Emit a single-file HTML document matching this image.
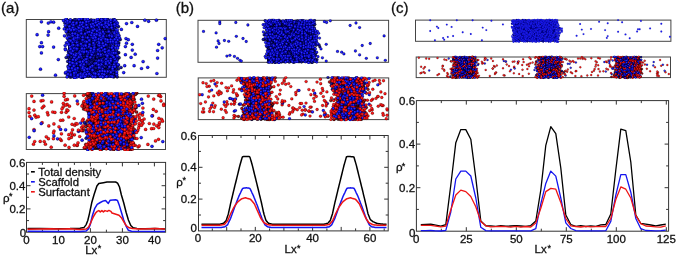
<!DOCTYPE html>
<html><head><meta charset="utf-8"><style>
html,body{margin:0;padding:0;background:#fff;width:677px;height:256px;overflow:hidden}
svg{display:block;will-change:transform}
text{stroke:#111;stroke-width:.3px}
.b{fill:url(#gb)}.r{fill:url(#gr)}.bd{fill:url(#gbd)}.rd{fill:url(#grd)}circle{stroke:#000;stroke-opacity:.45;stroke-width:.4px}.bd circle,.rd circle{stroke-opacity:.6}#ca1g circle{r:1.6px}#ca2g circle{r:1.6px}#cb1g circle{r:1.4px}#cb2g circle{r:1.45px}#cc1g circle{r:0.95px}#cc1g circle{stroke-opacity:.2}#cc1g .b{fill:#1c1cf4}#cc1g .bd{fill:#0505a0}#cc2g circle{r:1.0px}
</style></head><body>
<svg width="677" height="256" viewBox="0 0 677 256" font-family="Liberation Sans, sans-serif" fill="#111">
<defs><radialGradient id="gb" cx=".45" cy=".42" r=".58"><stop offset="0" stop-color="#3a3aff"/><stop offset=".6" stop-color="#0c0cec"/><stop offset="1" stop-color="#000090"/></radialGradient><radialGradient id="gbd" cx=".42" cy=".4" r=".6"><stop offset="0" stop-color="#2020c0"/><stop offset=".55" stop-color="#0a0a90"/><stop offset="1" stop-color="#000030"/></radialGradient><radialGradient id="grd" cx=".42" cy=".4" r=".6"><stop offset="0" stop-color="#c02020"/><stop offset=".55" stop-color="#900a0a"/><stop offset="1" stop-color="#300000"/></radialGradient><radialGradient id="gr" cx=".45" cy=".42" r=".58"><stop offset="0" stop-color="#ff3030"/><stop offset=".65" stop-color="#ec0606"/><stop offset="1" stop-color="#a00000"/></radialGradient></defs>
<rect x="26.3" y="19.5" width="140" height="57.8" fill="#fff" stroke="#444" stroke-width="1"/>
<clipPath id="ca1"><rect x="25.8" y="17.9" width="141" height="61"/></clipPath>
<g clip-path="url(#ca1)" id="ca1g">
<rect x="68" y="19.5" width="47" height="57.8" fill="#000030"/>
<g class="bd">
<circle cx="68.2" cy="66.1"/>
<circle cx="89" cy="61.1"/>
<circle cx="81.2" cy="53.4"/>
<circle cx="96.3" cy="66.6"/>
<circle cx="96.1" cy="52.5"/>
</g>
<g class="b">
<circle cx="131.8" cy="22.5"/>
</g>
<g class="bd">
<circle cx="83.2" cy="56.4"/>
<circle cx="76.2" cy="31.5"/>
<circle cx="119" cy="57.7"/>
<circle cx="78.8" cy="64.3"/>
<circle cx="89.7" cy="71.6"/>
<circle cx="95.4" cy="24.5"/>
<circle cx="64.9" cy="23"/>
<circle cx="96.2" cy="70.5"/>
<circle cx="93.4" cy="56.2"/>
<circle cx="97.5" cy="65.2"/>
<circle cx="93.5" cy="38.7"/>
<circle cx="79" cy="29.4"/>
</g>
<g class="b">
<circle cx="48.1" cy="35.1"/>
</g>
<g class="bd">
<circle cx="115.2" cy="60.6"/>
<circle cx="72.9" cy="41.3"/>
<circle cx="90.4" cy="54"/>
<circle cx="94" cy="66"/>
<circle cx="79.8" cy="60.3"/>
<circle cx="93.2" cy="72.8"/>
<circle cx="69.2" cy="36.2"/>
<circle cx="108.3" cy="36.6"/>
<circle cx="115.6" cy="56.7"/>
<circle cx="103.8" cy="56.4"/>
<circle cx="100.7" cy="60.9"/>
<circle cx="73.5" cy="68.1"/>
<circle cx="94.3" cy="55.3"/>
<circle cx="86.3" cy="36.2"/>
<circle cx="95.9" cy="54.3"/>
<circle cx="96.4" cy="56.1"/>
<circle cx="107" cy="32.7"/>
<circle cx="101.1" cy="27.4"/>
<circle cx="79.2" cy="65.1"/>
</g>
<g class="b">
<circle cx="126.5" cy="23.6"/>
</g>
<g class="bd">
<circle cx="67.9" cy="75.6"/>
<circle cx="110.1" cy="28.5"/>
</g>
<g class="b">
<circle cx="55.5" cy="75.2"/>
<circle cx="157.6" cy="50.5"/>
</g>
<g class="bd">
<circle cx="116.1" cy="63.3"/>
<circle cx="98.3" cy="58.6"/>
<circle cx="71.1" cy="22.4"/>
<circle cx="91.5" cy="60.2"/>
<circle cx="89" cy="37.4"/>
<circle cx="74.2" cy="20"/>
<circle cx="79" cy="71.3"/>
<circle cx="102.8" cy="30.4"/>
<circle cx="117" cy="39.4"/>
<circle cx="101.3" cy="66.6"/>
<circle cx="114.8" cy="75.5"/>
<circle cx="71.8" cy="26.3"/>
<circle cx="112.2" cy="30.9"/>
<circle cx="102.5" cy="51.9"/>
<circle cx="71.3" cy="33.5"/>
<circle cx="78.7" cy="40.2"/>
<circle cx="95.8" cy="43.9"/>
<circle cx="104.1" cy="76.2"/>
<circle cx="96.7" cy="51"/>
<circle cx="115.2" cy="54.6"/>
<circle cx="113.4" cy="59.7"/>
<circle cx="89.1" cy="62.9"/>
</g>
<g class="b">
<circle cx="48.6" cy="31.7"/>
</g>
<g class="bd">
<circle cx="87.9" cy="55.6"/>
<circle cx="90.5" cy="29.3"/>
<circle cx="113.6" cy="49.2"/>
<circle cx="80.6" cy="42.1"/>
<circle cx="92.6" cy="68.1"/>
<circle cx="68.3" cy="39.6"/>
<circle cx="70.4" cy="77.1"/>
<circle cx="92.1" cy="50.8"/>
<circle cx="88" cy="57.7"/>
<circle cx="96.7" cy="72.5"/>
<circle cx="114.7" cy="41.5"/>
<circle cx="107.2" cy="66.7"/>
<circle cx="98.7" cy="76.1"/>
<circle cx="117.2" cy="66.2"/>
<circle cx="78.4" cy="42.1"/>
<circle cx="105.3" cy="28.9"/>
<circle cx="118.7" cy="52.7"/>
<circle cx="80.5" cy="39.5"/>
<circle cx="87.4" cy="20.2"/>
<circle cx="83.9" cy="62.8"/>
<circle cx="114.4" cy="53.9"/>
<circle cx="101.2" cy="59.2"/>
<circle cx="86.3" cy="47.3"/>
<circle cx="90.8" cy="69.3"/>
<circle cx="95.1" cy="52"/>
<circle cx="91.7" cy="46.6"/>
<circle cx="85.6" cy="32.2"/>
<circle cx="88.7" cy="51.5"/>
<circle cx="77.1" cy="46.6"/>
<circle cx="72" cy="53.1"/>
<circle cx="91.9" cy="21.7"/>
<circle cx="105.4" cy="33.2"/>
<circle cx="88.8" cy="65"/>
<circle cx="112.3" cy="29.2"/>
<circle cx="109.1" cy="60.1"/>
<circle cx="95.3" cy="69.6"/>
<circle cx="83.1" cy="72.5"/>
</g>
<g class="b">
<circle cx="53.6" cy="22.2"/>
</g>
<g class="bd">
<circle cx="98.2" cy="76.5"/>
<circle cx="94.1" cy="62.9"/>
<circle cx="109.3" cy="67.4"/>
<circle cx="77" cy="74.4"/>
<circle cx="90.1" cy="37.7"/>
<circle cx="112.5" cy="43.2"/>
<circle cx="75.7" cy="75.1"/>
<circle cx="70.4" cy="31.6"/>
<circle cx="94" cy="20.4"/>
<circle cx="108.9" cy="69.4"/>
<circle cx="77.8" cy="55.7"/>
<circle cx="66.7" cy="31.9"/>
<circle cx="74.8" cy="50.7"/>
<circle cx="100" cy="21.9"/>
<circle cx="110.1" cy="45.2"/>
<circle cx="106.7" cy="69.5"/>
<circle cx="75.3" cy="52.9"/>
<circle cx="111" cy="24.3"/>
<circle cx="111.5" cy="69.4"/>
<circle cx="94.5" cy="21.6"/>
<circle cx="81.3" cy="25.9"/>
<circle cx="106.1" cy="31.9"/>
<circle cx="82.3" cy="61.1"/>
<circle cx="101.7" cy="51.3"/>
<circle cx="84.7" cy="26.2"/>
<circle cx="104.6" cy="40.5"/>
<circle cx="99.7" cy="76.4"/>
<circle cx="102.7" cy="53.9"/>
<circle cx="118.3" cy="68.9"/>
<circle cx="70.6" cy="70.3"/>
<circle cx="80.3" cy="34.3"/>
<circle cx="91.2" cy="19.9"/>
<circle cx="72.2" cy="31.1"/>
<circle cx="88.3" cy="48.1"/>
<circle cx="116.5" cy="73.9"/>
<circle cx="104" cy="25"/>
<circle cx="68.7" cy="54.7"/>
<circle cx="108" cy="29.8"/>
<circle cx="103.7" cy="34.8"/>
<circle cx="90.7" cy="61.9"/>
<circle cx="111.2" cy="72.7"/>
<circle cx="76.9" cy="24.7"/>
<circle cx="89.1" cy="23.4"/>
<circle cx="92.6" cy="42.9"/>
<circle cx="109.9" cy="56"/>
<circle cx="70.2" cy="59.1"/>
<circle cx="106.8" cy="46.8"/>
<circle cx="109" cy="74.2"/>
<circle cx="91.4" cy="30.5"/>
<circle cx="86.1" cy="55.2"/>
</g>
<g class="b">
<circle cx="126" cy="38.6"/>
</g>
<g class="bd">
<circle cx="111.9" cy="21.3"/>
<circle cx="75.8" cy="63.5"/>
<circle cx="111.4" cy="62"/>
<circle cx="75.2" cy="21.9"/>
<circle cx="76.7" cy="59.3"/>
<circle cx="114" cy="71.2"/>
<circle cx="69.1" cy="42.9"/>
<circle cx="103.1" cy="35.6"/>
<circle cx="71.7" cy="76.6"/>
<circle cx="111.9" cy="66.4"/>
<circle cx="69.8" cy="22.8"/>
<circle cx="109.8" cy="33.8"/>
<circle cx="82.6" cy="18.9"/>
<circle cx="95.9" cy="74.7"/>
<circle cx="69.7" cy="56"/>
<circle cx="70.3" cy="20.2"/>
<circle cx="105" cy="64.3"/>
<circle cx="106.1" cy="35.5"/>
<circle cx="71.5" cy="39.5"/>
<circle cx="86.2" cy="65.8"/>
<circle cx="116.7" cy="57.9"/>
<circle cx="92.4" cy="63.5"/>
<circle cx="78.3" cy="48.5"/>
<circle cx="109.6" cy="58.9"/>
<circle cx="99.1" cy="56.6"/>
<circle cx="76.2" cy="45.1"/>
<circle cx="113.6" cy="24.8"/>
<circle cx="91.5" cy="56.9"/>
<circle cx="94.6" cy="68"/>
<circle cx="80.5" cy="36.3"/>
<circle cx="80" cy="69.6"/>
<circle cx="68.1" cy="57.1"/>
<circle cx="84.1" cy="56.6"/>
<circle cx="99.8" cy="73.1"/>
<circle cx="70.9" cy="58"/>
<circle cx="104.9" cy="51.9"/>
<circle cx="77" cy="40.5"/>
<circle cx="117.2" cy="53"/>
</g>
<g class="b">
<circle cx="158.7" cy="44.3"/>
</g>
<g class="bd">
<circle cx="94.5" cy="72.2"/>
<circle cx="106.7" cy="61.1"/>
<circle cx="77.5" cy="65.1"/>
<circle cx="69.7" cy="69.6"/>
<circle cx="106.4" cy="65.4"/>
<circle cx="66.2" cy="57.5"/>
<circle cx="96.5" cy="76.6"/>
<circle cx="104.4" cy="62.5"/>
<circle cx="72.9" cy="56.3"/>
<circle cx="111.1" cy="33.1"/>
<circle cx="91.5" cy="33"/>
<circle cx="121" cy="67.5"/>
</g>
<g class="b">
<circle cx="148.6" cy="21.3"/>
</g>
<g class="bd">
<circle cx="75.6" cy="46.2"/>
<circle cx="104" cy="55"/>
<circle cx="103.3" cy="19.3"/>
<circle cx="85.2" cy="22.7"/>
<circle cx="80.6" cy="60.1"/>
<circle cx="107.9" cy="19.5"/>
<circle cx="76" cy="35.1"/>
<circle cx="88.3" cy="33.1"/>
<circle cx="81.1" cy="72.5"/>
<circle cx="98.3" cy="68.9"/>
<circle cx="99.2" cy="42.8"/>
<circle cx="95.9" cy="48.9"/>
<circle cx="87.7" cy="68.6"/>
<circle cx="85" cy="73.2"/>
<circle cx="74.4" cy="25.9"/>
<circle cx="79.1" cy="55.9"/>
<circle cx="107.4" cy="45.2"/>
<circle cx="73.4" cy="46.2"/>
<circle cx="118.4" cy="26.6"/>
<circle cx="92.8" cy="40.7"/>
<circle cx="106.1" cy="71"/>
<circle cx="104.9" cy="42.9"/>
<circle cx="87.6" cy="38.7"/>
<circle cx="89.1" cy="43.1"/>
<circle cx="96.2" cy="41.1"/>
<circle cx="78.1" cy="53.1"/>
<circle cx="90.2" cy="47.6"/>
<circle cx="72.4" cy="59.8"/>
<circle cx="93.2" cy="35.5"/>
<circle cx="84.3" cy="29.4"/>
<circle cx="80" cy="24.4"/>
<circle cx="115.1" cy="27.7"/>
<circle cx="108.5" cy="69.2"/>
<circle cx="95.5" cy="47.7"/>
<circle cx="114.4" cy="28.3"/>
<circle cx="95.6" cy="27.1"/>
<circle cx="94.1" cy="27.6"/>
<circle cx="68.2" cy="28.3"/>
<circle cx="79.1" cy="44.4"/>
<circle cx="115.1" cy="32.6"/>
<circle cx="81.9" cy="40.1"/>
<circle cx="82.2" cy="32.5"/>
<circle cx="114.4" cy="47"/>
<circle cx="75" cy="19.7"/>
<circle cx="111.7" cy="44.9"/>
<circle cx="109.7" cy="36.9"/>
<circle cx="108.3" cy="47.6"/>
<circle cx="79.1" cy="68.8"/>
<circle cx="114.2" cy="62.1"/>
<circle cx="107.6" cy="73.1"/>
<circle cx="68.5" cy="52.1"/>
<circle cx="75.5" cy="62"/>
<circle cx="87.8" cy="71.4"/>
<circle cx="82.8" cy="31"/>
<circle cx="110.9" cy="41.1"/>
</g>
<g class="b">
<circle cx="134.1" cy="65.7"/>
</g>
<g class="bd">
<circle cx="81.2" cy="68.2"/>
<circle cx="117.2" cy="76.8"/>
<circle cx="113.8" cy="76.4"/>
<circle cx="103.9" cy="58"/>
<circle cx="99.7" cy="39.7"/>
</g>
<g class="b">
<circle cx="141.5" cy="68.5"/>
</g>
<g class="bd">
<circle cx="107.1" cy="41"/>
<circle cx="94.2" cy="57.4"/>
<circle cx="72.8" cy="51.9"/>
<circle cx="88.7" cy="68.7"/>
<circle cx="81.5" cy="69.2"/>
</g>
<g class="b">
<circle cx="135.2" cy="54.2"/>
</g>
<g class="bd">
<circle cx="86.3" cy="30.4"/>
<circle cx="92.1" cy="48.6"/>
<circle cx="86.9" cy="47.9"/>
<circle cx="106.3" cy="49.9"/>
<circle cx="81.6" cy="58.7"/>
<circle cx="116.4" cy="69.1"/>
<circle cx="107.5" cy="32.3"/>
<circle cx="109.6" cy="70.9"/>
<circle cx="67.7" cy="34.5"/>
<circle cx="116.9" cy="54"/>
<circle cx="79" cy="32.9"/>
<circle cx="76.8" cy="50.5"/>
<circle cx="107" cy="35.5"/>
<circle cx="92.6" cy="60"/>
<circle cx="92.5" cy="76.2"/>
<circle cx="83.2" cy="29.6"/>
<circle cx="113.5" cy="73.9"/>
<circle cx="120.2" cy="39.6"/>
<circle cx="88.9" cy="28.9"/>
<circle cx="103.5" cy="66"/>
<circle cx="113.6" cy="44.7"/>
<circle cx="73.5" cy="59.2"/>
<circle cx="108.9" cy="49.2"/>
<circle cx="71.6" cy="24.4"/>
<circle cx="117.4" cy="59.5"/>
<circle cx="87.6" cy="52.6"/>
<circle cx="90.7" cy="45.4"/>
<circle cx="108.5" cy="68.7"/>
<circle cx="101" cy="19.3"/>
<circle cx="73.3" cy="71.1"/>
<circle cx="70.2" cy="64.6"/>
<circle cx="97.9" cy="29.1"/>
<circle cx="76.4" cy="19.8"/>
<circle cx="106.1" cy="42.4"/>
<circle cx="114.7" cy="51.5"/>
<circle cx="90.5" cy="66.4"/>
<circle cx="106" cy="67"/>
</g>
<g class="b">
<circle cx="48.3" cy="23.1"/>
</g>
<g class="bd">
<circle cx="74.6" cy="42"/>
<circle cx="118.8" cy="42.9"/>
<circle cx="78.3" cy="22.3"/>
<circle cx="98.7" cy="46.8"/>
<circle cx="108.9" cy="28.8"/>
<circle cx="112.7" cy="29.6"/>
<circle cx="97.2" cy="29.3"/>
<circle cx="102.2" cy="41.2"/>
<circle cx="85.1" cy="59.1"/>
<circle cx="83.1" cy="35"/>
<circle cx="115.2" cy="70.9"/>
<circle cx="82.6" cy="77.9"/>
<circle cx="107.7" cy="64.9"/>
<circle cx="91.9" cy="62.1"/>
<circle cx="101.3" cy="45.9"/>
<circle cx="83" cy="50.8"/>
<circle cx="97.5" cy="51.8"/>
<circle cx="101.7" cy="70.6"/>
<circle cx="79.1" cy="74"/>
<circle cx="87.9" cy="25.3"/>
<circle cx="99.6" cy="41.9"/>
<circle cx="94.1" cy="59.7"/>
<circle cx="87.2" cy="63.9"/>
<circle cx="100.2" cy="53"/>
<circle cx="106.8" cy="36.3"/>
</g>
<g class="b">
<circle cx="41.4" cy="42.7"/>
</g>
<g class="bd">
<circle cx="92.9" cy="45.4"/>
<circle cx="113.1" cy="38.9"/>
<circle cx="109.7" cy="47.7"/>
<circle cx="99.2" cy="36.7"/>
<circle cx="96.2" cy="62.6"/>
<circle cx="101.6" cy="26.7"/>
<circle cx="80.4" cy="23.3"/>
<circle cx="90.8" cy="63.2"/>
</g>
<g class="b">
<circle cx="156.9" cy="73.5"/>
</g>
<g class="bd">
<circle cx="96.1" cy="68.2"/>
<circle cx="84.1" cy="66"/>
<circle cx="104.3" cy="60.2"/>
<circle cx="103.8" cy="44.8"/>
<circle cx="104.7" cy="67"/>
<circle cx="82.1" cy="58.4"/>
<circle cx="71.8" cy="42.7"/>
<circle cx="106.9" cy="73.1"/>
<circle cx="71.3" cy="70.9"/>
<circle cx="75.3" cy="65.3"/>
<circle cx="104.6" cy="70.5"/>
<circle cx="74.7" cy="27.4"/>
<circle cx="94.9" cy="76.4"/>
<circle cx="99.7" cy="48.1"/>
<circle cx="94.4" cy="55.9"/>
<circle cx="113.8" cy="19.1"/>
<circle cx="77" cy="62.9"/>
</g>
<g class="b">
<circle cx="65.2" cy="45.5"/>
</g>
<g class="bd">
<circle cx="96.9" cy="42.5"/>
<circle cx="115.2" cy="67.1"/>
<circle cx="88.5" cy="76.1"/>
<circle cx="67.6" cy="25.3"/>
<circle cx="93.5" cy="58"/>
<circle cx="113" cy="32.1"/>
<circle cx="96.3" cy="60.7"/>
<circle cx="84.4" cy="39.2"/>
<circle cx="97.3" cy="57.5"/>
<circle cx="90.8" cy="74.5"/>
<circle cx="88.9" cy="34.9"/>
<circle cx="71.4" cy="57.1"/>
<circle cx="69.4" cy="34.1"/>
<circle cx="107.1" cy="49.3"/>
<circle cx="70.6" cy="35.1"/>
<circle cx="82" cy="41"/>
<circle cx="77.7" cy="26.7"/>
<circle cx="75.4" cy="37.3"/>
<circle cx="96.5" cy="33.2"/>
<circle cx="100.8" cy="46"/>
<circle cx="101.1" cy="70.7"/>
<circle cx="106.6" cy="55.7"/>
<circle cx="82.8" cy="64"/>
<circle cx="84" cy="54.7"/>
<circle cx="90.4" cy="39.7"/>
<circle cx="85.4" cy="36.1"/>
<circle cx="73.5" cy="30.9"/>
<circle cx="104.8" cy="29.3"/>
<circle cx="85.1" cy="23.7"/>
<circle cx="90.5" cy="42.8"/>
<circle cx="81.8" cy="51.3"/>
<circle cx="90" cy="20.9"/>
<circle cx="92.5" cy="72"/>
<circle cx="105.8" cy="49.3"/>
<circle cx="71.9" cy="47.6"/>
<circle cx="82.1" cy="24.8"/>
<circle cx="81.3" cy="49.2"/>
<circle cx="116.6" cy="51.1"/>
<circle cx="85.7" cy="37.6"/>
<circle cx="90.3" cy="41.5"/>
<circle cx="98.8" cy="25.3"/>
<circle cx="83.6" cy="53.9"/>
</g>
<g class="b">
<circle cx="40.5" cy="69.2"/>
</g>
<g class="bd">
<circle cx="100.7" cy="31.7"/>
<circle cx="70.9" cy="36.9"/>
<circle cx="78.9" cy="45.8"/>
<circle cx="89.3" cy="64.4"/>
<circle cx="117.7" cy="42.5"/>
<circle cx="97.9" cy="72"/>
<circle cx="67.8" cy="61.4"/>
<circle cx="68.8" cy="50.7"/>
<circle cx="84.6" cy="43"/>
<circle cx="113.8" cy="76.8"/>
<circle cx="77.1" cy="22.2"/>
<circle cx="81.5" cy="46.7"/>
<circle cx="110.8" cy="64.8"/>
<circle cx="78.3" cy="62"/>
<circle cx="94.8" cy="23.3"/>
<circle cx="66.2" cy="27.2"/>
<circle cx="82.2" cy="70.2"/>
<circle cx="77.1" cy="33.6"/>
<circle cx="83" cy="42.3"/>
<circle cx="102.6" cy="30.5"/>
<circle cx="109.9" cy="55"/>
<circle cx="65.8" cy="28.7"/>
<circle cx="102.5" cy="58.8"/>
<circle cx="69.7" cy="59.4"/>
<circle cx="100.9" cy="63.6"/>
<circle cx="113.2" cy="66.3"/>
<circle cx="66.7" cy="19.5"/>
<circle cx="113.6" cy="58"/>
<circle cx="86.9" cy="33.3"/>
<circle cx="112.8" cy="37.1"/>
</g>
<g class="b">
<circle cx="101.3" cy="55.6"/>
<circle cx="92.4" cy="37.4"/>
<circle cx="115.3" cy="62.3"/>
<circle cx="72.1" cy="45.6"/>
<circle cx="117.5" cy="37.5"/>
<circle cx="107.7" cy="76.5"/>
<circle cx="84" cy="27"/>
<circle cx="107.7" cy="71.5"/>
<circle cx="93" cy="27.4"/>
<circle cx="80.6" cy="73.9"/>
<circle cx="115.3" cy="23.7"/>
<circle cx="114" cy="64.6"/>
<circle cx="83.2" cy="46"/>
<circle cx="112.4" cy="51.1"/>
<circle cx="116.7" cy="74.6"/>
<circle cx="112.8" cy="70.6"/>
<circle cx="84.7" cy="72.3"/>
<circle cx="88.6" cy="21.4"/>
<circle cx="85.9" cy="75.9"/>
<circle cx="69.7" cy="26.2"/>
<circle cx="88.1" cy="38.3"/>
<circle cx="107.4" cy="76"/>
<circle cx="112.7" cy="46.4"/>
<circle cx="107.1" cy="60.5"/>
<circle cx="84.8" cy="75.1"/>
<circle cx="68" cy="71.4"/>
<circle cx="106.3" cy="54.7"/>
<circle cx="104.1" cy="27.1"/>
<circle cx="72.3" cy="28.3"/>
<circle cx="87.7" cy="32.3"/>
<circle cx="70.7" cy="74.2"/>
<circle cx="123.7" cy="72.6"/>
<circle cx="81.2" cy="64.1"/>
<circle cx="93.3" cy="30.2"/>
<circle cx="118.4" cy="45.1"/>
<circle cx="80.6" cy="65.4"/>
<circle cx="111.3" cy="20.5"/>
<circle cx="84.9" cy="68.2"/>
<circle cx="114.6" cy="35.5"/>
<circle cx="71.6" cy="65.1"/>
<circle cx="79.3" cy="75.5"/>
<circle cx="82.1" cy="45.5"/>
<circle cx="70.5" cy="19.8"/>
<circle cx="75.3" cy="55.7"/>
<circle cx="103.3" cy="50.3"/>
<circle cx="110.9" cy="53"/>
<circle cx="68.7" cy="74.9"/>
<circle cx="70.4" cy="52.5"/>
<circle cx="91.3" cy="24.2"/>
<circle cx="89.4" cy="68.8"/>
<circle cx="157.6" cy="58.1"/>
<circle cx="58.3" cy="59.6"/>
<circle cx="117.1" cy="25.3"/>
<circle cx="117.3" cy="56"/>
<circle cx="90.8" cy="52.4"/>
<circle cx="95.7" cy="39.7"/>
<circle cx="89.1" cy="46.7"/>
<circle cx="118.5" cy="45.1"/>
<circle cx="76.6" cy="30.6"/>
<circle cx="116.5" cy="37.8"/>
<circle cx="73.6" cy="54.6"/>
<circle cx="110.4" cy="61.5"/>
<circle cx="90.6" cy="50.8"/>
<circle cx="67.6" cy="29.6"/>
<circle cx="114.9" cy="25.9"/>
<circle cx="74.1" cy="77.4"/>
<circle cx="81.3" cy="75.3"/>
<circle cx="101.5" cy="34.2"/>
<circle cx="90.9" cy="25"/>
<circle cx="108.1" cy="61.2"/>
<circle cx="80.8" cy="56.8"/>
<circle cx="65.3" cy="48.8"/>
<circle cx="115.7" cy="53.1"/>
<circle cx="64.3" cy="28.9"/>
<circle cx="118" cy="33"/>
<circle cx="72.4" cy="42.6"/>
<circle cx="93.5" cy="30.6"/>
<circle cx="103.1" cy="20.8"/>
<circle cx="71.4" cy="53.5"/>
<circle cx="71.7" cy="49.9"/>
<circle cx="99.8" cy="71.3"/>
<circle cx="95.3" cy="76.7"/>
<circle cx="84" cy="50"/>
<circle cx="78.3" cy="38.2"/>
<circle cx="115.3" cy="47.6"/>
<circle cx="115" cy="59.2"/>
<circle cx="99.7" cy="61.2"/>
<circle cx="117.6" cy="40"/>
<circle cx="99" cy="26.9"/>
<circle cx="79.9" cy="51.4"/>
<circle cx="77.5" cy="38.6"/>
<circle cx="111.8" cy="40"/>
<circle cx="66.4" cy="42.8"/>
<circle cx="93.2" cy="25"/>
<circle cx="68.3" cy="70.7"/>
<circle cx="83.3" cy="74.4"/>
<circle cx="114.7" cy="39.4"/>
<circle cx="109.6" cy="51.8"/>
<circle cx="110.6" cy="76.3"/>
<circle cx="89.4" cy="31.9"/>
<circle cx="143.1" cy="61.6"/>
<circle cx="72.7" cy="35.7"/>
<circle cx="72.9" cy="27.7"/>
<circle cx="87.2" cy="56.5"/>
<circle cx="94.3" cy="25.6"/>
<circle cx="99.2" cy="49.1"/>
<circle cx="83" cy="26.8"/>
<circle cx="76.6" cy="63.6"/>
<circle cx="89.6" cy="44.6"/>
<circle cx="98.8" cy="41.6"/>
<circle cx="94" cy="73.4"/>
<circle cx="90.6" cy="67.1"/>
<circle cx="100.9" cy="37.2"/>
<circle cx="110.9" cy="58.8"/>
<circle cx="103.4" cy="77"/>
<circle cx="105.7" cy="41"/>
<circle cx="39.8" cy="46.6"/>
<circle cx="72.7" cy="51.1"/>
<circle cx="94.2" cy="34"/>
<circle cx="79.3" cy="52.5"/>
<circle cx="98.8" cy="32.4"/>
<circle cx="69.4" cy="26.6"/>
<circle cx="76.8" cy="42.5"/>
<circle cx="93.3" cy="52.4"/>
<circle cx="98.3" cy="61.5"/>
<circle cx="76.7" cy="71"/>
<circle cx="115.9" cy="29.9"/>
<circle cx="82.4" cy="51.6"/>
<circle cx="106.7" cy="76.5"/>
<circle cx="99.5" cy="29.7"/>
<circle cx="75.1" cy="68.5"/>
<circle cx="114.2" cy="21.2"/>
<circle cx="79.4" cy="53.5"/>
<circle cx="101.8" cy="24.7"/>
<circle cx="74" cy="37.8"/>
<circle cx="84.3" cy="48.6"/>
<circle cx="110.2" cy="23.7"/>
<circle cx="114.6" cy="24.4"/>
<circle cx="87.3" cy="59.1"/>
<circle cx="83" cy="76.4"/>
<circle cx="104.2" cy="38.5"/>
<circle cx="116.7" cy="72"/>
<circle cx="98" cy="21.5"/>
<circle cx="104.7" cy="24.3"/>
<circle cx="80.4" cy="22.6"/>
<circle cx="105.8" cy="39.3"/>
<circle cx="113.1" cy="50.1"/>
<circle cx="115.2" cy="34.5"/>
<circle cx="124.7" cy="65.7"/>
<circle cx="114.7" cy="32.3"/>
<circle cx="110.6" cy="39.6"/>
<circle cx="101.6" cy="47.7"/>
<circle cx="102.2" cy="20.9"/>
<circle cx="94.8" cy="63.6"/>
<circle cx="74.3" cy="74.8"/>
<circle cx="116.6" cy="47.5"/>
<circle cx="65.4" cy="73.1"/>
<circle cx="125.4" cy="54.7"/>
<circle cx="85.2" cy="41.6"/>
<circle cx="69.7" cy="29.2"/>
<circle cx="77.2" cy="58.9"/>
<circle cx="118.5" cy="65"/>
<circle cx="111.3" cy="25"/>
<circle cx="76.7" cy="29.5"/>
<circle cx="111.4" cy="76"/>
<circle cx="101.5" cy="75.8"/>
<circle cx="98.4" cy="44.9"/>
<circle cx="102.4" cy="61.7"/>
<circle cx="68" cy="55.1"/>
<circle cx="74.4" cy="57.5"/>
<circle cx="92.6" cy="70.2"/>
<circle cx="77.1" cy="69.7"/>
<circle cx="68.2" cy="67"/>
<circle cx="118.9" cy="35.5"/>
<circle cx="102.5" cy="38"/>
<circle cx="104" cy="33.7"/>
<circle cx="94.3" cy="50.8"/>
<circle cx="102.3" cy="73.9"/>
<circle cx="70.6" cy="64.4"/>
<circle cx="100.5" cy="23.1"/>
<circle cx="117.4" cy="23.1"/>
<circle cx="110.9" cy="72.4"/>
<circle cx="82.9" cy="66.5"/>
<circle cx="86.2" cy="42.6"/>
<circle cx="79.4" cy="30.9"/>
<circle cx="69.9" cy="62.2"/>
<circle cx="94.8" cy="37.3"/>
<circle cx="75.5" cy="29.4"/>
<circle cx="104.8" cy="49.4"/>
<circle cx="110.7" cy="42.6"/>
<circle cx="76.4" cy="54"/>
<circle cx="41.4" cy="21.8"/>
<circle cx="69.9" cy="22"/>
<circle cx="109.5" cy="63.1"/>
<circle cx="111" cy="54.7"/>
<circle cx="65.3" cy="25.5"/>
<circle cx="106.5" cy="76.5"/>
<circle cx="75.1" cy="33.7"/>
<circle cx="116.1" cy="21.6"/>
<circle cx="113.4" cy="42.6"/>
<circle cx="94.3" cy="44.9"/>
<circle cx="102.8" cy="45.2"/>
<circle cx="82.7" cy="68.3"/>
<circle cx="111.7" cy="27.7"/>
<circle cx="91.5" cy="26.8"/>
<circle cx="78.8" cy="37.6"/>
<circle cx="108.7" cy="54.3"/>
<circle cx="112.4" cy="76.6"/>
<circle cx="71.2" cy="30.2"/>
<circle cx="67.5" cy="42.6"/>
<circle cx="79.9" cy="25.5"/>
<circle cx="73.6" cy="63.8"/>
<circle cx="75.6" cy="71.3"/>
<circle cx="93.5" cy="43.1"/>
<circle cx="105.9" cy="62.3"/>
<circle cx="81.1" cy="19"/>
<circle cx="80.7" cy="77.1"/>
<circle cx="88" cy="53.7"/>
<circle cx="107" cy="26.4"/>
<circle cx="144.9" cy="20.2"/>
<circle cx="112.5" cy="55.7"/>
<circle cx="74.2" cy="48.3"/>
<circle cx="115.7" cy="48"/>
<circle cx="99.4" cy="45.5"/>
<circle cx="72.4" cy="24.3"/>
<circle cx="81.1" cy="44"/>
<circle cx="76.1" cy="48.6"/>
<circle cx="110.7" cy="22.6"/>
<circle cx="99.7" cy="50.9"/>
<circle cx="85.1" cy="33.8"/>
<circle cx="115" cy="20.2"/>
<circle cx="109.5" cy="66.9"/>
<circle cx="111.9" cy="47.8"/>
<circle cx="106.4" cy="26.6"/>
<circle cx="69.9" cy="65.1"/>
<circle cx="68.7" cy="44.5"/>
<circle cx="105.8" cy="44.7"/>
<circle cx="118" cy="64.5"/>
<circle cx="147.7" cy="67.3"/>
<circle cx="106.3" cy="26.1"/>
<circle cx="108.7" cy="53"/>
<circle cx="80.9" cy="28.4"/>
<circle cx="72.6" cy="70.1"/>
<circle cx="100.7" cy="55.7"/>
<circle cx="95.8" cy="20.3"/>
<circle cx="71.9" cy="62.8"/>
<circle cx="101.5" cy="64.6"/>
<circle cx="81.5" cy="29.1"/>
<circle cx="82" cy="24.5"/>
<circle cx="107.3" cy="27.2"/>
<circle cx="101.3" cy="60.6"/>
<circle cx="112.9" cy="41.6"/>
<circle cx="76.1" cy="23.9"/>
<circle cx="75.8" cy="60.1"/>
<circle cx="98.9" cy="60.5"/>
<circle cx="103.8" cy="46"/>
<circle cx="77" cy="48.8"/>
<circle cx="42.6" cy="46.6"/>
<circle cx="102.4" cy="68.8"/>
<circle cx="117.7" cy="48.1"/>
<circle cx="37.1" cy="34.7"/>
<circle cx="93.1" cy="23.8"/>
<circle cx="76.2" cy="38.1"/>
<circle cx="78.6" cy="35.3"/>
<circle cx="97.7" cy="30.8"/>
<circle cx="68" cy="74.2"/>
<circle cx="108.6" cy="21.5"/>
<circle cx="121.4" cy="29.4"/>
<circle cx="69.9" cy="46.9"/>
<circle cx="87.7" cy="37.7"/>
<circle cx="112.8" cy="67"/>
<circle cx="78.9" cy="57.3"/>
<circle cx="50.9" cy="21.8"/>
<circle cx="111.8" cy="35.5"/>
<circle cx="64.5" cy="35.8"/>
<circle cx="84.1" cy="60.3"/>
<circle cx="63.5" cy="20.6"/>
<circle cx="119.6" cy="37.9"/>
<circle cx="103.3" cy="36.3"/>
<circle cx="102.6" cy="71.1"/>
<circle cx="85.9" cy="22.8"/>
<circle cx="72.9" cy="59.9"/>
<circle cx="94.4" cy="47.5"/>
<circle cx="113.7" cy="57.2"/>
<circle cx="132.3" cy="44.3"/>
<circle cx="77.7" cy="68.1"/>
<circle cx="82.7" cy="39.9"/>
<circle cx="80.4" cy="54.7"/>
<circle cx="95.5" cy="73.7"/>
<circle cx="105.1" cy="52.1"/>
<circle cx="101.6" cy="19.6"/>
<circle cx="70.8" cy="75.1"/>
<circle cx="94.6" cy="29.6"/>
<circle cx="100.1" cy="76.5"/>
<circle cx="95.8" cy="22.5"/>
<circle cx="99.3" cy="43.2"/>
<circle cx="82.7" cy="37.3"/>
<circle cx="116.5" cy="44.2"/>
<circle cx="76.6" cy="23"/>
<circle cx="116.2" cy="42.3"/>
<circle cx="99.8" cy="65.9"/>
<circle cx="110.4" cy="41.8"/>
<circle cx="84" cy="45.9"/>
<circle cx="107.9" cy="51.4"/>
<circle cx="69.6" cy="40.5"/>
<circle cx="90.7" cy="75.1"/>
<circle cx="94.1" cy="49.6"/>
<circle cx="105.9" cy="64"/>
<circle cx="81.2" cy="30.6"/>
<circle cx="58.7" cy="28.2"/>
<circle cx="88.1" cy="52.5"/>
<circle cx="100.8" cy="54.7"/>
<circle cx="86.8" cy="41.8"/>
<circle cx="86.5" cy="62"/>
<circle cx="98.7" cy="39.1"/>
<circle cx="96.9" cy="31.1"/>
<circle cx="156.4" cy="20.2"/>
<circle cx="85" cy="76.6"/>
<circle cx="100.2" cy="67.9"/>
<circle cx="104.9" cy="71.5"/>
<circle cx="91" cy="48.4"/>
<circle cx="96.3" cy="63.3"/>
<circle cx="74.4" cy="40.4"/>
<circle cx="91.3" cy="35.2"/>
<circle cx="73.8" cy="66.2"/>
<circle cx="91.8" cy="54.8"/>
<circle cx="78.8" cy="27.8"/>
<circle cx="73.4" cy="45"/>
<circle cx="85.1" cy="19.7"/>
<circle cx="84" cy="64.5"/>
<circle cx="86.5" cy="24.9"/>
<circle cx="68.8" cy="68.3"/>
<circle cx="65.8" cy="72.3"/>
<circle cx="98.2" cy="54.2"/>
<circle cx="73.6" cy="39.2"/>
<circle cx="87.6" cy="71.5"/>
<circle cx="116.9" cy="31.8"/>
<circle cx="81.3" cy="33.6"/>
<circle cx="86.5" cy="74.5"/>
<circle cx="93.2" cy="20.5"/>
<circle cx="77.8" cy="35.3"/>
<circle cx="78.9" cy="19.5"/>
<circle cx="77.7" cy="37.5"/>
<circle cx="94.7" cy="40.3"/>
<circle cx="98.7" cy="64.8"/>
<circle cx="98.7" cy="74.4"/>
<circle cx="86.2" cy="28.2"/>
<circle cx="102.8" cy="43.4"/>
<circle cx="117.2" cy="29.9"/>
<circle cx="100.1" cy="24.9"/>
<circle cx="66" cy="19.2"/>
<circle cx="53.6" cy="47.1"/>
<circle cx="75.8" cy="72.7"/>
<circle cx="99" cy="24"/>
<circle cx="73.2" cy="22.6"/>
<circle cx="107.4" cy="57.7"/>
<circle cx="97.7" cy="19.2"/>
<circle cx="162.2" cy="47.8"/>
<circle cx="108.1" cy="23.6"/>
<circle cx="66.2" cy="31.6"/>
<circle cx="77.5" cy="76.8"/>
<circle cx="93.3" cy="38.2"/>
<circle cx="70.8" cy="40.9"/>
<circle cx="72.5" cy="33.5"/>
<circle cx="82.7" cy="61.7"/>
<circle cx="74.1" cy="73"/>
<circle cx="65.4" cy="49.7"/>
<circle cx="104.3" cy="74.5"/>
<circle cx="97.2" cy="25.2"/>
<circle cx="87.8" cy="19.3"/>
<circle cx="103.1" cy="31.9"/>
<circle cx="80.1" cy="62"/>
<circle cx="82.1" cy="48.6"/>
<circle cx="77.7" cy="45.3"/>
<circle cx="75.2" cy="69.6"/>
<circle cx="74" cy="29.8"/>
<circle cx="107.9" cy="42"/>
<circle cx="105.6" cy="21.6"/>
<circle cx="126.5" cy="43.2"/>
<circle cx="72.7" cy="63"/>
<circle cx="92.6" cy="76.7"/>
<circle cx="75.1" cy="77.8"/>
<circle cx="82.8" cy="22.7"/>
<circle cx="68.7" cy="36.8"/>
<circle cx="94.5" cy="35.8"/>
<circle cx="87.8" cy="27.6"/>
<circle cx="137.5" cy="26.4"/>
<circle cx="101.8" cy="25"/>
<circle cx="110.7" cy="20.1"/>
<circle cx="89.3" cy="40.4"/>
<circle cx="84.3" cy="70.2"/>
<circle cx="105.5" cy="23.2"/>
<circle cx="102.6" cy="76.8"/>
<circle cx="116.7" cy="61.5"/>
<circle cx="66.1" cy="22.1"/>
<circle cx="110.9" cy="60.8"/>
<circle cx="85.4" cy="45.3"/>
<circle cx="98" cy="49.8"/>
<circle cx="111.9" cy="36.5"/>
<circle cx="118.4" cy="35.3"/>
<circle cx="92.4" cy="65.8"/>
<circle cx="67.6" cy="22.8"/>
<circle cx="75.7" cy="55.4"/>
<circle cx="73.5" cy="25.1"/>
<circle cx="108.9" cy="31.6"/>
<circle cx="112.7" cy="68.8"/>
<circle cx="86.6" cy="51.5"/>
<circle cx="109" cy="25.1"/>
<circle cx="105.5" cy="19.3"/>
<circle cx="99" cy="67.6"/>
<circle cx="97.9" cy="35.1"/>
<circle cx="85.8" cy="45.7"/>
<circle cx="67.1" cy="76.9"/>
<circle cx="107.4" cy="55.9"/>
<circle cx="109.4" cy="35.5"/>
<circle cx="41.4" cy="52.9"/>
<circle cx="128.3" cy="39.7"/>
<circle cx="70.6" cy="49.2"/>
<circle cx="100.3" cy="33.4"/>
<circle cx="132.3" cy="50.1"/>
<circle cx="91.9" cy="32.9"/>
<circle cx="131.1" cy="57.4"/>
<circle cx="114.4" cy="33.3"/>
<circle cx="96.6" cy="34.4"/>
<circle cx="86.2" cy="59.3"/>
<circle cx="67.5" cy="20.9"/>
<circle cx="86.4" cy="21.8"/>
<circle cx="113.6" cy="53"/>
<circle cx="115" cy="66.8"/>
<circle cx="109" cy="50.7"/>
<circle cx="70.2" cy="71.4"/>
<circle cx="125.4" cy="46.6"/>
<circle cx="89.3" cy="73.9"/>
<circle cx="165.2" cy="38.6"/>
<circle cx="90.4" cy="57.5"/>
<circle cx="67.2" cy="37.9"/>
<circle cx="77.9" cy="75.2"/>
<circle cx="92.9" cy="30.6"/>
<circle cx="99.8" cy="35.5"/>
<circle cx="107.6" cy="39.8"/>
<circle cx="95.7" cy="37.5"/>
<circle cx="101.2" cy="39.8"/>
<circle cx="72" cy="68.3"/>
<circle cx="87.2" cy="69"/>
<circle cx="106.1" cy="59.1"/>
<circle cx="84.1" cy="52.1"/>
</g>
</g>
<rect x="26.3" y="93.6" width="139.2" height="55.9" fill="#fff" stroke="#444" stroke-width="1"/>
<clipPath id="ca2"><rect x="25.8" y="92" width="140.2" height="59.1"/></clipPath>
<g clip-path="url(#ca2)" id="ca2g">
<rect x="91" y="93.6" width="39" height="55.9" fill="#200018"/>
<g class="r">
<circle cx="72.1" cy="124.3"/>
<circle cx="67.4" cy="99.4"/>
</g>
<g class="bd">
<circle cx="136.1" cy="107.6"/>
<circle cx="117.7" cy="147"/>
<circle cx="125.1" cy="102.4"/>
<circle cx="123.3" cy="134.3"/>
<circle cx="119.4" cy="103.7"/>
</g>
<g class="rd">
<circle cx="99.8" cy="136.3"/>
</g>
<g class="r">
<circle cx="53.4" cy="138.7"/>
</g>
<g class="bd">
<circle cx="120.1" cy="99.9"/>
<circle cx="97.4" cy="143.5"/>
</g>
<g class="rd">
<circle cx="102.4" cy="148.5"/>
</g>
<g class="r">
<circle cx="36.1" cy="117.2"/>
</g>
<g class="rd">
<circle cx="119.8" cy="96"/>
<circle cx="105.1" cy="120.6"/>
<circle cx="125.3" cy="139.1"/>
<circle cx="134.1" cy="109.8"/>
<circle cx="105.5" cy="141.1"/>
</g>
<g class="r">
<circle cx="48.8" cy="125.9"/>
</g>
<g class="rd">
<circle cx="88.3" cy="136.2"/>
</g>
<g class="bd">
<circle cx="134.3" cy="121.1"/>
</g>
<g class="rd">
<circle cx="88.1" cy="96.2"/>
</g>
<g class="bd">
<circle cx="108.4" cy="121.1"/>
</g>
<g class="rd">
<circle cx="133.2" cy="143.2"/>
<circle cx="128.5" cy="147.2"/>
</g>
<g class="bd">
<circle cx="102.3" cy="107.3"/>
<circle cx="105.7" cy="139.5"/>
<circle cx="115.4" cy="102.4"/>
</g>
<g class="rd">
<circle cx="129.8" cy="122.2"/>
</g>
<g class="bd">
<circle cx="126.7" cy="136.5"/>
<circle cx="89" cy="143.9"/>
</g>
<g class="rd">
<circle cx="91.2" cy="141.2"/>
<circle cx="105.2" cy="109.3"/>
</g>
<g class="bd">
<circle cx="117.7" cy="105.2"/>
<circle cx="103.8" cy="128.6"/>
</g>
<g class="rd">
<circle cx="91.6" cy="104.2"/>
<circle cx="106.4" cy="97.9"/>
<circle cx="124.2" cy="119.2"/>
<circle cx="95.2" cy="147.4"/>
<circle cx="119.1" cy="145.7"/>
<circle cx="88.5" cy="112.1"/>
<circle cx="104.8" cy="109"/>
<circle cx="136.7" cy="93.2"/>
</g>
<g class="bd">
<circle cx="106.3" cy="128"/>
</g>
<g class="rd">
<circle cx="129.9" cy="124.5"/>
</g>
<g class="bd">
<circle cx="102" cy="100.8"/>
</g>
<g class="r">
<circle cx="54" cy="131.1"/>
</g>
<g class="bd">
<circle cx="128.3" cy="119.7"/>
</g>
<g class="rd">
<circle cx="111.5" cy="109.4"/>
</g>
<g class="r">
<circle cx="161.6" cy="119.3"/>
</g>
<g class="rd">
<circle cx="104.3" cy="103.2"/>
<circle cx="130.1" cy="115.1"/>
<circle cx="126" cy="141.8"/>
<circle cx="129.4" cy="144.6"/>
<circle cx="103.4" cy="129.9"/>
<circle cx="103.2" cy="113.2"/>
</g>
<g class="r">
<circle cx="148.3" cy="96.1"/>
</g>
<g class="bd">
<circle cx="119.9" cy="114.6"/>
</g>
<g class="rd">
<circle cx="130.2" cy="94.9"/>
</g>
<g class="bd">
<circle cx="117.5" cy="130.7"/>
<circle cx="121.7" cy="139.7"/>
<circle cx="86" cy="124.2"/>
<circle cx="131.8" cy="99.2"/>
</g>
<g class="r">
<circle cx="79.7" cy="136.5"/>
</g>
<g class="bd">
<circle cx="103.1" cy="143.2"/>
<circle cx="128.1" cy="98.2"/>
</g>
<g class="rd">
<circle cx="96.2" cy="142.9"/>
<circle cx="89.8" cy="93.4"/>
<circle cx="129.2" cy="130.6"/>
<circle cx="128" cy="146.9"/>
<circle cx="105.3" cy="100.1"/>
</g>
<g class="bd">
<circle cx="103.2" cy="100.9"/>
</g>
<g class="r">
<circle cx="137.7" cy="130.6"/>
</g>
<g class="bd">
<circle cx="108.3" cy="130.6"/>
<circle cx="111.5" cy="114.9"/>
</g>
<g class="rd">
<circle cx="123.5" cy="106.9"/>
<circle cx="136.5" cy="112"/>
</g>
<g class="bd">
<circle cx="122.9" cy="142"/>
</g>
<g class="rd">
<circle cx="130.9" cy="109.5"/>
<circle cx="88.3" cy="103.8"/>
<circle cx="134.1" cy="99.3"/>
</g>
<g class="bd">
<circle cx="106" cy="148.4"/>
<circle cx="127.3" cy="142.1"/>
</g>
<g class="r">
<circle cx="69" cy="147.4"/>
</g>
<g class="rd">
<circle cx="115.1" cy="130.4"/>
</g>
<g class="r">
<circle cx="153.7" cy="99.1"/>
</g>
<g class="rd">
<circle cx="123.4" cy="130.5"/>
<circle cx="93.2" cy="137.2"/>
</g>
<g class="r">
<circle cx="34" cy="129.6"/>
</g>
<g class="bd">
<circle cx="101.2" cy="122.4"/>
</g>
<g class="rd">
<circle cx="130.7" cy="105.8"/>
<circle cx="126.8" cy="115.3"/>
<circle cx="83.6" cy="108.9"/>
<circle cx="118.5" cy="126.9"/>
</g>
<g class="bd">
<circle cx="123.5" cy="133.3"/>
</g>
<g class="rd">
<circle cx="123.5" cy="94.6"/>
</g>
<g class="r">
<circle cx="142.9" cy="108"/>
</g>
<g class="bd">
<circle cx="127.1" cy="111.5"/>
</g>
<g class="rd">
<circle cx="87.9" cy="125.4"/>
<circle cx="87.6" cy="103.2"/>
<circle cx="129.3" cy="141"/>
<circle cx="107.4" cy="108.3"/>
<circle cx="135.4" cy="94.4"/>
</g>
<g class="r">
<circle cx="151.5" cy="128.7"/>
</g>
<g class="b">
<circle cx="65.6" cy="129.8"/>
</g>
<g class="rd">
<circle cx="133.2" cy="128.8"/>
</g>
<g class="r">
<circle cx="159.1" cy="124.4"/>
</g>
<g class="bd">
<circle cx="114.2" cy="131.7"/>
</g>
<g class="rd">
<circle cx="125.6" cy="115.6"/>
<circle cx="93.1" cy="113.7"/>
</g>
<g class="r">
<circle cx="83.2" cy="119.2"/>
</g>
<g class="rd">
<circle cx="91.4" cy="138.3"/>
</g>
<g class="r">
<circle cx="153.8" cy="124.1"/>
</g>
<g class="bd">
<circle cx="91.3" cy="100.5"/>
</g>
<g class="rd">
<circle cx="110.7" cy="144"/>
<circle cx="128.7" cy="101"/>
<circle cx="94.7" cy="122.2"/>
<circle cx="103.4" cy="134.6"/>
<circle cx="90.3" cy="96.3"/>
</g>
<g class="r">
<circle cx="145.6" cy="129.4"/>
</g>
<g class="rd">
<circle cx="132.4" cy="134.9"/>
</g>
<g class="bd">
<circle cx="113.4" cy="145.8"/>
<circle cx="111.8" cy="127.1"/>
<circle cx="128.6" cy="108.7"/>
</g>
<g class="rd">
<circle cx="98.7" cy="140.2"/>
<circle cx="123.9" cy="138.7"/>
</g>
<g class="bd">
<circle cx="127.7" cy="145.1"/>
<circle cx="100.3" cy="101.7"/>
<circle cx="120.8" cy="133.8"/>
</g>
<g class="rd">
<circle cx="115.3" cy="124.4"/>
<circle cx="87.9" cy="131.9"/>
</g>
<g class="r">
<circle cx="63.1" cy="106.9"/>
</g>
<g class="bd">
<circle cx="86.2" cy="138.2"/>
</g>
<g class="rd">
<circle cx="93.2" cy="108.5"/>
</g>
<g class="bd">
<circle cx="115.4" cy="126.9"/>
</g>
<g class="r">
<circle cx="158.8" cy="127.6"/>
</g>
<g class="bd">
<circle cx="131.9" cy="106.8"/>
</g>
<g class="rd">
<circle cx="91.9" cy="126.1"/>
<circle cx="112.5" cy="119.3"/>
<circle cx="120" cy="137.7"/>
<circle cx="94.7" cy="121.3"/>
<circle cx="94.3" cy="119.7"/>
<circle cx="132.1" cy="104.2"/>
</g>
<g class="bd">
<circle cx="119.8" cy="106.6"/>
</g>
<g class="rd">
<circle cx="134.9" cy="138.2"/>
</g>
<g class="bd">
<circle cx="116.8" cy="118.2"/>
<circle cx="106.7" cy="135.7"/>
<circle cx="130.5" cy="96.2"/>
<circle cx="122" cy="121"/>
</g>
<g class="rd">
<circle cx="90.2" cy="105.1"/>
<circle cx="104.8" cy="114.6"/>
</g>
<g class="bd">
<circle cx="113.3" cy="98.7"/>
</g>
<g class="rd">
<circle cx="110" cy="133"/>
</g>
<g class="bd">
<circle cx="132.4" cy="137.8"/>
<circle cx="111.4" cy="129.5"/>
</g>
<g class="rd">
<circle cx="96.9" cy="132.7"/>
</g>
<g class="bd">
<circle cx="118.7" cy="142.5"/>
</g>
<g class="rd">
<circle cx="89.2" cy="101.7"/>
<circle cx="103.2" cy="105.1"/>
</g>
<g class="bd">
<circle cx="95.8" cy="127.1"/>
<circle cx="126.9" cy="125.4"/>
</g>
<g class="r">
<circle cx="137.7" cy="115"/>
</g>
<g class="bd">
<circle cx="92.3" cy="93.1"/>
</g>
<g class="r">
<circle cx="84.2" cy="147.8"/>
</g>
<g class="rd">
<circle cx="84.3" cy="107.2"/>
</g>
<g class="bd">
<circle cx="109.6" cy="148.5"/>
</g>
<g class="r">
<circle cx="77.7" cy="103.8"/>
</g>
<g class="bd">
<circle cx="102.2" cy="124.6"/>
<circle cx="109.5" cy="127.8"/>
</g>
<g class="r">
<circle cx="163.8" cy="104.2"/>
</g>
<g class="rd">
<circle cx="94.3" cy="96"/>
<circle cx="104.7" cy="97.7"/>
</g>
<g class="r">
<circle cx="139.2" cy="123.6"/>
</g>
<g class="bd">
<circle cx="102.9" cy="129.4"/>
</g>
<g class="r">
<circle cx="40.2" cy="141.4"/>
</g>
<g class="rd">
<circle cx="98.6" cy="121.5"/>
<circle cx="88.8" cy="107.3"/>
<circle cx="90.9" cy="132.7"/>
<circle cx="97" cy="138.9"/>
<circle cx="89.5" cy="106"/>
</g>
<g class="b">
<circle cx="141.2" cy="137.6"/>
</g>
<g class="bd">
<circle cx="117.9" cy="131.4"/>
</g>
<g class="rd">
<circle cx="129.1" cy="141.5"/>
<circle cx="95.7" cy="144.1"/>
<circle cx="133.1" cy="116.6"/>
<circle cx="113.2" cy="125.2"/>
<circle cx="133.5" cy="130.3"/>
</g>
<g class="bd">
<circle cx="128.5" cy="121.6"/>
</g>
<g class="rd">
<circle cx="90.5" cy="110.9"/>
<circle cx="94.3" cy="137.7"/>
</g>
<g class="bd">
<circle cx="111" cy="144.6"/>
</g>
<g class="b">
<circle cx="31.6" cy="118.6"/>
</g>
<g class="rd">
<circle cx="122.9" cy="115.2"/>
</g>
<g class="bd">
<circle cx="123.2" cy="128.7"/>
<circle cx="107.6" cy="134"/>
<circle cx="91.1" cy="134"/>
</g>
<g class="rd">
<circle cx="97.9" cy="118.2"/>
</g>
<g class="r">
<circle cx="136.9" cy="138.5"/>
</g>
<g class="rd">
<circle cx="101.4" cy="139.8"/>
</g>
<g class="bd">
<circle cx="123.4" cy="121.9"/>
<circle cx="110.1" cy="142.8"/>
</g>
<g class="r">
<circle cx="42.1" cy="122.7"/>
</g>
<g class="rd">
<circle cx="99.6" cy="144.5"/>
<circle cx="121.3" cy="128.1"/>
</g>
<g class="bd">
<circle cx="110.8" cy="111"/>
</g>
<g class="rd">
<circle cx="99.8" cy="106"/>
<circle cx="125.8" cy="93.7"/>
</g>
<g class="bd">
<circle cx="102.1" cy="121.6"/>
<circle cx="106.1" cy="145"/>
</g>
<g class="rd">
<circle cx="94.2" cy="99"/>
</g>
<g class="bd">
<circle cx="103.6" cy="110.4"/>
<circle cx="109.1" cy="119.7"/>
<circle cx="112.5" cy="121.3"/>
<circle cx="113.6" cy="136.9"/>
<circle cx="117" cy="108.2"/>
</g>
<g class="rd">
<circle cx="118.7" cy="119.9"/>
<circle cx="96.4" cy="105.8"/>
</g>
<g class="bd">
<circle cx="106.7" cy="117.5"/>
</g>
<g class="rd">
<circle cx="126.3" cy="139.4"/>
<circle cx="112.1" cy="147.7"/>
<circle cx="90" cy="115"/>
</g>
<g class="r">
<circle cx="33.5" cy="144.2"/>
</g>
<g class="bd">
<circle cx="104.6" cy="119.3"/>
</g>
<g class="rd">
<circle cx="86.6" cy="148.2"/>
<circle cx="118.3" cy="129.1"/>
<circle cx="116.9" cy="133.8"/>
</g>
<g class="bd">
<circle cx="96.6" cy="133.5"/>
</g>
<g class="rd">
<circle cx="127.7" cy="137.6"/>
<circle cx="132.6" cy="126"/>
</g>
<g class="bd">
<circle cx="108.4" cy="101.8"/>
</g>
<g class="rd">
<circle cx="109" cy="112.3"/>
</g>
<g class="bd">
<circle cx="111.5" cy="98.7"/>
</g>
<g class="rd">
<circle cx="113.7" cy="125.8"/>
<circle cx="94.6" cy="124.8"/>
</g>
<g class="bd">
<circle cx="99.4" cy="112.9"/>
</g>
<g class="r">
<circle cx="65.5" cy="99.9"/>
</g>
<g class="rd">
<circle cx="91.7" cy="122.8"/>
<circle cx="130.8" cy="138.1"/>
</g>
<g class="r">
<circle cx="161" cy="100.9"/>
<circle cx="43.8" cy="106.2"/>
</g>
<g class="rd">
<circle cx="97.4" cy="112.3"/>
</g>
<g class="r">
<circle cx="83.4" cy="129"/>
<circle cx="152.5" cy="115.7"/>
</g>
<g class="rd">
<circle cx="98.6" cy="102"/>
</g>
<g class="bd">
<circle cx="92" cy="124.9"/>
<circle cx="109.2" cy="134.9"/>
</g>
<g class="rd">
<circle cx="133.8" cy="109.1"/>
<circle cx="94.7" cy="97.8"/>
</g>
<g class="r">
<circle cx="158.5" cy="139.3"/>
</g>
<g class="bd">
<circle cx="108.6" cy="104.8"/>
</g>
<g class="rd">
<circle cx="102.9" cy="146.6"/>
<circle cx="103.1" cy="125.9"/>
<circle cx="134.2" cy="129.4"/>
<circle cx="131.1" cy="141.9"/>
<circle cx="95.3" cy="133.2"/>
</g>
<g class="bd">
<circle cx="110.4" cy="102"/>
<circle cx="111.1" cy="141.7"/>
<circle cx="115.2" cy="123.7"/>
</g>
<g class="rd">
<circle cx="99.7" cy="100.4"/>
<circle cx="93.9" cy="103.3"/>
</g>
<g class="bd">
<circle cx="106.9" cy="103.2"/>
<circle cx="134.4" cy="132.9"/>
</g>
<g class="b">
<circle cx="60.6" cy="129.4"/>
</g>
<g class="rd">
<circle cx="129.3" cy="96"/>
</g>
<g class="bd">
<circle cx="115.6" cy="112"/>
</g>
<g class="rd">
<circle cx="124.3" cy="122"/>
</g>
<g class="r">
<circle cx="142" cy="120.9"/>
</g>
<g class="rd">
<circle cx="90.6" cy="123.9"/>
</g>
<g class="bd">
<circle cx="87.7" cy="110.5"/>
<circle cx="91" cy="130.8"/>
<circle cx="118.1" cy="109.6"/>
</g>
<g class="rd">
<circle cx="85.8" cy="144.3"/>
<circle cx="129.8" cy="145"/>
<circle cx="130.6" cy="150"/>
</g>
<g class="bd">
<circle cx="100.2" cy="107.4"/>
</g>
<g class="rd">
<circle cx="93.5" cy="102.5"/>
<circle cx="83" cy="130.7"/>
</g>
<g class="bd">
<circle cx="111.3" cy="133.6"/>
<circle cx="113.1" cy="109.1"/>
<circle cx="86.5" cy="130.1"/>
</g>
<g class="rd">
<circle cx="123" cy="100.3"/>
<circle cx="86.7" cy="94.7"/>
</g>
<g class="r">
<circle cx="42.2" cy="107.8"/>
<circle cx="59" cy="126.8"/>
</g>
<g class="bd">
<circle cx="135.1" cy="118.9"/>
</g>
<g class="r">
<circle cx="62.8" cy="120.2"/>
</g>
<g class="rd">
<circle cx="96.1" cy="146.3"/>
<circle cx="97.1" cy="147"/>
<circle cx="107.8" cy="140.6"/>
</g>
<g class="bd">
<circle cx="120" cy="100.7"/>
<circle cx="100.3" cy="94.8"/>
</g>
<g class="rd">
<circle cx="95.4" cy="145.7"/>
</g>
<g class="bd">
<circle cx="109.8" cy="125.6"/>
<circle cx="121.4" cy="144"/>
<circle cx="108.4" cy="99.4"/>
</g>
<g class="rd">
<circle cx="89.8" cy="97.6"/>
<circle cx="91.4" cy="146.2"/>
<circle cx="95.3" cy="140.3"/>
<circle cx="108.2" cy="145.1"/>
<circle cx="127.1" cy="98.4"/>
</g>
<g class="bd">
<circle cx="108.8" cy="97.3"/>
</g>
<g class="r">
<circle cx="74.7" cy="95.9"/>
</g>
<g class="rd">
<circle cx="88.9" cy="98.1"/>
</g>
<g class="bd">
<circle cx="116.5" cy="117.6"/>
<circle cx="131.2" cy="98.4"/>
</g>
<g class="rd">
<circle cx="85.8" cy="126.6"/>
</g>
<g class="bd">
<circle cx="103.8" cy="140.1"/>
</g>
<g class="rd">
<circle cx="87.2" cy="121.2"/>
<circle cx="121.7" cy="95.1"/>
<circle cx="132.4" cy="135.5"/>
</g>
<g class="bd">
<circle cx="101.6" cy="149.2"/>
</g>
<g class="rd">
<circle cx="112.9" cy="141.2"/>
</g>
<g class="r">
<circle cx="41.1" cy="100.9"/>
</g>
<g class="bd">
<circle cx="104.8" cy="116.1"/>
<circle cx="97.4" cy="141.3"/>
</g>
<g class="rd">
<circle cx="129.1" cy="149.1"/>
<circle cx="114.5" cy="118.1"/>
</g>
<g class="bd">
<circle cx="84.4" cy="122.5"/>
</g>
<g class="rd">
<circle cx="89.3" cy="110.1"/>
</g>
<g class="bd">
<circle cx="132.3" cy="132.5"/>
</g>
<g class="rd">
<circle cx="132.1" cy="102.3"/>
<circle cx="93.3" cy="116.7"/>
<circle cx="103.7" cy="141"/>
<circle cx="95.8" cy="97.8"/>
</g>
<g class="bd">
<circle cx="102.3" cy="106"/>
</g>
<g class="rd">
<circle cx="100" cy="121.6"/>
</g>
<g class="bd">
<circle cx="125.8" cy="148.6"/>
</g>
<g class="rd">
<circle cx="107.1" cy="93.6"/>
<circle cx="112.3" cy="102.9"/>
</g>
<g class="bd">
<circle cx="99" cy="106.9"/>
<circle cx="115" cy="141.1"/>
<circle cx="130.6" cy="139.5"/>
<circle cx="111.2" cy="135.4"/>
</g>
<g class="rd">
<circle cx="129.7" cy="99.5"/>
<circle cx="113.3" cy="112.5"/>
<circle cx="103.9" cy="127.3"/>
<circle cx="129" cy="134.6"/>
</g>
<g class="bd">
<circle cx="114.3" cy="99"/>
</g>
<g class="rd">
<circle cx="130" cy="126.6"/>
</g>
<g class="bd">
<circle cx="121.8" cy="146.7"/>
</g>
<g class="rd">
<circle cx="90.4" cy="121.1"/>
<circle cx="122.1" cy="136.7"/>
</g>
<g class="bd">
<circle cx="101.5" cy="113.8"/>
</g>
<g class="rd">
<circle cx="97.5" cy="109.9"/>
<circle cx="130" cy="124.6"/>
</g>
<g class="bd">
<circle cx="99" cy="123.8"/>
<circle cx="111" cy="95.4"/>
</g>
<g class="rd">
<circle cx="110.4" cy="139.6"/>
<circle cx="107.1" cy="136.7"/>
<circle cx="96" cy="102.3"/>
</g>
<g class="bd">
<circle cx="105" cy="120.5"/>
</g>
<g class="rd">
<circle cx="111.7" cy="129"/>
<circle cx="89.2" cy="120.3"/>
<circle cx="117.6" cy="140"/>
<circle cx="110.9" cy="139"/>
</g>
<g class="r">
<circle cx="153.6" cy="128.5"/>
</g>
<g class="rd">
<circle cx="93.6" cy="100.9"/>
<circle cx="121.1" cy="117"/>
</g>
<g class="bd">
<circle cx="92" cy="115.8"/>
</g>
<g class="rd">
<circle cx="82.8" cy="104.9"/>
<circle cx="113.7" cy="149.8"/>
</g>
<g class="b">
<circle cx="105.9" cy="96"/>
</g>
<g class="r">
<circle cx="88.4" cy="119.5"/>
</g>
<g class="b">
<circle cx="94.6" cy="94.3"/>
</g>
<g class="r">
<circle cx="158.6" cy="95.5"/>
<circle cx="159.5" cy="122.6"/>
<circle cx="131.5" cy="143.3"/>
</g>
<g class="b">
<circle cx="123.8" cy="140.3"/>
</g>
<g class="r">
<circle cx="61.5" cy="112.3"/>
<circle cx="34" cy="110.1"/>
</g>
<g class="b">
<circle cx="120.5" cy="123.6"/>
</g>
<g class="r">
<circle cx="83.7" cy="102.6"/>
<circle cx="121.9" cy="129.6"/>
<circle cx="86.7" cy="133.4"/>
</g>
<g class="b">
<circle cx="92.3" cy="106.3"/>
</g>
<g class="r">
<circle cx="98.4" cy="122.6"/>
<circle cx="163.7" cy="105.4"/>
<circle cx="64.1" cy="93.4"/>
<circle cx="51.2" cy="147.2"/>
</g>
<g class="b">
<circle cx="118" cy="150"/>
<circle cx="115.4" cy="114.9"/>
</g>
<g class="r">
<circle cx="64.1" cy="96.3"/>
<circle cx="153.3" cy="109.4"/>
<circle cx="127.2" cy="129.8"/>
<circle cx="120.5" cy="114.2"/>
</g>
<g class="b">
<circle cx="126.2" cy="99.3"/>
</g>
<g class="r">
<circle cx="97.9" cy="127.6"/>
</g>
<g class="b">
<circle cx="95.7" cy="95.6"/>
</g>
<g class="r">
<circle cx="104.7" cy="138.3"/>
</g>
<g class="b">
<circle cx="93" cy="98.8"/>
</g>
<g class="r">
<circle cx="95.2" cy="142.7"/>
<circle cx="84" cy="101.3"/>
<circle cx="117.7" cy="112.4"/>
<circle cx="92.7" cy="145"/>
</g>
<g class="b">
<circle cx="104.8" cy="124.8"/>
</g>
<g class="r">
<circle cx="45.4" cy="144.2"/>
<circle cx="100" cy="141.1"/>
<circle cx="129.7" cy="110.4"/>
<circle cx="136" cy="105.3"/>
<circle cx="113.3" cy="103.7"/>
<circle cx="96.1" cy="129.6"/>
<circle cx="66.1" cy="112.3"/>
<circle cx="112.2" cy="114"/>
</g>
<g class="b">
<circle cx="111.5" cy="105.6"/>
<circle cx="106.6" cy="134.8"/>
<circle cx="106.4" cy="105.6"/>
</g>
<g class="r">
<circle cx="129.3" cy="128.6"/>
<circle cx="107.8" cy="138.3"/>
<circle cx="98.3" cy="104.3"/>
</g>
<g class="b">
<circle cx="126.1" cy="105"/>
</g>
<g class="r">
<circle cx="101.8" cy="117.4"/>
<circle cx="92.6" cy="120.4"/>
<circle cx="156.6" cy="125.8"/>
</g>
<g class="b">
<circle cx="111.5" cy="100.9"/>
</g>
<g class="r">
<circle cx="113.2" cy="111.9"/>
<circle cx="74.4" cy="134.8"/>
<circle cx="135.2" cy="145.3"/>
<circle cx="130.9" cy="146.2"/>
</g>
<g class="b">
<circle cx="82.1" cy="140.2"/>
</g>
<g class="r">
<circle cx="105.2" cy="132.6"/>
<circle cx="98.9" cy="136.6"/>
<circle cx="142.5" cy="115.1"/>
<circle cx="131.6" cy="127.8"/>
<circle cx="130.8" cy="106.5"/>
<circle cx="120" cy="139.8"/>
</g>
<g class="b">
<circle cx="107.1" cy="96.5"/>
</g>
<g class="r">
<circle cx="96.3" cy="118.5"/>
<circle cx="81.3" cy="130.6"/>
<circle cx="131.4" cy="102.7"/>
<circle cx="108.3" cy="118.2"/>
<circle cx="106.3" cy="118.7"/>
<circle cx="95.7" cy="136.3"/>
</g>
<g class="b">
<circle cx="100.9" cy="96.2"/>
</g>
<g class="r">
<circle cx="93.9" cy="108.9"/>
</g>
<g class="b">
<circle cx="98.2" cy="145.3"/>
<circle cx="98.1" cy="138.9"/>
<circle cx="141.5" cy="99.2"/>
</g>
<g class="r">
<circle cx="63.3" cy="103.4"/>
<circle cx="96" cy="100.3"/>
<circle cx="92.7" cy="131.8"/>
<circle cx="128.4" cy="132.2"/>
</g>
<g class="b">
<circle cx="116.1" cy="148.4"/>
</g>
<g class="r">
<circle cx="91.3" cy="129"/>
<circle cx="115.8" cy="136"/>
<circle cx="124.5" cy="135.9"/>
</g>
<g class="b">
<circle cx="114.4" cy="107.7"/>
<circle cx="93" cy="133.4"/>
<circle cx="133.4" cy="121.4"/>
</g>
<g class="r">
<circle cx="96.3" cy="94.7"/>
<circle cx="100.4" cy="149.9"/>
</g>
<g class="b">
<circle cx="117.8" cy="145.4"/>
</g>
<g class="r">
<circle cx="119.7" cy="94.1"/>
<circle cx="126.5" cy="128.5"/>
<circle cx="102.9" cy="103"/>
</g>
<g class="b">
<circle cx="99.3" cy="139.3"/>
</g>
<g class="r">
<circle cx="101.4" cy="98.6"/>
</g>
<g class="b">
<circle cx="124.4" cy="113.6"/>
</g>
<g class="r">
<circle cx="139.2" cy="117.4"/>
<circle cx="90.2" cy="118.5"/>
<circle cx="127.4" cy="126.9"/>
</g>
<g class="b">
<circle cx="134.7" cy="123.6"/>
</g>
<g class="r">
<circle cx="105.7" cy="111.2"/>
</g>
<g class="b">
<circle cx="102.5" cy="135.7"/>
<circle cx="99.9" cy="127.8"/>
<circle cx="116.5" cy="96.3"/>
</g>
<g class="r">
<circle cx="138.1" cy="146.8"/>
<circle cx="107.5" cy="116.6"/>
</g>
<g class="b">
<circle cx="89.9" cy="101.6"/>
</g>
<g class="r">
<circle cx="109.6" cy="94.1"/>
<circle cx="120" cy="134.4"/>
<circle cx="123" cy="102.4"/>
</g>
<g class="b">
<circle cx="124" cy="146.3"/>
</g>
<g class="r">
<circle cx="110.9" cy="149.1"/>
<circle cx="81.7" cy="127.3"/>
</g>
<g class="b">
<circle cx="116.4" cy="113.6"/>
</g>
<g class="r">
<circle cx="144.1" cy="119"/>
<circle cx="128.1" cy="137.8"/>
<circle cx="94.8" cy="104.6"/>
</g>
<g class="b">
<circle cx="94.8" cy="128.9"/>
</g>
<g class="r">
<circle cx="96.2" cy="127.9"/>
<circle cx="43" cy="100.5"/>
<circle cx="108.7" cy="108.8"/>
</g>
<g class="b">
<circle cx="122.5" cy="126.3"/>
<circle cx="93.8" cy="125.9"/>
</g>
<g class="r">
<circle cx="116.9" cy="124.8"/>
</g>
<g class="b">
<circle cx="92.3" cy="98.3"/>
</g>
<g class="r">
<circle cx="110.3" cy="127.5"/>
<circle cx="95.5" cy="121.1"/>
</g>
<g class="b">
<circle cx="105.6" cy="93.3"/>
</g>
<g class="r">
<circle cx="101.4" cy="131.4"/>
<circle cx="101.5" cy="134"/>
</g>
<g class="b">
<circle cx="108.4" cy="147.9"/>
</g>
<g class="r">
<circle cx="71.3" cy="137.4"/>
<circle cx="61.3" cy="140.5"/>
</g>
<g class="b">
<circle cx="108" cy="111.2"/>
<circle cx="112.8" cy="101.7"/>
<circle cx="125.7" cy="129.1"/>
</g>
<g class="r">
<circle cx="133.1" cy="98.8"/>
</g>
<g class="b">
<circle cx="118" cy="101.5"/>
</g>
<g class="r">
<circle cx="110.6" cy="99.1"/>
</g>
<g class="b">
<circle cx="121.6" cy="124.9"/>
</g>
<g class="r">
<circle cx="89.8" cy="140.9"/>
<circle cx="124.6" cy="107.3"/>
<circle cx="83.6" cy="95.3"/>
<circle cx="122.5" cy="98.6"/>
<circle cx="34" cy="101.4"/>
</g>
<g class="b">
<circle cx="124.9" cy="97.6"/>
<circle cx="152" cy="115.9"/>
</g>
<g class="r">
<circle cx="158.9" cy="118.3"/>
</g>
<g class="b">
<circle cx="100.9" cy="122.5"/>
<circle cx="89.1" cy="140"/>
</g>
<g class="r">
<circle cx="129.2" cy="106.1"/>
<circle cx="87.6" cy="109.8"/>
<circle cx="29" cy="108.7"/>
<circle cx="99.4" cy="108.7"/>
<circle cx="121.1" cy="96.9"/>
</g>
<g class="b">
<circle cx="124" cy="124.5"/>
</g>
<g class="r">
<circle cx="110.2" cy="115"/>
</g>
<g class="b">
<circle cx="78.5" cy="131.3"/>
</g>
<g class="r">
<circle cx="101.1" cy="133.6"/>
</g>
<g class="b">
<circle cx="122.2" cy="126.3"/>
<circle cx="116.2" cy="133.6"/>
<circle cx="93.2" cy="106.8"/>
<circle cx="99.6" cy="114.1"/>
</g>
<g class="r">
<circle cx="53.5" cy="132.8"/>
<circle cx="120.6" cy="104.3"/>
</g>
<g class="b">
<circle cx="103.7" cy="99.9"/>
</g>
<g class="r">
<circle cx="140.2" cy="113.8"/>
<circle cx="48.4" cy="138.7"/>
<circle cx="102.8" cy="98.9"/>
<circle cx="77.1" cy="145.5"/>
<circle cx="95.4" cy="109.3"/>
<circle cx="99" cy="130.3"/>
<circle cx="113.4" cy="139"/>
</g>
<g class="b">
<circle cx="113.6" cy="94.8"/>
</g>
<g class="r">
<circle cx="115" cy="140.9"/>
<circle cx="118.9" cy="122.8"/>
</g>
<g class="b">
<circle cx="113" cy="120.7"/>
</g>
<g class="r">
<circle cx="102.5" cy="96.8"/>
</g>
<g class="b">
<circle cx="89.1" cy="100.2"/>
</g>
<g class="r">
<circle cx="135.6" cy="105.9"/>
</g>
<g class="b">
<circle cx="126" cy="117.9"/>
<circle cx="114.5" cy="116.1"/>
<circle cx="110.2" cy="145.1"/>
</g>
<g class="r">
<circle cx="87.7" cy="93.7"/>
</g>
<g class="b">
<circle cx="114.7" cy="93.9"/>
</g>
<g class="r">
<circle cx="52.7" cy="112"/>
<circle cx="91.4" cy="116.7"/>
<circle cx="112.2" cy="107.5"/>
<circle cx="139.1" cy="125.8"/>
<circle cx="123.8" cy="96.5"/>
<circle cx="132.6" cy="112.6"/>
<circle cx="105.4" cy="127.2"/>
</g>
<g class="b">
<circle cx="121.3" cy="113.6"/>
</g>
<g class="r">
<circle cx="105.4" cy="108"/>
<circle cx="94" cy="134.8"/>
<circle cx="38.3" cy="116.7"/>
</g>
<g class="b">
<circle cx="114.5" cy="105.5"/>
<circle cx="93.6" cy="131"/>
</g>
<g class="r">
<circle cx="88.8" cy="137.6"/>
</g>
<g class="b">
<circle cx="92.1" cy="143.6"/>
</g>
<g class="r">
<circle cx="81.9" cy="106.1"/>
<circle cx="90.8" cy="110"/>
<circle cx="127" cy="131.8"/>
</g>
<g class="b">
<circle cx="92.7" cy="128.4"/>
<circle cx="89.6" cy="122.5"/>
<circle cx="109.5" cy="103.6"/>
<circle cx="114.1" cy="130.4"/>
</g>
<g class="r">
<circle cx="61.4" cy="133.8"/>
<circle cx="133" cy="142.6"/>
</g>
<g class="b">
<circle cx="117.1" cy="93"/>
<circle cx="105.5" cy="130.4"/>
</g>
<g class="r">
<circle cx="125.1" cy="124.7"/>
<circle cx="107.2" cy="125"/>
</g>
<g class="b">
<circle cx="113.1" cy="140.9"/>
</g>
<g class="r">
<circle cx="133.4" cy="96.4"/>
<circle cx="96.4" cy="113.4"/>
</g>
<g class="b">
<circle cx="130.8" cy="134.7"/>
</g>
<g class="r">
<circle cx="108.8" cy="129.3"/>
</g>
<g class="b">
<circle cx="96.2" cy="111.9"/>
<circle cx="125.4" cy="104.4"/>
<circle cx="118.7" cy="132"/>
</g>
<g class="r">
<circle cx="123.5" cy="105.2"/>
<circle cx="129.3" cy="135.8"/>
<circle cx="92" cy="149.6"/>
<circle cx="94.1" cy="112.5"/>
<circle cx="98.7" cy="135.1"/>
<circle cx="120.6" cy="104.7"/>
</g>
<g class="b">
<circle cx="121.5" cy="93.9"/>
</g>
<g class="r">
<circle cx="83.1" cy="125.9"/>
<circle cx="122.9" cy="112.8"/>
<circle cx="48" cy="114.8"/>
<circle cx="34.8" cy="115.2"/>
<circle cx="29.8" cy="116.3"/>
<circle cx="130.3" cy="136.5"/>
</g>
<g class="b">
<circle cx="117.2" cy="97.2"/>
<circle cx="102.3" cy="143"/>
<circle cx="57.5" cy="138.8"/>
</g>
<g class="r">
<circle cx="88.6" cy="142.9"/>
</g>
<g class="b">
<circle cx="119" cy="127.9"/>
</g>
<g class="r">
<circle cx="123.5" cy="103.2"/>
</g>
<g class="b">
<circle cx="87.8" cy="149.8"/>
<circle cx="120.3" cy="143.4"/>
</g>
<g class="r">
<circle cx="88.7" cy="146.1"/>
</g>
<g class="b">
<circle cx="117.3" cy="111.5"/>
</g>
<g class="r">
<circle cx="134" cy="110.4"/>
<circle cx="100.3" cy="129.6"/>
<circle cx="103" cy="115.9"/>
</g>
<g class="b">
<circle cx="113.2" cy="134.8"/>
</g>
<g class="r">
<circle cx="106.3" cy="148.8"/>
</g>
<g class="b">
<circle cx="109.3" cy="110"/>
</g>
<g class="r">
<circle cx="129.7" cy="104.1"/>
</g>
<g class="b">
<circle cx="120.5" cy="110.1"/>
<circle cx="42.6" cy="95.2"/>
</g>
<g class="r">
<circle cx="97.5" cy="105.1"/>
<circle cx="127.6" cy="101.7"/>
<circle cx="149.3" cy="123.5"/>
</g>
<g class="b">
<circle cx="120.4" cy="130.7"/>
<circle cx="91.1" cy="123.3"/>
</g>
<g class="r">
<circle cx="142.9" cy="123.2"/>
<circle cx="127.7" cy="103.2"/>
<circle cx="109.4" cy="122.3"/>
</g>
<g class="b">
<circle cx="118.1" cy="117.8"/>
<circle cx="113.6" cy="127.8"/>
</g>
<g class="r">
<circle cx="124.4" cy="134.4"/>
<circle cx="125.9" cy="137.8"/>
</g>
<g class="b">
<circle cx="127.5" cy="113.7"/>
<circle cx="121.2" cy="138.7"/>
<circle cx="110.2" cy="148.9"/>
</g>
<g class="r">
<circle cx="162.5" cy="121.2"/>
<circle cx="99.1" cy="111.6"/>
<circle cx="120" cy="147.4"/>
<circle cx="88.3" cy="130.5"/>
<circle cx="102.7" cy="132.1"/>
</g>
<g class="b">
<circle cx="108.4" cy="144.6"/>
</g>
<g class="r">
<circle cx="99.6" cy="126.2"/>
</g>
<g class="b">
<circle cx="117.7" cy="100"/>
</g>
<g class="r">
<circle cx="101.5" cy="138.9"/>
</g>
<g class="b">
<circle cx="142.4" cy="103.3"/>
</g>
<g class="r">
<circle cx="129.8" cy="113"/>
</g>
<g class="b">
<circle cx="104.6" cy="135.9"/>
</g>
<g class="r">
<circle cx="103.8" cy="122.9"/>
<circle cx="90.5" cy="127.1"/>
</g>
<g class="b">
<circle cx="77.2" cy="101"/>
<circle cx="135.5" cy="131.1"/>
<circle cx="94.3" cy="111.2"/>
<circle cx="121.2" cy="148"/>
</g>
<g class="r">
<circle cx="124.5" cy="110.4"/>
<circle cx="156.2" cy="111.3"/>
</g>
<g class="b">
<circle cx="96.1" cy="115"/>
</g>
<g class="r">
<circle cx="142" cy="120.7"/>
</g>
<g class="b">
<circle cx="110.1" cy="130"/>
<circle cx="88.9" cy="114.6"/>
</g>
<g class="r">
<circle cx="115.1" cy="132"/>
<circle cx="89.4" cy="148.3"/>
<circle cx="114" cy="148.6"/>
<circle cx="113" cy="115.7"/>
<circle cx="91.4" cy="112.5"/>
</g>
<g class="b">
<circle cx="120.7" cy="142.3"/>
</g>
<g class="r">
<circle cx="129" cy="116.6"/>
</g>
<g class="b">
<circle cx="124.2" cy="120.3"/>
<circle cx="97.1" cy="103.7"/>
</g>
<g class="r">
<circle cx="122.7" cy="111.6"/>
</g>
<g class="b">
<circle cx="152" cy="146.3"/>
</g>
<g class="r">
<circle cx="90" cy="135.6"/>
<circle cx="123.7" cy="136.7"/>
</g>
<g class="b">
<circle cx="121.1" cy="110.9"/>
</g>
<g class="r">
<circle cx="77.2" cy="145"/>
</g>
<g class="b">
<circle cx="101" cy="147.9"/>
</g>
<g class="r">
<circle cx="72.2" cy="135.1"/>
<circle cx="122.3" cy="148.2"/>
<circle cx="128" cy="133.3"/>
</g>
<g class="b">
<circle cx="120.9" cy="148.7"/>
</g>
<g class="r">
<circle cx="85.6" cy="109.7"/>
<circle cx="74.8" cy="125.2"/>
<circle cx="95.9" cy="125.5"/>
</g>
<g class="b">
<circle cx="109.6" cy="138.8"/>
<circle cx="116.3" cy="103.2"/>
</g>
<g class="r">
<circle cx="119.1" cy="136"/>
</g>
<g class="b">
<circle cx="128.5" cy="115.8"/>
<circle cx="87" cy="100.5"/>
<circle cx="105" cy="94"/>
</g>
<g class="r">
<circle cx="69.4" cy="106.2"/>
</g>
<g class="b">
<circle cx="103" cy="141.6"/>
</g>
<g class="r">
<circle cx="130.4" cy="101.5"/>
<circle cx="106" cy="114.5"/>
</g>
<g class="b">
<circle cx="121.3" cy="118.8"/>
</g>
<g class="r">
<circle cx="97.8" cy="117.5"/>
</g>
<g class="b">
<circle cx="127.1" cy="144.7"/>
</g>
<g class="r">
<circle cx="131.4" cy="122.2"/>
</g>
<g class="b">
<circle cx="110.1" cy="120.4"/>
</g>
<g class="r">
<circle cx="97.5" cy="98.9"/>
<circle cx="123.9" cy="119.2"/>
<circle cx="105.6" cy="122.7"/>
<circle cx="99.8" cy="138.3"/>
<circle cx="101.6" cy="93.1"/>
<circle cx="62" cy="108.8"/>
</g>
<g class="b">
<circle cx="162.8" cy="141.6"/>
</g>
<g class="r">
<circle cx="74.2" cy="118.5"/>
<circle cx="107.5" cy="131.7"/>
<circle cx="92.5" cy="119.2"/>
<circle cx="128.9" cy="108.2"/>
<circle cx="93.2" cy="112"/>
<circle cx="44.2" cy="141.5"/>
</g>
<g class="b">
<circle cx="110.3" cy="108.2"/>
</g>
<g class="r">
<circle cx="91.8" cy="135.6"/>
<circle cx="74.3" cy="145.2"/>
<circle cx="94.2" cy="135.7"/>
</g>
<g class="b">
<circle cx="127.1" cy="121.6"/>
</g>
<g class="r">
<circle cx="135.5" cy="116.9"/>
</g>
<g class="b">
<circle cx="110.4" cy="105.3"/>
</g>
<g class="r">
<circle cx="160.7" cy="96.6"/>
</g>
<g class="b">
<circle cx="133.2" cy="93.3"/>
</g>
<g class="r">
<circle cx="99.8" cy="103.3"/>
</g>
<g class="b">
<circle cx="34.1" cy="130.7"/>
</g>
<g class="r">
<circle cx="117.8" cy="123.2"/>
<circle cx="78" cy="142.8"/>
<circle cx="132.3" cy="149.2"/>
<circle cx="125.3" cy="109.4"/>
</g>
<g class="b">
<circle cx="112.3" cy="117.1"/>
</g>
<g class="r">
<circle cx="97.4" cy="115.2"/>
<circle cx="127.4" cy="119"/>
</g>
<g class="b">
<circle cx="87.4" cy="102.5"/>
</g>
<g class="r">
<circle cx="89.5" cy="134.7"/>
</g>
<g class="b">
<circle cx="41.2" cy="123.6"/>
</g>
<g class="r">
<circle cx="125" cy="100"/>
</g>
<g class="b">
<circle cx="123.9" cy="117.8"/>
</g>
<g class="r">
<circle cx="124.4" cy="145.7"/>
</g>
<g class="b">
<circle cx="115.8" cy="97.3"/>
<circle cx="29.2" cy="137.3"/>
</g>
<g class="r">
<circle cx="111.2" cy="131.4"/>
<circle cx="126.5" cy="105.8"/>
</g>
<g class="b">
<circle cx="119.3" cy="113.3"/>
</g>
<g class="r">
<circle cx="124.9" cy="149.8"/>
<circle cx="68.7" cy="117"/>
<circle cx="130.7" cy="110.8"/>
<circle cx="136.2" cy="120.9"/>
</g>
<g class="b">
<circle cx="97.8" cy="125.9"/>
<circle cx="131.2" cy="117.2"/>
</g>
<g class="r">
<circle cx="124.5" cy="144"/>
<circle cx="92.7" cy="140.5"/>
</g>
<g class="b">
<circle cx="97.8" cy="133.3"/>
<circle cx="118.8" cy="111.5"/>
</g>
<g class="r">
<circle cx="84.8" cy="147.2"/>
<circle cx="94" cy="117.2"/>
</g>
<g class="b">
<circle cx="80.7" cy="123.1"/>
<circle cx="87.7" cy="136.3"/>
<circle cx="101.2" cy="98.4"/>
</g>
<g class="r">
<circle cx="47.4" cy="112.5"/>
</g>
<g class="b">
<circle cx="116.1" cy="108.7"/>
<circle cx="118" cy="138.7"/>
<circle cx="119.1" cy="117.4"/>
</g>
<g class="r">
<circle cx="124.7" cy="129.7"/>
<circle cx="34.7" cy="141.5"/>
<circle cx="111.6" cy="93.7"/>
</g>
<g class="b">
<circle cx="107.3" cy="103.6"/>
</g>
<g class="r">
<circle cx="108.4" cy="114.9"/>
</g>
<g class="b">
<circle cx="86.4" cy="132.2"/>
</g>
<g class="r">
<circle cx="125.8" cy="95.5"/>
</g>
<g class="b">
<circle cx="115" cy="120.5"/>
<circle cx="132.1" cy="139.5"/>
<circle cx="116.9" cy="95.3"/>
</g>
<g class="r">
<circle cx="127.6" cy="107.3"/>
</g>
<g class="b">
<circle cx="88.9" cy="117.1"/>
</g>
<g class="r">
<circle cx="112.1" cy="146.2"/>
</g>
<g class="b">
<circle cx="120.3" cy="121.7"/>
</g>
<g class="r">
<circle cx="122.6" cy="109.5"/>
<circle cx="54.9" cy="112.4"/>
<circle cx="46.3" cy="136.8"/>
</g>
<g class="b">
<circle cx="125" cy="126.4"/>
</g>
<g class="r">
<circle cx="87.4" cy="144.7"/>
<circle cx="71.5" cy="132.8"/>
<circle cx="93" cy="142.9"/>
</g>
<g class="b">
<circle cx="93.5" cy="95.5"/>
<circle cx="119.3" cy="124.4"/>
</g>
<g class="r">
<circle cx="104" cy="147"/>
</g>
<g class="b">
<circle cx="110.5" cy="111.9"/>
<circle cx="142.8" cy="112.4"/>
</g>
<g class="r">
<circle cx="72.5" cy="129.8"/>
</g>
<g class="b">
<circle cx="115" cy="137.5"/>
</g>
<g class="r">
<circle cx="133.3" cy="97.3"/>
<circle cx="98" cy="97"/>
</g>
<g class="b">
<circle cx="123.9" cy="143.9"/>
<circle cx="107.7" cy="112.8"/>
<circle cx="100.9" cy="132.2"/>
<circle cx="128.1" cy="96.4"/>
</g>
<g class="r">
<circle cx="105.6" cy="137.5"/>
<circle cx="67.1" cy="104.4"/>
</g>
<g class="b">
<circle cx="116.8" cy="135.6"/>
</g>
<g class="r">
<circle cx="118.3" cy="114.8"/>
<circle cx="75.9" cy="123.5"/>
</g>
<g class="b">
<circle cx="98.3" cy="93.6"/>
<circle cx="138.9" cy="105.4"/>
<circle cx="98.7" cy="146.9"/>
</g>
<g class="r">
<circle cx="78.4" cy="130.1"/>
<circle cx="117.2" cy="142.3"/>
</g>
<g class="b">
<circle cx="130.4" cy="113.8"/>
</g>
<g class="r">
<circle cx="51.6" cy="101.9"/>
<circle cx="53.9" cy="123.9"/>
<circle cx="111.9" cy="122.4"/>
<circle cx="132.6" cy="118.7"/>
<circle cx="132.7" cy="125.6"/>
</g>
<g class="b">
<circle cx="100.6" cy="111"/>
</g>
<g class="r">
<circle cx="117.7" cy="144.3"/>
<circle cx="86.6" cy="144.9"/>
<circle cx="130.5" cy="132.9"/>
<circle cx="90.5" cy="143.9"/>
<circle cx="125.7" cy="121.1"/>
<circle cx="106.9" cy="143"/>
</g>
<g class="b">
<circle cx="110.7" cy="96.3"/>
</g>
<g class="r">
<circle cx="136.5" cy="132.5"/>
<circle cx="118.1" cy="120.7"/>
</g>
<g class="b">
<circle cx="113.3" cy="144.7"/>
</g>
<g class="r">
<circle cx="60.6" cy="120.3"/>
</g>
<g class="b">
<circle cx="94.5" cy="114.6"/>
</g>
<g class="r">
<circle cx="127" cy="122.4"/>
</g>
<g class="b">
<circle cx="100.4" cy="145.7"/>
</g>
<g class="r">
<circle cx="121.1" cy="99.5"/>
<circle cx="114" cy="96.1"/>
<circle cx="124.8" cy="132.9"/>
<circle cx="118" cy="103.5"/>
</g>
<g class="b">
<circle cx="105.7" cy="123.9"/>
<circle cx="111.8" cy="125.1"/>
</g>
<g class="r">
<circle cx="128.1" cy="126.5"/>
</g>
<g class="b">
<circle cx="100.4" cy="117.1"/>
</g>
<g class="r">
<circle cx="133.6" cy="145.4"/>
</g>
<g class="b">
<circle cx="128.4" cy="93.2"/>
</g>
<g class="r">
<circle cx="127.2" cy="94.3"/>
<circle cx="139.6" cy="119.7"/>
<circle cx="88.3" cy="129"/>
</g>
<g class="b">
<circle cx="121.4" cy="107.9"/>
</g>
<g class="r">
<circle cx="96.9" cy="139.8"/>
</g>
<g class="b">
<circle cx="101.2" cy="124.8"/>
</g>
<g class="r">
<circle cx="131.9" cy="119.4"/>
</g>
<g class="b">
<circle cx="126.8" cy="109.1"/>
</g>
<g class="r">
<circle cx="87.2" cy="106.5"/>
<circle cx="135.4" cy="107"/>
<circle cx="102.1" cy="111.6"/>
<circle cx="127.9" cy="149.9"/>
<circle cx="85.2" cy="104.4"/>
</g>
<g class="b">
<circle cx="92.7" cy="148.6"/>
</g>
<g class="r">
<circle cx="86.3" cy="98.5"/>
<circle cx="65.1" cy="145.2"/>
<circle cx="120.1" cy="97"/>
<circle cx="141.5" cy="125.3"/>
<circle cx="31.7" cy="96.1"/>
<circle cx="96.4" cy="123.3"/>
<circle cx="116.4" cy="143.4"/>
<circle cx="108.3" cy="122.1"/>
<circle cx="60.2" cy="139.2"/>
</g>
<g class="b">
<circle cx="118.9" cy="110.2"/>
<circle cx="108.9" cy="98.3"/>
</g>
<g class="r">
<circle cx="131.3" cy="120.7"/>
</g>
<g class="b">
<circle cx="109.6" cy="117.1"/>
</g>
<g class="r">
<circle cx="118.7" cy="149.1"/>
<circle cx="114.3" cy="122.2"/>
<circle cx="138.6" cy="128.1"/>
<circle cx="132" cy="111.9"/>
</g>
<g class="b">
<circle cx="121.6" cy="131.7"/>
</g>
<g class="r">
<circle cx="68.9" cy="138.7"/>
</g>
<g class="b">
<circle cx="106.9" cy="102.4"/>
</g>
<g class="r">
<circle cx="110.3" cy="136.6"/>
</g>
<g class="b">
<circle cx="53.9" cy="135.9"/>
</g>
<g class="r">
<circle cx="68.8" cy="134.7"/>
</g>
<g class="b">
<circle cx="115" cy="106.2"/>
</g>
<g class="r">
<circle cx="94.4" cy="107.5"/>
<circle cx="91.8" cy="131.3"/>
</g>
<g class="b">
<circle cx="131.7" cy="147.5"/>
</g>
<g class="r">
<circle cx="93.9" cy="144.1"/>
</g>
<g class="b">
<circle cx="111" cy="99.3"/>
</g>
<g class="r">
<circle cx="131.2" cy="129.7"/>
<circle cx="96.9" cy="107"/>
<circle cx="82.4" cy="120.6"/>
</g>
<g class="b">
<circle cx="103.7" cy="95.1"/>
</g>
<g class="r">
<circle cx="90.8" cy="147.2"/>
<circle cx="115.5" cy="128.6"/>
</g>
<g class="b">
<circle cx="116.4" cy="118.7"/>
<circle cx="117.5" cy="125.7"/>
<circle cx="90.4" cy="103.8"/>
</g>
<g class="r">
<circle cx="116" cy="107.3"/>
<circle cx="65.6" cy="105.2"/>
</g>
<g class="b">
<circle cx="90.6" cy="107.3"/>
<circle cx="104.3" cy="146.7"/>
</g>
<g class="r">
<circle cx="103.7" cy="132.1"/>
<circle cx="139.2" cy="145.9"/>
</g>
<g class="b">
<circle cx="118.6" cy="106"/>
</g>
<g class="r">
<circle cx="135.3" cy="123.8"/>
<circle cx="159.6" cy="95.2"/>
<circle cx="99" cy="95.1"/>
</g>
<g class="b">
<circle cx="105.6" cy="112.4"/>
<circle cx="108.3" cy="141.3"/>
</g>
<g class="r">
<circle cx="66.9" cy="109.9"/>
</g>
<g class="b">
<circle cx="89.1" cy="113.4"/>
<circle cx="100.4" cy="118.6"/>
</g>
<g class="r">
<circle cx="134.8" cy="102.1"/>
<circle cx="77.2" cy="123.9"/>
<circle cx="67.9" cy="110.6"/>
<circle cx="96.4" cy="116.3"/>
<circle cx="102" cy="110"/>
</g>
<g class="b">
<circle cx="101.6" cy="119.2"/>
</g>
<g class="r">
<circle cx="89.5" cy="125.7"/>
<circle cx="114.7" cy="146.4"/>
<circle cx="126.7" cy="117.6"/>
</g>
<g class="b">
<circle cx="120.4" cy="102.5"/>
<circle cx="116.3" cy="99.3"/>
</g>
<g class="r">
<circle cx="29" cy="112.6"/>
<circle cx="147.9" cy="144.4"/>
<circle cx="133.8" cy="135.6"/>
<circle cx="107.8" cy="126.2"/>
</g>
<g class="b">
<circle cx="104.3" cy="106.7"/>
</g>
<g class="r">
<circle cx="111.4" cy="139.4"/>
<circle cx="155.5" cy="140.9"/>
</g>
</g>
<rect x="198" y="20.3" width="190.6" height="42" fill="#fff" stroke="#444" stroke-width="1"/>
<clipPath id="cb1"><rect x="197.5" y="18.7" width="191.6" height="45.2"/></clipPath>
<g clip-path="url(#cb1)" id="cb1g">
<rect x="267" y="20.3" width="46" height="42" fill="#000030"/>
<g class="bd">
<circle cx="273.1" cy="58.3"/>
<circle cx="290" cy="58.3"/>
<circle cx="307.3" cy="34.8"/>
</g>
<g class="b">
<circle cx="322.4" cy="57.8"/>
</g>
<g class="bd">
<circle cx="295" cy="32.2"/>
<circle cx="290.5" cy="53.9"/>
<circle cx="270.6" cy="43.6"/>
<circle cx="301.5" cy="40"/>
<circle cx="292.1" cy="20.9"/>
<circle cx="272.8" cy="35"/>
<circle cx="314" cy="25"/>
<circle cx="293.7" cy="49.1"/>
<circle cx="288.5" cy="54.4"/>
<circle cx="283.7" cy="35"/>
<circle cx="278.6" cy="48.5"/>
<circle cx="279.5" cy="61.6"/>
<circle cx="277.5" cy="24.8"/>
<circle cx="278.1" cy="58.8"/>
<circle cx="274.5" cy="33.3"/>
<circle cx="276.7" cy="51.1"/>
<circle cx="289.1" cy="51.6"/>
<circle cx="282.5" cy="55.4"/>
<circle cx="314.3" cy="27.8"/>
<circle cx="276.9" cy="34.4"/>
<circle cx="274.9" cy="25.6"/>
<circle cx="284.3" cy="49.9"/>
<circle cx="291.8" cy="31.8"/>
<circle cx="288.1" cy="34.2"/>
<circle cx="279" cy="25.5"/>
<circle cx="304.3" cy="47.1"/>
<circle cx="301.4" cy="54.6"/>
<circle cx="280.1" cy="26.9"/>
<circle cx="313.9" cy="34.5"/>
<circle cx="305.1" cy="44.8"/>
<circle cx="274.4" cy="43.7"/>
<circle cx="294.2" cy="46.5"/>
<circle cx="282.9" cy="42.3"/>
<circle cx="302.7" cy="35.8"/>
<circle cx="293" cy="38.5"/>
<circle cx="267.1" cy="40.4"/>
<circle cx="300.3" cy="57.6"/>
<circle cx="309.4" cy="53.8"/>
<circle cx="280.1" cy="44.3"/>
<circle cx="284.4" cy="30.6"/>
<circle cx="312.7" cy="34.9"/>
<circle cx="301.3" cy="31.6"/>
<circle cx="272.9" cy="27.8"/>
<circle cx="294.2" cy="31.4"/>
<circle cx="276.2" cy="54.2"/>
<circle cx="272.8" cy="43.9"/>
<circle cx="313.4" cy="22.2"/>
<circle cx="269.5" cy="61.3"/>
<circle cx="283.6" cy="26.8"/>
<circle cx="278.8" cy="38.5"/>
<circle cx="286" cy="33.6"/>
<circle cx="292.3" cy="56.8"/>
<circle cx="314.7" cy="51.2"/>
<circle cx="304.3" cy="41.9"/>
</g>
<g class="b">
<circle cx="362.2" cy="45.5"/>
</g>
<g class="bd">
<circle cx="296" cy="50.8"/>
<circle cx="295.2" cy="42.4"/>
<circle cx="285" cy="38.7"/>
<circle cx="292.9" cy="24.5"/>
<circle cx="295.7" cy="54.2"/>
<circle cx="296.3" cy="23.8"/>
<circle cx="307.4" cy="40.1"/>
<circle cx="264.5" cy="39.6"/>
<circle cx="270.7" cy="49"/>
<circle cx="297.3" cy="30"/>
<circle cx="300.2" cy="40.2"/>
<circle cx="288" cy="42.3"/>
<circle cx="279.1" cy="52.5"/>
<circle cx="313.5" cy="49.8"/>
<circle cx="293.5" cy="37.6"/>
<circle cx="271.4" cy="45.4"/>
<circle cx="268.9" cy="35.1"/>
<circle cx="272.1" cy="42"/>
<circle cx="273.9" cy="57.1"/>
<circle cx="307.3" cy="42.4"/>
<circle cx="299.6" cy="27.4"/>
<circle cx="268.2" cy="62.2"/>
<circle cx="299.4" cy="51.6"/>
<circle cx="307.8" cy="36.8"/>
<circle cx="275.3" cy="39.1"/>
<circle cx="312.5" cy="25.3"/>
</g>
<g class="b">
<circle cx="350.1" cy="25.5"/>
</g>
<g class="bd">
<circle cx="289.8" cy="43.8"/>
<circle cx="291.4" cy="42.8"/>
<circle cx="303.1" cy="24.7"/>
<circle cx="274.7" cy="38.7"/>
</g>
<g class="b">
<circle cx="370.2" cy="43.5"/>
</g>
<g class="bd">
<circle cx="290.9" cy="30.7"/>
<circle cx="302.3" cy="54.7"/>
<circle cx="314.6" cy="29.9"/>
<circle cx="288.1" cy="27.3"/>
<circle cx="283.5" cy="31.9"/>
<circle cx="281.3" cy="52.9"/>
<circle cx="312.2" cy="48.7"/>
</g>
<g class="b">
<circle cx="216.1" cy="32.9"/>
</g>
<g class="bd">
<circle cx="309.5" cy="49.4"/>
<circle cx="277.6" cy="29.4"/>
<circle cx="297.6" cy="34.7"/>
<circle cx="276.5" cy="24"/>
<circle cx="268.2" cy="22.8"/>
<circle cx="288.2" cy="52.1"/>
<circle cx="283.1" cy="38"/>
<circle cx="283.6" cy="39.8"/>
<circle cx="295.2" cy="59"/>
<circle cx="268.8" cy="39"/>
<circle cx="304.6" cy="35.4"/>
<circle cx="272.2" cy="26"/>
<circle cx="302.8" cy="27.2"/>
<circle cx="263.2" cy="39.5"/>
</g>
<g class="b">
<circle cx="235.8" cy="22.5"/>
</g>
<g class="bd">
<circle cx="290.6" cy="52.4"/>
<circle cx="299" cy="61.8"/>
<circle cx="287.7" cy="31.1"/>
<circle cx="303.6" cy="42.5"/>
<circle cx="273.3" cy="31.7"/>
<circle cx="279.3" cy="56.9"/>
<circle cx="298.6" cy="38.4"/>
<circle cx="293.2" cy="50.7"/>
<circle cx="294.2" cy="60.5"/>
<circle cx="311.9" cy="31.6"/>
</g>
<g class="b">
<circle cx="265.2" cy="56.4"/>
</g>
<g class="bd">
<circle cx="274.7" cy="47.3"/>
<circle cx="298.2" cy="21"/>
<circle cx="276.7" cy="57.8"/>
<circle cx="267.6" cy="35.8"/>
<circle cx="311.8" cy="25.5"/>
<circle cx="309.7" cy="51.1"/>
<circle cx="291.4" cy="56.2"/>
<circle cx="277.7" cy="37.8"/>
<circle cx="278.5" cy="62.5"/>
<circle cx="310.8" cy="55.2"/>
<circle cx="269.2" cy="42.2"/>
<circle cx="296.7" cy="25.6"/>
<circle cx="300.2" cy="60.5"/>
<circle cx="292.2" cy="42.1"/>
<circle cx="314.3" cy="31.6"/>
<circle cx="295.6" cy="38.8"/>
<circle cx="301.8" cy="20.6"/>
<circle cx="297.9" cy="52.8"/>
<circle cx="292.4" cy="55.2"/>
<circle cx="308.5" cy="22.2"/>
<circle cx="273.8" cy="60.7"/>
<circle cx="270.7" cy="50.2"/>
<circle cx="284.8" cy="31.6"/>
<circle cx="275.4" cy="55.2"/>
</g>
<g class="b">
<circle cx="219.8" cy="22"/>
</g>
<g class="bd">
<circle cx="269.1" cy="26.6"/>
<circle cx="288.4" cy="36"/>
<circle cx="299.9" cy="56.3"/>
<circle cx="311.7" cy="26.6"/>
<circle cx="312.2" cy="56.8"/>
<circle cx="277" cy="35.6"/>
<circle cx="305.5" cy="29"/>
<circle cx="297.1" cy="33.2"/>
<circle cx="275.9" cy="41.1"/>
<circle cx="309.3" cy="33.9"/>
<circle cx="310.6" cy="33.8"/>
<circle cx="270.5" cy="39.7"/>
<circle cx="313.9" cy="38.1"/>
<circle cx="271.9" cy="25.2"/>
<circle cx="307.4" cy="53.9"/>
<circle cx="266.6" cy="29.9"/>
<circle cx="294.1" cy="61.8"/>
<circle cx="273.6" cy="27.6"/>
<circle cx="284.6" cy="53.4"/>
<circle cx="315.7" cy="55.6"/>
<circle cx="275.9" cy="47.7"/>
<circle cx="291.3" cy="37.2"/>
<circle cx="284.9" cy="26.3"/>
<circle cx="297" cy="21"/>
<circle cx="284.1" cy="34.4"/>
<circle cx="311.4" cy="62.4"/>
<circle cx="310.3" cy="35.6"/>
<circle cx="293.1" cy="22"/>
<circle cx="313.9" cy="39.6"/>
<circle cx="290.6" cy="49.1"/>
<circle cx="319.8" cy="46.8"/>
<circle cx="285.2" cy="60.8"/>
<circle cx="289" cy="29.8"/>
<circle cx="286.1" cy="50.4"/>
<circle cx="302.2" cy="55.5"/>
<circle cx="272.4" cy="40"/>
<circle cx="290.7" cy="47"/>
<circle cx="309" cy="43.9"/>
<circle cx="294.9" cy="37.3"/>
<circle cx="303.1" cy="44.1"/>
<circle cx="270.8" cy="57.7"/>
<circle cx="304.8" cy="58.1"/>
<circle cx="286" cy="43"/>
<circle cx="298.9" cy="42.4"/>
<circle cx="297.5" cy="45"/>
</g>
<g class="b">
<circle cx="226.9" cy="56.1"/>
</g>
<g class="bd">
<circle cx="281.1" cy="21.3"/>
<circle cx="308.3" cy="25.3"/>
<circle cx="305" cy="30.5"/>
<circle cx="287.6" cy="28.7"/>
<circle cx="295.3" cy="21.2"/>
<circle cx="288.3" cy="57.6"/>
<circle cx="308.1" cy="32.6"/>
<circle cx="278" cy="47.9"/>
<circle cx="310" cy="59.1"/>
<circle cx="279.2" cy="36"/>
<circle cx="280" cy="45.6"/>
<circle cx="293.7" cy="43.7"/>
<circle cx="288.4" cy="21.5"/>
<circle cx="289.2" cy="60.6"/>
<circle cx="293.6" cy="62.6"/>
<circle cx="308" cy="60.6"/>
<circle cx="284.8" cy="57.5"/>
<circle cx="314.5" cy="20.4"/>
<circle cx="310.1" cy="39.6"/>
<circle cx="312" cy="30.6"/>
<circle cx="301" cy="48.5"/>
<circle cx="312.7" cy="57"/>
<circle cx="312.6" cy="42.7"/>
</g>
<g class="b">
<circle cx="324.4" cy="21.7"/>
</g>
<g class="bd">
<circle cx="298" cy="55"/>
<circle cx="264.1" cy="34.9"/>
<circle cx="279.8" cy="56.1"/>
<circle cx="304.4" cy="39.3"/>
<circle cx="296.2" cy="35.7"/>
<circle cx="293.1" cy="31.8"/>
<circle cx="271.9" cy="35.4"/>
<circle cx="317" cy="59.7"/>
<circle cx="288.8" cy="41.5"/>
<circle cx="270.7" cy="31.5"/>
<circle cx="307.1" cy="52.4"/>
</g>
<g class="b">
<circle cx="321" cy="48.9"/>
</g>
<g class="bd">
<circle cx="299.9" cy="43.4"/>
<circle cx="290.3" cy="39.8"/>
<circle cx="310.4" cy="52.4"/>
<circle cx="288.8" cy="33.5"/>
<circle cx="291.1" cy="39.2"/>
<circle cx="272.5" cy="62.3"/>
<circle cx="303" cy="29.9"/>
<circle cx="287" cy="60.6"/>
<circle cx="281.5" cy="62"/>
<circle cx="268.9" cy="56.5"/>
<circle cx="284.7" cy="61.9"/>
<circle cx="294.5" cy="46.9"/>
<circle cx="304.4" cy="31.7"/>
<circle cx="306.1" cy="57.2"/>
<circle cx="292.8" cy="26.2"/>
<circle cx="302.1" cy="39.6"/>
<circle cx="286.7" cy="36.9"/>
<circle cx="287" cy="40.9"/>
</g>
<g class="b">
<circle cx="326.2" cy="61.1"/>
<circle cx="247.9" cy="25"/>
</g>
<g class="bd">
<circle cx="301.2" cy="47.4"/>
<circle cx="305.1" cy="51.9"/>
<circle cx="267" cy="47"/>
<circle cx="303.5" cy="50.6"/>
<circle cx="276.4" cy="38"/>
<circle cx="315.7" cy="33.1"/>
<circle cx="291.1" cy="56.7"/>
<circle cx="297.1" cy="46.9"/>
<circle cx="273.3" cy="47.1"/>
<circle cx="314.9" cy="24.4"/>
<circle cx="269.2" cy="48.3"/>
<circle cx="313.1" cy="51.7"/>
<circle cx="265.1" cy="20.7"/>
<circle cx="301.3" cy="44.4"/>
<circle cx="273.4" cy="28.7"/>
<circle cx="302.4" cy="32.3"/>
<circle cx="288.8" cy="52.7"/>
<circle cx="272.5" cy="19.8"/>
<circle cx="278.9" cy="42.3"/>
<circle cx="268.2" cy="39.7"/>
<circle cx="312.3" cy="62.5"/>
<circle cx="270.2" cy="57.5"/>
<circle cx="269.1" cy="54.8"/>
<circle cx="301.2" cy="25.1"/>
<circle cx="315.4" cy="59.4"/>
<circle cx="279.3" cy="21.6"/>
<circle cx="306.3" cy="59.4"/>
<circle cx="302.3" cy="48.9"/>
<circle cx="281.8" cy="46.1"/>
<circle cx="307" cy="31.6"/>
<circle cx="319.1" cy="44.9"/>
<circle cx="304.2" cy="37"/>
<circle cx="283.5" cy="25"/>
<circle cx="277.6" cy="57.5"/>
<circle cx="267" cy="54.1"/>
<circle cx="289.6" cy="53.5"/>
<circle cx="283.2" cy="61.7"/>
<circle cx="272.3" cy="61.6"/>
<circle cx="275.8" cy="32.6"/>
<circle cx="294.6" cy="57.4"/>
<circle cx="289.3" cy="62.2"/>
<circle cx="267" cy="27.6"/>
<circle cx="268.4" cy="33.6"/>
<circle cx="289.8" cy="30.8"/>
<circle cx="299.5" cy="54.1"/>
<circle cx="286.8" cy="46"/>
<circle cx="306.5" cy="54"/>
<circle cx="282" cy="39.4"/>
<circle cx="302.8" cy="37.4"/>
<circle cx="301.5" cy="62"/>
<circle cx="302.1" cy="58.1"/>
<circle cx="281.6" cy="40.5"/>
<circle cx="304.3" cy="46.1"/>
<circle cx="281.3" cy="35.2"/>
<circle cx="284.2" cy="44.5"/>
<circle cx="292.2" cy="26.6"/>
<circle cx="293.4" cy="28.7"/>
<circle cx="278.2" cy="33.5"/>
</g>
<g class="b">
<circle cx="229.9" cy="55.3"/>
</g>
<g class="bd">
<circle cx="296.1" cy="22.3"/>
<circle cx="269.9" cy="47.4"/>
<circle cx="308.2" cy="59.7"/>
<circle cx="308.6" cy="36.1"/>
<circle cx="279.7" cy="40.2"/>
<circle cx="283.3" cy="23.8"/>
<circle cx="266.6" cy="39.2"/>
<circle cx="286.6" cy="28"/>
<circle cx="275.2" cy="62.8"/>
<circle cx="294" cy="23.7"/>
<circle cx="315.7" cy="53.3"/>
<circle cx="302.6" cy="24.8"/>
<circle cx="282.7" cy="35.6"/>
<circle cx="305.3" cy="48.3"/>
<circle cx="282.4" cy="31.2"/>
<circle cx="283" cy="45.5"/>
<circle cx="297.6" cy="40.6"/>
<circle cx="293.3" cy="59.6"/>
<circle cx="274.7" cy="23.1"/>
<circle cx="305.2" cy="60.7"/>
<circle cx="277.4" cy="50.2"/>
<circle cx="271.7" cy="51.9"/>
<circle cx="285.6" cy="49.1"/>
<circle cx="277.5" cy="27.6"/>
<circle cx="270.3" cy="41"/>
<circle cx="271.6" cy="28"/>
<circle cx="278.9" cy="19.8"/>
<circle cx="286.8" cy="25.3"/>
<circle cx="280.3" cy="25.3"/>
<circle cx="278.4" cy="24.2"/>
<circle cx="281.7" cy="50.9"/>
<circle cx="316.2" cy="45.3"/>
<circle cx="280.8" cy="49.6"/>
</g>
<g class="b">
<circle cx="224.4" cy="40.5"/>
</g>
<g class="bd">
<circle cx="291" cy="24.7"/>
<circle cx="311.4" cy="46.1"/>
</g>
<g class="b">
<circle cx="228.7" cy="41.3"/>
</g>
<g class="bd">
<circle cx="291.1" cy="29.4"/>
<circle cx="289.1" cy="42.7"/>
<circle cx="269.6" cy="25.3"/>
<circle cx="281.9" cy="22.8"/>
<circle cx="313.9" cy="54.6"/>
<circle cx="297.1" cy="29.2"/>
<circle cx="308.7" cy="21.2"/>
<circle cx="296.6" cy="61"/>
<circle cx="288" cy="25.7"/>
<circle cx="302.3" cy="29.2"/>
<circle cx="314.7" cy="33.3"/>
<circle cx="306.5" cy="25.1"/>
<circle cx="311.9" cy="36"/>
<circle cx="300" cy="48.2"/>
<circle cx="271.4" cy="58.9"/>
<circle cx="289.7" cy="46.1"/>
<circle cx="275.4" cy="46.3"/>
<circle cx="271.2" cy="30.7"/>
<circle cx="307.2" cy="45.1"/>
<circle cx="279.1" cy="54"/>
<circle cx="280.6" cy="23.2"/>
<circle cx="299.3" cy="33.7"/>
<circle cx="275.1" cy="48.7"/>
<circle cx="287.9" cy="45.4"/>
<circle cx="287.2" cy="44.3"/>
<circle cx="308.4" cy="27.3"/>
<circle cx="310.7" cy="47.8"/>
<circle cx="306.8" cy="48.6"/>
<circle cx="288" cy="39.8"/>
<circle cx="314.6" cy="48.2"/>
<circle cx="302.7" cy="20.4"/>
</g>
<g class="b">
<circle cx="236.3" cy="36.3"/>
</g>
<g class="bd">
<circle cx="289.1" cy="59.2"/>
<circle cx="300.3" cy="29.5"/>
<circle cx="287.1" cy="50.2"/>
<circle cx="297.1" cy="41"/>
<circle cx="273.2" cy="23.6"/>
<circle cx="304.9" cy="39.9"/>
<circle cx="280.5" cy="31"/>
<circle cx="286.4" cy="53.7"/>
<circle cx="299.1" cy="52.9"/>
<circle cx="283.5" cy="48"/>
<circle cx="315" cy="43.2"/>
<circle cx="296.5" cy="31.2"/>
<circle cx="300.1" cy="37.9"/>
<circle cx="303" cy="22.1"/>
<circle cx="298.4" cy="49.9"/>
<circle cx="268.3" cy="23.9"/>
<circle cx="289.7" cy="33.1"/>
<circle cx="275.2" cy="42.3"/>
<circle cx="294.4" cy="29.2"/>
<circle cx="272.7" cy="56.5"/>
<circle cx="285" cy="45.8"/>
<circle cx="271.7" cy="20.2"/>
<circle cx="279.9" cy="49.6"/>
</g>
<g class="b">
<circle cx="384.1" cy="35.9"/>
</g>
<g class="bd">
<circle cx="286" cy="20.4"/>
<circle cx="284.9" cy="42.1"/>
<circle cx="305.5" cy="58.8"/>
</g>
<g class="b">
<circle cx="337.5" cy="51.4"/>
</g>
<g class="bd">
<circle cx="297.3" cy="24.7"/>
<circle cx="265.6" cy="32.9"/>
<circle cx="285.1" cy="51.3"/>
<circle cx="271.6" cy="42.6"/>
</g>
<g class="b">
<circle cx="274.8" cy="53"/>
<circle cx="301.7" cy="28.9"/>
<circle cx="317.7" cy="43.7"/>
<circle cx="287.7" cy="61"/>
<circle cx="285.6" cy="56"/>
<circle cx="274.1" cy="53.9"/>
<circle cx="296.5" cy="41.6"/>
<circle cx="310.5" cy="25.9"/>
<circle cx="295.5" cy="27.3"/>
<circle cx="301.3" cy="60.4"/>
<circle cx="291.7" cy="60.5"/>
<circle cx="307.8" cy="50.7"/>
<circle cx="317.4" cy="31.4"/>
<circle cx="316.7" cy="62.1"/>
<circle cx="305.5" cy="50.7"/>
<circle cx="281.3" cy="57.1"/>
<circle cx="308.5" cy="43.9"/>
<circle cx="298.2" cy="33.1"/>
<circle cx="302" cy="22.1"/>
<circle cx="263.4" cy="32"/>
<circle cx="297.8" cy="42.5"/>
<circle cx="302.1" cy="31.4"/>
<circle cx="273.8" cy="20"/>
<circle cx="301.5" cy="35.8"/>
<circle cx="289.5" cy="49.2"/>
<circle cx="306.1" cy="61.7"/>
<circle cx="270.7" cy="48"/>
<circle cx="311.4" cy="24.4"/>
<circle cx="266.2" cy="45.7"/>
<circle cx="316.4" cy="41.8"/>
<circle cx="243" cy="38.5"/>
<circle cx="318" cy="56.7"/>
<circle cx="270.8" cy="22.9"/>
<circle cx="280.2" cy="34.4"/>
<circle cx="313.2" cy="60.1"/>
<circle cx="307" cy="55.7"/>
<circle cx="287.8" cy="40.9"/>
<circle cx="273.4" cy="52.2"/>
<circle cx="289.3" cy="22.3"/>
<circle cx="294.5" cy="39.9"/>
<circle cx="280.9" cy="37.8"/>
<circle cx="279.1" cy="36.6"/>
<circle cx="309.8" cy="41.4"/>
<circle cx="288.4" cy="47.7"/>
<circle cx="307.2" cy="24.2"/>
<circle cx="274.1" cy="36.2"/>
<circle cx="281.5" cy="31.6"/>
<circle cx="285.2" cy="52"/>
<circle cx="266" cy="34.8"/>
<circle cx="265.8" cy="24.4"/>
<circle cx="276.3" cy="31.3"/>
<circle cx="285.7" cy="62"/>
<circle cx="269.8" cy="22.2"/>
<circle cx="298.1" cy="26.8"/>
<circle cx="285" cy="21.3"/>
<circle cx="270.3" cy="33.4"/>
<circle cx="300.3" cy="25"/>
<circle cx="310.2" cy="20.1"/>
<circle cx="272.5" cy="58.3"/>
<circle cx="310.6" cy="21.6"/>
<circle cx="277.6" cy="45.8"/>
<circle cx="269.1" cy="37.9"/>
<circle cx="273.4" cy="45"/>
<circle cx="304" cy="25.7"/>
<circle cx="296.4" cy="57.8"/>
<circle cx="285.8" cy="30.6"/>
<circle cx="297.7" cy="47.9"/>
<circle cx="314.3" cy="39.1"/>
<circle cx="263.1" cy="24.7"/>
<circle cx="312.7" cy="30.4"/>
<circle cx="359.6" cy="54.9"/>
<circle cx="273.8" cy="45.9"/>
<circle cx="267.7" cy="43.3"/>
<circle cx="306.8" cy="26.9"/>
<circle cx="287.4" cy="23.6"/>
<circle cx="273" cy="21.7"/>
<circle cx="285.9" cy="51.8"/>
<circle cx="287.3" cy="49.5"/>
<circle cx="286.2" cy="32"/>
<circle cx="284.6" cy="40.4"/>
<circle cx="290.8" cy="58.5"/>
<circle cx="276.9" cy="48.4"/>
<circle cx="385.3" cy="60.3"/>
<circle cx="311.6" cy="42.6"/>
<circle cx="314.4" cy="29"/>
<circle cx="296" cy="32.3"/>
<circle cx="288" cy="31.6"/>
<circle cx="285.4" cy="35.8"/>
<circle cx="295.4" cy="61.8"/>
<circle cx="289.7" cy="47.7"/>
<circle cx="315.1" cy="61.3"/>
<circle cx="275.2" cy="50.2"/>
<circle cx="297.8" cy="44.4"/>
<circle cx="286.2" cy="22.8"/>
<circle cx="356" cy="23"/>
<circle cx="282.3" cy="50.9"/>
<circle cx="302.3" cy="59.3"/>
<circle cx="299.2" cy="36.1"/>
<circle cx="282.8" cy="52.9"/>
<circle cx="292.3" cy="33.5"/>
<circle cx="270.1" cy="52.7"/>
<circle cx="281.6" cy="42.4"/>
<circle cx="265.6" cy="26.6"/>
<circle cx="270.8" cy="60.2"/>
<circle cx="312.6" cy="21.3"/>
<circle cx="219.8" cy="23.7"/>
<circle cx="295.6" cy="43.5"/>
<circle cx="279.1" cy="62.8"/>
<circle cx="264.9" cy="24.1"/>
<circle cx="301.7" cy="34.6"/>
<circle cx="310.4" cy="28.5"/>
<circle cx="315.7" cy="30.9"/>
<circle cx="299.3" cy="31.6"/>
<circle cx="318.6" cy="33.3"/>
<circle cx="302.7" cy="52.5"/>
<circle cx="281.4" cy="28.1"/>
<circle cx="278.1" cy="38.3"/>
<circle cx="300.2" cy="45.2"/>
<circle cx="301" cy="58.5"/>
<circle cx="295.2" cy="50.7"/>
<circle cx="299.3" cy="58.6"/>
<circle cx="303.6" cy="47.8"/>
<circle cx="274.4" cy="28.4"/>
<circle cx="305.9" cy="44.1"/>
<circle cx="293.2" cy="40.2"/>
<circle cx="286.1" cy="24"/>
<circle cx="285.9" cy="58.8"/>
<circle cx="284.1" cy="22.6"/>
<circle cx="283" cy="20.9"/>
<circle cx="312.1" cy="41.1"/>
<circle cx="279.3" cy="28.1"/>
<circle cx="305.7" cy="34"/>
<circle cx="274.7" cy="37.4"/>
<circle cx="237.5" cy="58.3"/>
<circle cx="310.9" cy="54.3"/>
<circle cx="296.5" cy="45.6"/>
<circle cx="298.5" cy="22.6"/>
<circle cx="278.5" cy="30.1"/>
<circle cx="265.3" cy="37.6"/>
<circle cx="264.1" cy="27.7"/>
<circle cx="306.3" cy="40.6"/>
<circle cx="267.3" cy="50.7"/>
<circle cx="310.5" cy="46.2"/>
<circle cx="303.6" cy="45.6"/>
<circle cx="266.7" cy="25.2"/>
<circle cx="293.6" cy="29.9"/>
<circle cx="276.4" cy="61.8"/>
<circle cx="283.1" cy="59.6"/>
<circle cx="278" cy="60.2"/>
<circle cx="326.2" cy="44.3"/>
<circle cx="341.7" cy="52.2"/>
<circle cx="316.9" cy="35.8"/>
<circle cx="268.9" cy="51.1"/>
<circle cx="234.4" cy="56.4"/>
<circle cx="293.5" cy="53.5"/>
<circle cx="312.9" cy="45.5"/>
<circle cx="311.3" cy="53"/>
<circle cx="302.5" cy="39"/>
<circle cx="319.5" cy="38.1"/>
<circle cx="294.5" cy="54.1"/>
<circle cx="273.9" cy="31.8"/>
<circle cx="276.4" cy="35.9"/>
<circle cx="283.5" cy="49.1"/>
<circle cx="283.2" cy="22.1"/>
<circle cx="294.9" cy="56.5"/>
<circle cx="311.4" cy="51"/>
<circle cx="291.9" cy="40.7"/>
<circle cx="290.6" cy="27.6"/>
<circle cx="302.2" cy="33.5"/>
<circle cx="268" cy="31.8"/>
<circle cx="310.6" cy="59.5"/>
<circle cx="305.9" cy="29.4"/>
<circle cx="316.4" cy="37.4"/>
<circle cx="284.2" cy="58.9"/>
<circle cx="218.1" cy="41"/>
<circle cx="278.6" cy="42.4"/>
<circle cx="298.6" cy="25.2"/>
<circle cx="304.7" cy="56.1"/>
<circle cx="297.3" cy="59.2"/>
<circle cx="278.3" cy="22.8"/>
<circle cx="309.7" cy="56.7"/>
<circle cx="272.2" cy="53.4"/>
<circle cx="283" cy="60"/>
<circle cx="291.8" cy="34.2"/>
<circle cx="269.3" cy="23.5"/>
<circle cx="308.1" cy="28.4"/>
<circle cx="268.1" cy="45.4"/>
<circle cx="266.7" cy="53.9"/>
<circle cx="355.4" cy="51"/>
<circle cx="313" cy="47.4"/>
<circle cx="294.5" cy="52.7"/>
<circle cx="309.2" cy="38"/>
<circle cx="268.4" cy="37.2"/>
<circle cx="300.8" cy="46.2"/>
<circle cx="308.7" cy="45.5"/>
<circle cx="302.4" cy="40.4"/>
<circle cx="277.4" cy="43.3"/>
<circle cx="312.9" cy="54.2"/>
<circle cx="311.1" cy="20"/>
<circle cx="284" cy="28.1"/>
<circle cx="298" cy="57.6"/>
<circle cx="285.4" cy="58.1"/>
<circle cx="277.1" cy="55.9"/>
<circle cx="307.7" cy="30.1"/>
<circle cx="315.4" cy="48.9"/>
<circle cx="310" cy="42.6"/>
<circle cx="266.8" cy="22.6"/>
<circle cx="267.9" cy="29.7"/>
<circle cx="296.9" cy="59.2"/>
<circle cx="284.8" cy="23.7"/>
<circle cx="270.8" cy="36.9"/>
<circle cx="287.4" cy="58.6"/>
<circle cx="275.8" cy="20.6"/>
<circle cx="295.1" cy="25.7"/>
<circle cx="273.9" cy="58.9"/>
<circle cx="314" cy="55.5"/>
<circle cx="299" cy="22.9"/>
<circle cx="305.9" cy="47.2"/>
<circle cx="272.4" cy="49.8"/>
<circle cx="281.1" cy="54.6"/>
<circle cx="312.8" cy="32.6"/>
<circle cx="304.3" cy="24.7"/>
<circle cx="274" cy="55.1"/>
<circle cx="293.2" cy="34.9"/>
<circle cx="292.7" cy="51.7"/>
<circle cx="316.7" cy="52.2"/>
<circle cx="275.9" cy="22.9"/>
<circle cx="286.6" cy="38.8"/>
<circle cx="268.1" cy="57.1"/>
<circle cx="296.3" cy="49.6"/>
<circle cx="308.6" cy="23.1"/>
<circle cx="269.5" cy="62.4"/>
<circle cx="279.8" cy="24.5"/>
<circle cx="269.4" cy="45.1"/>
<circle cx="316.1" cy="33.3"/>
<circle cx="294.4" cy="22"/>
<circle cx="283.2" cy="41.4"/>
<circle cx="272.2" cy="50.8"/>
<circle cx="280.4" cy="44.7"/>
<circle cx="314.2" cy="36.7"/>
<circle cx="281.9" cy="58.5"/>
<circle cx="246.2" cy="41.5"/>
<circle cx="270.6" cy="54.2"/>
<circle cx="311.3" cy="28.2"/>
<circle cx="311.6" cy="61"/>
<circle cx="298.9" cy="24.1"/>
<circle cx="281.1" cy="61.3"/>
<circle cx="289.6" cy="55.7"/>
<circle cx="304.8" cy="22.9"/>
<circle cx="277" cy="41"/>
<circle cx="282.6" cy="43.7"/>
<circle cx="305.9" cy="41.8"/>
<circle cx="300.7" cy="27.3"/>
<circle cx="292.4" cy="61.7"/>
<circle cx="312.7" cy="60"/>
<circle cx="313.5" cy="55.9"/>
<circle cx="306.5" cy="30.4"/>
<circle cx="313.1" cy="40.8"/>
<circle cx="268" cy="26.4"/>
<circle cx="216.5" cy="47.2"/>
<circle cx="314.4" cy="57.5"/>
<circle cx="304.4" cy="53.5"/>
<circle cx="294.3" cy="34.4"/>
<circle cx="309" cy="31.3"/>
<circle cx="304.3" cy="27.9"/>
<circle cx="286.5" cy="43.8"/>
<circle cx="309.1" cy="21.6"/>
<circle cx="282.1" cy="53.4"/>
<circle cx="308.5" cy="39.8"/>
<circle cx="306.2" cy="37"/>
<circle cx="278.9" cy="59.1"/>
<circle cx="299.9" cy="30.5"/>
<circle cx="307.5" cy="56"/>
<circle cx="270.7" cy="56.5"/>
<circle cx="305.2" cy="61.8"/>
<circle cx="299.4" cy="39.4"/>
<circle cx="274.6" cy="40.7"/>
<circle cx="301.5" cy="55.4"/>
<circle cx="297.9" cy="29.6"/>
<circle cx="293" cy="45.1"/>
<circle cx="290.8" cy="44.4"/>
<circle cx="308.3" cy="47.1"/>
<circle cx="285" cy="37.1"/>
<circle cx="326.6" cy="22.5"/>
<circle cx="291.9" cy="50"/>
<circle cx="303.1" cy="60.5"/>
<circle cx="276.5" cy="41.7"/>
<circle cx="308" cy="49.9"/>
<circle cx="289.9" cy="27.7"/>
<circle cx="300.5" cy="43.2"/>
<circle cx="343.9" cy="53.9"/>
<circle cx="279" cy="31.4"/>
<circle cx="305.1" cy="33.5"/>
<circle cx="290.9" cy="22.2"/>
<circle cx="316.4" cy="40.5"/>
<circle cx="268.5" cy="20.9"/>
<circle cx="301" cy="51.5"/>
<circle cx="272.2" cy="37.7"/>
<circle cx="276.9" cy="44.7"/>
<circle cx="304.5" cy="20.8"/>
<circle cx="302.1" cy="37.3"/>
<circle cx="280.1" cy="50.4"/>
<circle cx="310.4" cy="47.4"/>
<circle cx="309.5" cy="60.1"/>
<circle cx="292.4" cy="47.1"/>
<circle cx="299.6" cy="49.6"/>
<circle cx="266.2" cy="21.2"/>
<circle cx="281.7" cy="33.2"/>
<circle cx="309.8" cy="27.1"/>
<circle cx="314.9" cy="40.6"/>
<circle cx="294" cy="35.4"/>
<circle cx="296.5" cy="56.5"/>
<circle cx="301.6" cy="52.8"/>
<circle cx="279.4" cy="31.6"/>
<circle cx="306.5" cy="21.6"/>
<circle cx="268" cy="51.9"/>
<circle cx="306.4" cy="35.2"/>
<circle cx="269.7" cy="20"/>
<circle cx="273.9" cy="30.7"/>
<circle cx="285.9" cy="28.3"/>
<circle cx="266" cy="57.9"/>
<circle cx="308.6" cy="62.7"/>
<circle cx="283.5" cy="34.7"/>
<circle cx="271" cy="24.5"/>
<circle cx="284" cy="47.3"/>
<circle cx="282.3" cy="29"/>
<circle cx="281.2" cy="47.2"/>
<circle cx="289.5" cy="24.4"/>
<circle cx="277.5" cy="20.6"/>
<circle cx="283.8" cy="55.9"/>
<circle cx="291.4" cy="20.4"/>
<circle cx="305.4" cy="51.2"/>
<circle cx="309.1" cy="55.4"/>
<circle cx="282.1" cy="57.2"/>
<circle cx="266.5" cy="28.9"/>
<circle cx="272.4" cy="34.4"/>
<circle cx="310.6" cy="38.4"/>
<circle cx="281" cy="28.1"/>
<circle cx="314.2" cy="22.6"/>
<circle cx="316.4" cy="38.3"/>
<circle cx="287.9" cy="20.7"/>
<circle cx="295" cy="26.7"/>
<circle cx="219" cy="43.5"/>
<circle cx="287.6" cy="38"/>
<circle cx="269" cy="43.3"/>
<circle cx="273.1" cy="38.3"/>
<circle cx="306.5" cy="60.4"/>
<circle cx="298.7" cy="51.2"/>
<circle cx="276.4" cy="52.1"/>
<circle cx="285" cy="28.8"/>
<circle cx="314.4" cy="35.9"/>
<circle cx="270.3" cy="28.9"/>
<circle cx="269" cy="30.3"/>
<circle cx="294.2" cy="49.5"/>
<circle cx="289.3" cy="25.3"/>
<circle cx="311" cy="36.8"/>
<circle cx="276.4" cy="28.5"/>
<circle cx="240" cy="60.3"/>
<circle cx="289.6" cy="20.4"/>
<circle cx="289.2" cy="36"/>
<circle cx="298.4" cy="36.5"/>
<circle cx="291.4" cy="36.2"/>
<circle cx="297.2" cy="38.1"/>
<circle cx="295.9" cy="37.5"/>
<circle cx="312.5" cy="26.8"/>
<circle cx="312.4" cy="28.6"/>
<circle cx="277.8" cy="52.4"/>
<circle cx="276.7" cy="61.1"/>
<circle cx="330.3" cy="20.8"/>
<circle cx="359.6" cy="27.6"/>
<circle cx="276.6" cy="27.1"/>
<circle cx="269.9" cy="31.5"/>
<circle cx="313" cy="23.6"/>
<circle cx="276.7" cy="25.3"/>
<circle cx="312.7" cy="51.4"/>
<circle cx="310.4" cy="31.5"/>
<circle cx="288" cy="55.9"/>
<circle cx="295.2" cy="38.8"/>
<circle cx="308.8" cy="57.1"/>
<circle cx="276.7" cy="59.2"/>
<circle cx="269" cy="28.7"/>
<circle cx="290.4" cy="37"/>
<circle cx="300.2" cy="20.6"/>
<circle cx="269.8" cy="40"/>
<circle cx="278.7" cy="47.6"/>
<circle cx="291.4" cy="45.8"/>
<circle cx="307.2" cy="53"/>
<circle cx="311.2" cy="44.1"/>
<circle cx="275" cy="22"/>
<circle cx="277.4" cy="53.7"/>
<circle cx="297.3" cy="61.1"/>
<circle cx="278.1" cy="33"/>
<circle cx="305.9" cy="38.3"/>
<circle cx="295.4" cy="43.9"/>
<circle cx="297.9" cy="53.6"/>
<circle cx="366.3" cy="58.3"/>
<circle cx="309.7" cy="24.4"/>
<circle cx="302.2" cy="56.9"/>
<circle cx="285.7" cy="46.7"/>
<circle cx="265.6" cy="42.5"/>
<circle cx="281.1" cy="56"/>
<circle cx="270.1" cy="34.5"/>
<circle cx="203.5" cy="31.4"/>
<circle cx="301.4" cy="24.5"/>
<circle cx="377.3" cy="57.8"/>
<circle cx="306.8" cy="21.2"/>
<circle cx="296.6" cy="52.5"/>
<circle cx="297.2" cy="61.7"/>
<circle cx="269.3" cy="58.4"/>
<circle cx="272.6" cy="30"/>
<circle cx="314.4" cy="44.9"/>
<circle cx="313.5" cy="44.2"/>
<circle cx="241.3" cy="61.1"/>
<circle cx="266.8" cy="34.7"/>
<circle cx="291.6" cy="25.4"/>
<circle cx="267.3" cy="30.3"/>
<circle cx="271.7" cy="62.2"/>
</g>
</g>
<rect x="198.2" y="77.9" width="190.5" height="41.7" fill="#fff" stroke="#444" stroke-width="1"/>
<clipPath id="cb2"><rect x="197.7" y="76.3" width="191.5" height="44.9"/></clipPath>
<g clip-path="url(#cb2)" id="cb2g">
<rect x="247" y="77.9" width="21" height="41.7" fill="#200018"/>
<rect x="337" y="77.9" width="25" height="41.7" fill="#200018"/>
<g class="r">
<circle cx="376" cy="98.4"/>
</g>
<g class="bd">
<circle cx="270" cy="119.2"/>
<circle cx="256.6" cy="88.7"/>
</g>
<g class="rd">
<circle cx="355.2" cy="119.6"/>
<circle cx="249" cy="103.8"/>
</g>
<g class="bd">
<circle cx="248.4" cy="105.8"/>
</g>
<g class="rd">
<circle cx="359.9" cy="102.8"/>
<circle cx="243.2" cy="105.3"/>
<circle cx="262.6" cy="108.5"/>
<circle cx="358.6" cy="79.7"/>
</g>
<g class="bd">
<circle cx="353.1" cy="110.6"/>
</g>
<g class="rd">
<circle cx="361.3" cy="119.5"/>
</g>
<g class="bd">
<circle cx="358.4" cy="88.1"/>
<circle cx="269" cy="107.5"/>
</g>
<g class="rd">
<circle cx="260.5" cy="95.2"/>
<circle cx="361.6" cy="87.6"/>
<circle cx="355.8" cy="106.1"/>
</g>
<g class="b">
<circle cx="211.6" cy="105.4"/>
</g>
<g class="rd">
<circle cx="359.6" cy="107.9"/>
<circle cx="276" cy="117.3"/>
</g>
<g class="r">
<circle cx="225.2" cy="110.4"/>
</g>
<g class="bd">
<circle cx="347.6" cy="112.5"/>
<circle cx="338.2" cy="77.5"/>
<circle cx="258.4" cy="86.3"/>
</g>
<g class="rd">
<circle cx="249.7" cy="114.4"/>
</g>
<g class="r">
<circle cx="379.9" cy="83.4"/>
</g>
<g class="bd">
<circle cx="258.9" cy="93.5"/>
</g>
<g class="rd">
<circle cx="249.6" cy="90"/>
</g>
<g class="r">
<circle cx="299.7" cy="107.6"/>
<circle cx="380.7" cy="104.7"/>
</g>
<g class="rd">
<circle cx="342.5" cy="82.4"/>
</g>
<g class="bd">
<circle cx="260.4" cy="102.8"/>
<circle cx="251.1" cy="113.2"/>
<circle cx="258.3" cy="77.9"/>
</g>
<g class="b">
<circle cx="325.4" cy="113.9"/>
</g>
<g class="r">
<circle cx="387.2" cy="110"/>
</g>
<g class="bd">
<circle cx="244.2" cy="81.1"/>
</g>
<g class="rd">
<circle cx="270.4" cy="93"/>
</g>
<g class="bd">
<circle cx="258.4" cy="80.4"/>
</g>
<g class="b">
<circle cx="323.3" cy="110.5"/>
</g>
<g class="bd">
<circle cx="256" cy="87"/>
</g>
<g class="r">
<circle cx="295.9" cy="94.7"/>
</g>
<g class="rd">
<circle cx="254.4" cy="83.4"/>
<circle cx="246.5" cy="78.9"/>
</g>
<g class="bd">
<circle cx="253.7" cy="91.8"/>
</g>
<g class="r">
<circle cx="326.1" cy="106"/>
</g>
<g class="bd">
<circle cx="262.6" cy="114.1"/>
</g>
<g class="r">
<circle cx="297.9" cy="90.4"/>
</g>
<g class="rd">
<circle cx="249.2" cy="105.6"/>
<circle cx="329.5" cy="82"/>
</g>
<g class="bd">
<circle cx="361.4" cy="117.5"/>
</g>
<g class="r">
<circle cx="203.8" cy="112"/>
</g>
<g class="bd">
<circle cx="248.4" cy="96.9"/>
</g>
<g class="rd">
<circle cx="356.8" cy="105.8"/>
</g>
<g class="r">
<circle cx="325.3" cy="116.9"/>
</g>
<g class="rd">
<circle cx="342.8" cy="84.5"/>
<circle cx="263.9" cy="85.6"/>
<circle cx="339.6" cy="93.6"/>
<circle cx="261.2" cy="115.5"/>
</g>
<g class="bd">
<circle cx="348.5" cy="96.6"/>
</g>
<g class="rd">
<circle cx="254.2" cy="97.8"/>
</g>
<g class="r">
<circle cx="297.3" cy="109.8"/>
</g>
<g class="rd">
<circle cx="252.1" cy="80.7"/>
<circle cx="333.5" cy="77.5"/>
</g>
<g class="bd">
<circle cx="257.6" cy="119.4"/>
</g>
<g class="b">
<circle cx="299" cy="90.5"/>
</g>
<g class="bd">
<circle cx="269.7" cy="78.1"/>
</g>
<g class="rd">
<circle cx="246.9" cy="87.2"/>
<circle cx="337.8" cy="90.6"/>
</g>
<g class="bd">
<circle cx="248.7" cy="88.9"/>
</g>
<g class="rd">
<circle cx="245.3" cy="103.7"/>
<circle cx="360.4" cy="97.1"/>
</g>
<g class="r">
<circle cx="276.2" cy="114.2"/>
</g>
<g class="bd">
<circle cx="352.1" cy="81.2"/>
</g>
<g class="rd">
<circle cx="250.7" cy="88.3"/>
</g>
<g class="bd">
<circle cx="358.8" cy="96.6"/>
<circle cx="344.7" cy="96.1"/>
<circle cx="272.1" cy="105.8"/>
</g>
<g class="r">
<circle cx="234.1" cy="104.2"/>
<circle cx="368" cy="115.9"/>
<circle cx="382.1" cy="105.6"/>
</g>
<g class="bd">
<circle cx="355.1" cy="89.1"/>
</g>
<g class="rd">
<circle cx="260.2" cy="104.2"/>
<circle cx="333.4" cy="115.3"/>
</g>
<g class="bd">
<circle cx="252.2" cy="83.9"/>
</g>
<g class="rd">
<circle cx="363.5" cy="86.8"/>
</g>
<g class="r">
<circle cx="323.3" cy="96.6"/>
</g>
<g class="rd">
<circle cx="271.4" cy="87.1"/>
</g>
<g class="r">
<circle cx="385" cy="93.7"/>
</g>
<g class="rd">
<circle cx="261.2" cy="119.2"/>
</g>
<g class="bd">
<circle cx="341.9" cy="84.8"/>
</g>
<g class="rd">
<circle cx="340.6" cy="84.9"/>
</g>
<g class="r">
<circle cx="291.8" cy="98.9"/>
</g>
<g class="bd">
<circle cx="347.4" cy="109"/>
</g>
<g class="rd">
<circle cx="248.3" cy="82.2"/>
<circle cx="268.5" cy="78.3"/>
<circle cx="368" cy="89.4"/>
</g>
<g class="r">
<circle cx="227.4" cy="104.2"/>
</g>
<g class="bd">
<circle cx="270.7" cy="112.8"/>
</g>
<g class="rd">
<circle cx="341.1" cy="110.6"/>
</g>
<g class="bd">
<circle cx="259.8" cy="116.7"/>
<circle cx="257.7" cy="88.2"/>
<circle cx="357.1" cy="91.5"/>
<circle cx="269.2" cy="89.6"/>
</g>
<g class="rd">
<circle cx="263.2" cy="77.5"/>
<circle cx="261" cy="109.3"/>
</g>
<g class="r">
<circle cx="209.2" cy="86.2"/>
</g>
<g class="rd">
<circle cx="259.3" cy="96.6"/>
</g>
<g class="bd">
<circle cx="347.6" cy="91.6"/>
<circle cx="274.4" cy="120"/>
</g>
<g class="rd">
<circle cx="363" cy="86.4"/>
</g>
<g class="bd">
<circle cx="266.9" cy="77.8"/>
</g>
<g class="rd">
<circle cx="258.3" cy="112.5"/>
</g>
<g class="bd">
<circle cx="355.9" cy="99.9"/>
<circle cx="251.4" cy="94"/>
</g>
<g class="b">
<circle cx="305.3" cy="115"/>
</g>
<g class="r">
<circle cx="279.6" cy="114.7"/>
</g>
<g class="bd">
<circle cx="342.8" cy="101.4"/>
</g>
<g class="r">
<circle cx="235.3" cy="116.2"/>
</g>
<g class="rd">
<circle cx="273" cy="111.1"/>
</g>
<g class="bd">
<circle cx="260.9" cy="116.5"/>
<circle cx="250.2" cy="101.5"/>
</g>
<g class="r">
<circle cx="215.2" cy="105.6"/>
</g>
<g class="rd">
<circle cx="362.6" cy="101.3"/>
</g>
<g class="bd">
<circle cx="355.9" cy="82.9"/>
</g>
<g class="rd">
<circle cx="335.2" cy="105.9"/>
<circle cx="341" cy="96.1"/>
</g>
<g class="r">
<circle cx="227.4" cy="90.9"/>
</g>
<g class="rd">
<circle cx="350.4" cy="93.7"/>
</g>
<g class="r">
<circle cx="206.2" cy="83.6"/>
</g>
<g class="bd">
<circle cx="264.2" cy="94.5"/>
</g>
<g class="r">
<circle cx="325.8" cy="101.9"/>
</g>
<g class="rd">
<circle cx="337.5" cy="100.8"/>
</g>
<g class="r">
<circle cx="311.2" cy="107.1"/>
</g>
<g class="rd">
<circle cx="338.3" cy="113.7"/>
<circle cx="271.2" cy="104.7"/>
</g>
<g class="bd">
<circle cx="246.4" cy="84.8"/>
</g>
<g class="b">
<circle cx="202.2" cy="94.8"/>
<circle cx="289.5" cy="118.6"/>
</g>
<g class="rd">
<circle cx="255" cy="94.4"/>
<circle cx="363.1" cy="83.1"/>
</g>
<g class="b">
<circle cx="327.4" cy="103.6"/>
</g>
<g class="bd">
<circle cx="263.2" cy="92.3"/>
<circle cx="258.3" cy="104.1"/>
<circle cx="256.8" cy="110.4"/>
</g>
<g class="rd">
<circle cx="347.7" cy="101.5"/>
</g>
<g class="bd">
<circle cx="251.5" cy="112"/>
</g>
<g class="rd">
<circle cx="354" cy="79.6"/>
<circle cx="276.2" cy="112.6"/>
<circle cx="336.5" cy="77.6"/>
</g>
<g class="bd">
<circle cx="251.6" cy="101.9"/>
</g>
<g class="rd">
<circle cx="260.8" cy="99.7"/>
<circle cx="347.1" cy="117.1"/>
</g>
<g class="r">
<circle cx="231.6" cy="85.9"/>
</g>
<g class="rd">
<circle cx="246.5" cy="91.2"/>
<circle cx="241.7" cy="118.2"/>
</g>
<g class="bd">
<circle cx="261.5" cy="94.6"/>
</g>
<g class="rd">
<circle cx="263.8" cy="110.6"/>
<circle cx="335.7" cy="79.2"/>
</g>
<g class="bd">
<circle cx="270.7" cy="115.2"/>
</g>
<g class="rd">
<circle cx="263.2" cy="79.6"/>
</g>
<g class="r">
<circle cx="219.2" cy="91.1"/>
</g>
<g class="rd">
<circle cx="340.9" cy="90.7"/>
</g>
<g class="bd">
<circle cx="344.9" cy="120.1"/>
</g>
<g class="rd">
<circle cx="261.6" cy="86.3"/>
</g>
<g class="bd">
<circle cx="343.2" cy="106.9"/>
<circle cx="252" cy="105.1"/>
</g>
<g class="rd">
<circle cx="264.1" cy="106.2"/>
</g>
<g class="bd">
<circle cx="266.9" cy="87.5"/>
</g>
<g class="rd">
<circle cx="263.1" cy="101.9"/>
</g>
<g class="bd">
<circle cx="250.7" cy="92.4"/>
<circle cx="365.1" cy="83.2"/>
</g>
<g class="rd">
<circle cx="261.7" cy="111"/>
<circle cx="269.2" cy="120"/>
</g>
<g class="bd">
<circle cx="336" cy="90.5"/>
<circle cx="345.5" cy="92.2"/>
</g>
<g class="rd">
<circle cx="245" cy="85.7"/>
</g>
<g class="bd">
<circle cx="269.3" cy="85.7"/>
</g>
<g class="rd">
<circle cx="260.6" cy="100.1"/>
<circle cx="252" cy="95.4"/>
<circle cx="261.5" cy="91.2"/>
<circle cx="255.4" cy="114.7"/>
</g>
<g class="bd">
<circle cx="257.2" cy="82"/>
</g>
<g class="rd">
<circle cx="260" cy="82.5"/>
</g>
<g class="bd">
<circle cx="255.5" cy="88.9"/>
<circle cx="265.8" cy="88"/>
<circle cx="269.2" cy="109.3"/>
</g>
<g class="rd">
<circle cx="267.6" cy="83.2"/>
<circle cx="352.4" cy="87.7"/>
</g>
<g class="r">
<circle cx="200.7" cy="103.6"/>
</g>
<g class="bd">
<circle cx="356.2" cy="82"/>
</g>
<g class="rd">
<circle cx="350.2" cy="116.1"/>
<circle cx="351.7" cy="116"/>
</g>
<g class="r">
<circle cx="275.3" cy="81.4"/>
</g>
<g class="rd">
<circle cx="261.3" cy="80.4"/>
<circle cx="275.2" cy="77.8"/>
</g>
<g class="r">
<circle cx="386.3" cy="118.7"/>
</g>
<g class="bd">
<circle cx="265.7" cy="117.3"/>
</g>
<g class="rd">
<circle cx="270.7" cy="106"/>
<circle cx="361.8" cy="102.7"/>
<circle cx="348.7" cy="113.9"/>
<circle cx="246.7" cy="111"/>
<circle cx="253.4" cy="86"/>
<circle cx="332.2" cy="112.2"/>
<circle cx="246.9" cy="89.4"/>
</g>
<g class="r">
<circle cx="324.3" cy="100.5"/>
</g>
<g class="bd">
<circle cx="356.9" cy="108.9"/>
</g>
<g class="rd">
<circle cx="365" cy="112.1"/>
<circle cx="353" cy="114.7"/>
</g>
<g class="bd">
<circle cx="268.3" cy="112"/>
<circle cx="347.5" cy="84.1"/>
<circle cx="341.3" cy="86.3"/>
</g>
<g class="r">
<circle cx="277.1" cy="102.9"/>
</g>
<g class="bd">
<circle cx="339.3" cy="101.5"/>
</g>
<g class="rd">
<circle cx="358.2" cy="108.3"/>
</g>
<g class="r">
<circle cx="209.6" cy="111.5"/>
</g>
<g class="rd">
<circle cx="260.9" cy="78.7"/>
<circle cx="249.4" cy="117.8"/>
<circle cx="330.8" cy="100.6"/>
</g>
<g class="r">
<circle cx="237" cy="80.3"/>
</g>
<g class="b">
<circle cx="304.1" cy="106.6"/>
</g>
<g class="bd">
<circle cx="342.9" cy="104.4"/>
</g>
<g class="rd">
<circle cx="346.8" cy="105.6"/>
</g>
<g class="r">
<circle cx="203.4" cy="108.8"/>
</g>
<g class="rd">
<circle cx="355.6" cy="117.8"/>
<circle cx="244.4" cy="114.1"/>
</g>
<g class="bd">
<circle cx="357.9" cy="119"/>
</g>
<g class="rd">
<circle cx="247" cy="111.4"/>
<circle cx="256.2" cy="97.1"/>
</g>
<g class="bd">
<circle cx="245.3" cy="96.9"/>
</g>
<g class="rd">
<circle cx="338.1" cy="96.7"/>
</g>
<g class="r">
<circle cx="294.8" cy="109.1"/>
</g>
<g class="rd">
<circle cx="365.2" cy="116.1"/>
</g>
<g class="bd">
<circle cx="359.4" cy="114.4"/>
</g>
<g class="r">
<circle cx="239.4" cy="89.1"/>
</g>
<g class="bd">
<circle cx="240.3" cy="78.4"/>
</g>
<g class="r">
<circle cx="313.3" cy="90.5"/>
</g>
<g class="bd">
<circle cx="339.1" cy="85.9"/>
</g>
<g class="rd">
<circle cx="343.9" cy="98.4"/>
<circle cx="333.9" cy="84"/>
</g>
<g class="bd">
<circle cx="239.4" cy="104.3"/>
</g>
<g class="rd">
<circle cx="359" cy="118.8"/>
<circle cx="277.5" cy="115.8"/>
</g>
<g class="r">
<circle cx="226.9" cy="101.7"/>
</g>
<g class="rd">
<circle cx="265.6" cy="86.4"/>
<circle cx="251.7" cy="115.7"/>
</g>
<g class="r">
<circle cx="387" cy="108.9"/>
</g>
<g class="bd">
<circle cx="265.9" cy="108.1"/>
</g>
<g class="r">
<circle cx="199.7" cy="94.7"/>
</g>
<g class="rd">
<circle cx="248.4" cy="91.3"/>
</g>
<g class="bd">
<circle cx="357.9" cy="80.6"/>
<circle cx="263.9" cy="97.9"/>
</g>
<g class="rd">
<circle cx="334.9" cy="92"/>
</g>
<g class="bd">
<circle cx="338.3" cy="83.6"/>
</g>
<g class="rd">
<circle cx="238.4" cy="116.5"/>
<circle cx="342.2" cy="117.3"/>
<circle cx="246.5" cy="114.4"/>
<circle cx="335.7" cy="109.3"/>
</g>
<g class="r">
<circle cx="234.8" cy="102.3"/>
</g>
<g class="bd">
<circle cx="364" cy="90"/>
</g>
<g class="rd">
<circle cx="266.4" cy="99.5"/>
</g>
<g class="r">
<circle cx="221.1" cy="92.8"/>
</g>
<g class="rd">
<circle cx="270.1" cy="88.1"/>
</g>
<g class="bd">
<circle cx="266.6" cy="110.1"/>
</g>
<g class="r">
<circle cx="320.7" cy="83.7"/>
<circle cx="292.7" cy="108"/>
</g>
<g class="bd">
<circle cx="343" cy="86.7"/>
</g>
<g class="r">
<circle cx="311.3" cy="111.6"/>
</g>
<g class="bd">
<circle cx="355.3" cy="89.5"/>
<circle cx="352.7" cy="99.6"/>
</g>
<g class="rd">
<circle cx="363.8" cy="87.8"/>
</g>
<g class="bd">
<circle cx="363.6" cy="84.4"/>
<circle cx="359.9" cy="93.4"/>
</g>
<g class="rd">
<circle cx="355.9" cy="107.9"/>
<circle cx="348.4" cy="77.7"/>
</g>
<g class="bd">
<circle cx="350.3" cy="106.9"/>
<circle cx="332.4" cy="89.2"/>
</g>
<g class="r">
<circle cx="202.4" cy="112"/>
<circle cx="213.5" cy="111.8"/>
</g>
<g class="bd">
<circle cx="352" cy="107.4"/>
<circle cx="359.2" cy="98.5"/>
<circle cx="341.3" cy="98.6"/>
</g>
<g class="r">
<circle cx="223.1" cy="117.8"/>
</g>
<g class="bd">
<circle cx="355.3" cy="108.7"/>
</g>
<g class="rd">
<circle cx="249.8" cy="110.4"/>
<circle cx="267.3" cy="92.2"/>
</g>
<g class="r">
<circle cx="322.9" cy="90.8"/>
</g>
<g class="rd">
<circle cx="344.6" cy="106.5"/>
<circle cx="272.7" cy="104.2"/>
<circle cx="338.2" cy="119.3"/>
<circle cx="258.2" cy="109.4"/>
</g>
<g class="bd">
<circle cx="339.4" cy="103.1"/>
<circle cx="345.5" cy="116.6"/>
</g>
<g class="rd">
<circle cx="247.4" cy="101.6"/>
<circle cx="249.9" cy="94.2"/>
</g>
<g class="bd">
<circle cx="334.9" cy="89.4"/>
<circle cx="356.5" cy="77.3"/>
</g>
<g class="rd">
<circle cx="341.2" cy="92.3"/>
</g>
<g class="bd">
<circle cx="365" cy="113.1"/>
<circle cx="348.6" cy="79.2"/>
<circle cx="342.9" cy="110.9"/>
</g>
<g class="rd">
<circle cx="349.2" cy="106.6"/>
<circle cx="331.4" cy="80.1"/>
<circle cx="241.5" cy="89.3"/>
</g>
<g class="bd">
<circle cx="251.7" cy="119.6"/>
</g>
<g class="rd">
<circle cx="271" cy="118.1"/>
<circle cx="256.4" cy="93.5"/>
</g>
<g class="r">
<circle cx="280.5" cy="117.3"/>
</g>
<g class="bd">
<circle cx="250.1" cy="93"/>
</g>
<g class="rd">
<circle cx="271" cy="107.7"/>
</g>
<g class="bd">
<circle cx="254.1" cy="101.1"/>
</g>
<g class="rd">
<circle cx="267" cy="106.7"/>
<circle cx="332.6" cy="85.9"/>
</g>
<g class="bd">
<circle cx="362.8" cy="91.5"/>
</g>
<g class="r">
<circle cx="278.3" cy="85.1"/>
</g>
<g class="bd">
<circle cx="337.4" cy="108.4"/>
</g>
<g class="rd">
<circle cx="340.4" cy="104.1"/>
<circle cx="268.5" cy="113.6"/>
<circle cx="357.1" cy="93.8"/>
</g>
<g class="bd">
<circle cx="338.7" cy="118.4"/>
<circle cx="354.4" cy="115.3"/>
</g>
<g class="rd">
<circle cx="256.8" cy="90.8"/>
</g>
<g class="bd">
<circle cx="354.1" cy="108.7"/>
</g>
<g class="rd">
<circle cx="360.9" cy="85"/>
<circle cx="335.5" cy="110.5"/>
</g>
<g class="bd">
<circle cx="341.8" cy="100.1"/>
</g>
<g class="rd">
<circle cx="359.3" cy="108.8"/>
<circle cx="366.4" cy="107.6"/>
<circle cx="336.3" cy="117.5"/>
<circle cx="338" cy="89"/>
<circle cx="264.8" cy="85.2"/>
<circle cx="336.1" cy="81.5"/>
<circle cx="266.2" cy="91.1"/>
</g>
<g class="r">
<circle cx="310.9" cy="94.7"/>
<circle cx="316.3" cy="96.5"/>
</g>
<g class="rd">
<circle cx="266.2" cy="114.5"/>
<circle cx="334" cy="119.7"/>
</g>
<g class="bd">
<circle cx="352.6" cy="118.9"/>
<circle cx="252.6" cy="108.4"/>
</g>
<g class="r">
<circle cx="278.9" cy="118.4"/>
</g>
<g class="rd">
<circle cx="262.9" cy="112.2"/>
</g>
<g class="bd">
<circle cx="335.2" cy="90.1"/>
</g>
<g class="rd">
<circle cx="249.2" cy="80.6"/>
<circle cx="245.8" cy="83.1"/>
</g>
<g class="bd">
<circle cx="356.2" cy="102.3"/>
</g>
<g class="rd">
<circle cx="352.2" cy="96.7"/>
</g>
<g class="b">
<circle cx="312.5" cy="112"/>
</g>
<g class="rd">
<circle cx="363.6" cy="101.9"/>
</g>
<g class="bd">
<circle cx="349.7" cy="86.4"/>
<circle cx="349.5" cy="99.5"/>
<circle cx="250.9" cy="90.3"/>
</g>
<g class="r">
<circle cx="372.2" cy="110"/>
</g>
<g class="bd">
<circle cx="328" cy="77.4"/>
</g>
<g class="r">
<circle cx="328.1" cy="116.2"/>
</g>
<g class="rd">
<circle cx="244.2" cy="119.8"/>
</g>
<g class="r">
<circle cx="372.8" cy="89.3"/>
</g>
<g class="rd">
<circle cx="250.8" cy="78.4"/>
</g>
<g class="bd">
<circle cx="259.7" cy="93"/>
</g>
<g class="r">
<circle cx="213.8" cy="80.5"/>
</g>
<g class="bd">
<circle cx="333.9" cy="100"/>
</g>
<g class="rd">
<circle cx="358.4" cy="82"/>
</g>
<g class="bd">
<circle cx="331.6" cy="83.6"/>
<circle cx="345.4" cy="104.9"/>
</g>
<g class="rd">
<circle cx="270.2" cy="80.8"/>
</g>
<g class="bd">
<circle cx="261.2" cy="104.2"/>
<circle cx="254.1" cy="107.2"/>
<circle cx="345.1" cy="101.6"/>
<circle cx="259" cy="110.6"/>
<circle cx="254.5" cy="86.1"/>
</g>
<g class="rd">
<circle cx="265.8" cy="105.6"/>
<circle cx="246.4" cy="99.6"/>
</g>
<g class="bd">
<circle cx="345.2" cy="81"/>
</g>
<g class="rd">
<circle cx="241.9" cy="108.5"/>
<circle cx="343.1" cy="116.8"/>
<circle cx="264.8" cy="119.1"/>
<circle cx="348.5" cy="101"/>
</g>
<g class="r">
<circle cx="293.3" cy="108.1"/>
<circle cx="288.7" cy="83.6"/>
</g>
<g class="rd">
<circle cx="244.5" cy="84.2"/>
</g>
<g class="r">
<circle cx="237" cy="95.9"/>
</g>
<g class="bd">
<circle cx="360.1" cy="94.5"/>
<circle cx="339.4" cy="116.5"/>
</g>
<g class="rd">
<circle cx="267.1" cy="119.8"/>
<circle cx="342.6" cy="83.5"/>
</g>
<g class="bd">
<circle cx="333" cy="82.5"/>
</g>
<g class="r">
<circle cx="317" cy="82.1"/>
</g>
<g class="rd">
<circle cx="269.6" cy="85.2"/>
<circle cx="258.9" cy="101.9"/>
</g>
<g class="bd">
<circle cx="252.2" cy="119.1"/>
</g>
<g class="rd">
<circle cx="340.2" cy="119.6"/>
<circle cx="347.4" cy="118.7"/>
</g>
<g class="r">
<circle cx="221.6" cy="83.3"/>
</g>
<g class="rd">
<circle cx="245.7" cy="100.2"/>
<circle cx="359.9" cy="106.1"/>
<circle cx="342.9" cy="91.9"/>
<circle cx="250.3" cy="116.6"/>
<circle cx="267.6" cy="81.1"/>
<circle cx="243.3" cy="81.4"/>
<circle cx="240.9" cy="81.4"/>
</g>
<g class="bd">
<circle cx="354.9" cy="94.1"/>
</g>
<g class="r">
<circle cx="300.2" cy="103.5"/>
</g>
<g class="rd">
<circle cx="348.6" cy="89.3"/>
</g>
<g class="bd">
<circle cx="251.7" cy="114.9"/>
<circle cx="349" cy="118.1"/>
</g>
<g class="rd">
<circle cx="256" cy="98.8"/>
</g>
<g class="bd">
<circle cx="350.5" cy="113.1"/>
<circle cx="267.8" cy="96.1"/>
<circle cx="252.3" cy="97.7"/>
</g>
<g class="rd">
<circle cx="346.3" cy="107"/>
</g>
<g class="bd">
<circle cx="264.7" cy="92.4"/>
</g>
<g class="rd">
<circle cx="257.4" cy="83.3"/>
<circle cx="260.9" cy="118.9"/>
</g>
<g class="bd">
<circle cx="263.1" cy="117.7"/>
</g>
<g class="r">
<circle cx="208.5" cy="97"/>
</g>
<g class="rd">
<circle cx="335.8" cy="105.7"/>
</g>
<g class="bd">
<circle cx="331.2" cy="85.6"/>
</g>
<g class="rd">
<circle cx="334.5" cy="114.3"/>
</g>
<g class="bd">
<circle cx="246.3" cy="94"/>
<circle cx="341" cy="94.2"/>
<circle cx="341.1" cy="97.7"/>
</g>
<g class="rd">
<circle cx="243.4" cy="112.1"/>
</g>
<g class="bd">
<circle cx="356.1" cy="104.7"/>
</g>
<g class="rd">
<circle cx="253.4" cy="104.5"/>
<circle cx="243.2" cy="115.3"/>
</g>
<g class="r">
<circle cx="320.4" cy="79.3"/>
</g>
<g class="rd">
<circle cx="344.5" cy="114.4"/>
<circle cx="364.8" cy="100.3"/>
<circle cx="340.6" cy="114.4"/>
<circle cx="350.3" cy="91.2"/>
</g>
<g class="r">
<circle cx="301.6" cy="103.5"/>
</g>
<g class="rd">
<circle cx="271.3" cy="103"/>
<circle cx="357.7" cy="104.4"/>
</g>
<g class="bd">
<circle cx="249.4" cy="99.6"/>
<circle cx="349" cy="108.9"/>
</g>
<g class="r">
<circle cx="284.1" cy="81.3"/>
</g>
<g class="b">
<circle cx="340" cy="86.7"/>
</g>
<g class="r">
<circle cx="309" cy="111.2"/>
</g>
<g class="b">
<circle cx="355.9" cy="116.1"/>
</g>
<g class="r">
<circle cx="224.2" cy="104.6"/>
</g>
<g class="b">
<circle cx="360.7" cy="104.2"/>
<circle cx="352.3" cy="110.5"/>
<circle cx="338.4" cy="91.8"/>
</g>
<g class="r">
<circle cx="355.8" cy="92.5"/>
</g>
<g class="b">
<circle cx="358.4" cy="110.7"/>
</g>
<g class="r">
<circle cx="360.7" cy="116.8"/>
<circle cx="280.3" cy="90.1"/>
<circle cx="285.8" cy="77.6"/>
<circle cx="332.4" cy="109.3"/>
</g>
<g class="b">
<circle cx="360.5" cy="101.9"/>
</g>
<g class="r">
<circle cx="358.3" cy="95.3"/>
<circle cx="331.7" cy="117.3"/>
</g>
<g class="b">
<circle cx="257.3" cy="109.1"/>
<circle cx="346.5" cy="89.7"/>
</g>
<g class="r">
<circle cx="248.6" cy="87"/>
<circle cx="284.2" cy="79.7"/>
<circle cx="344" cy="112.2"/>
</g>
<g class="b">
<circle cx="250.3" cy="113.7"/>
<circle cx="362.7" cy="81.3"/>
</g>
<g class="r">
<circle cx="383.1" cy="105.6"/>
</g>
<g class="b">
<circle cx="265.3" cy="100.7"/>
</g>
<g class="r">
<circle cx="262.2" cy="96"/>
<circle cx="279.7" cy="94.3"/>
</g>
<g class="b">
<circle cx="252.1" cy="101"/>
<circle cx="251.7" cy="81.8"/>
<circle cx="346.8" cy="94.7"/>
</g>
<g class="r">
<circle cx="234" cy="115.5"/>
</g>
<g class="b">
<circle cx="358.4" cy="86.2"/>
</g>
<g class="r">
<circle cx="353.1" cy="119.7"/>
<circle cx="362.2" cy="99.4"/>
<circle cx="344.1" cy="93.5"/>
<circle cx="302.2" cy="110.2"/>
</g>
<g class="b">
<circle cx="259" cy="101.5"/>
</g>
<g class="r">
<circle cx="258.5" cy="98.5"/>
<circle cx="360.4" cy="80.7"/>
<circle cx="340.4" cy="83.6"/>
</g>
<g class="b">
<circle cx="248.5" cy="115.2"/>
</g>
<g class="r">
<circle cx="268.1" cy="114.8"/>
<circle cx="220.9" cy="93.6"/>
<circle cx="245.5" cy="81.3"/>
<circle cx="334.6" cy="110.3"/>
<circle cx="240.2" cy="80"/>
<circle cx="348.8" cy="104.5"/>
<circle cx="351.6" cy="105.9"/>
</g>
<g class="b">
<circle cx="260.5" cy="78.5"/>
</g>
<g class="r">
<circle cx="248.2" cy="93"/>
<circle cx="324.6" cy="112.7"/>
<circle cx="344.5" cy="90.8"/>
<circle cx="331.3" cy="114.8"/>
<circle cx="269.6" cy="95.6"/>
<circle cx="341.3" cy="79.5"/>
</g>
<g class="b">
<circle cx="337" cy="82.7"/>
<circle cx="259.8" cy="80.9"/>
</g>
<g class="r">
<circle cx="347.9" cy="89.6"/>
<circle cx="264.9" cy="110.8"/>
<circle cx="338.4" cy="109.5"/>
</g>
<g class="b">
<circle cx="339" cy="81.9"/>
</g>
<g class="r">
<circle cx="378.2" cy="106.3"/>
</g>
<g class="b">
<circle cx="342.4" cy="88.1"/>
<circle cx="264.8" cy="103"/>
</g>
<g class="r">
<circle cx="271.5" cy="108.7"/>
<circle cx="353.4" cy="106.7"/>
<circle cx="226.3" cy="112.4"/>
<circle cx="233.6" cy="89.8"/>
<circle cx="355.2" cy="85.9"/>
<circle cx="369.1" cy="82.4"/>
<circle cx="271.8" cy="116.3"/>
</g>
<g class="b">
<circle cx="342.7" cy="97.8"/>
<circle cx="260.5" cy="111.5"/>
</g>
<g class="r">
<circle cx="254.3" cy="92.9"/>
<circle cx="351.5" cy="102.3"/>
<circle cx="363.1" cy="78.3"/>
<circle cx="247.9" cy="98.5"/>
</g>
<g class="b">
<circle cx="369.3" cy="94.7"/>
<circle cx="346.3" cy="103.6"/>
<circle cx="362.2" cy="112.5"/>
</g>
<g class="r">
<circle cx="366.6" cy="113.7"/>
<circle cx="347.5" cy="80.6"/>
<circle cx="246.1" cy="96.1"/>
<circle cx="333.3" cy="79"/>
<circle cx="255.7" cy="103.7"/>
</g>
<g class="b">
<circle cx="358.9" cy="103.5"/>
</g>
<g class="r">
<circle cx="341.6" cy="106.7"/>
</g>
<g class="b">
<circle cx="349.8" cy="114"/>
<circle cx="276.1" cy="118.3"/>
</g>
<g class="r">
<circle cx="360.4" cy="95.6"/>
</g>
<g class="b">
<circle cx="352.1" cy="96.2"/>
</g>
<g class="r">
<circle cx="245.6" cy="109.3"/>
<circle cx="361.2" cy="92.6"/>
</g>
<g class="b">
<circle cx="259.9" cy="112.5"/>
<circle cx="341.8" cy="104.2"/>
</g>
<g class="r">
<circle cx="255.3" cy="98.5"/>
</g>
<g class="b">
<circle cx="263.3" cy="88.8"/>
</g>
<g class="r">
<circle cx="306" cy="103.1"/>
</g>
<g class="b">
<circle cx="215" cy="84"/>
<circle cx="353.3" cy="117.6"/>
</g>
<g class="r">
<circle cx="254.5" cy="89.9"/>
</g>
<g class="b">
<circle cx="343.5" cy="96.3"/>
</g>
<g class="r">
<circle cx="343.2" cy="80.6"/>
<circle cx="347.3" cy="99.7"/>
</g>
<g class="b">
<circle cx="349.3" cy="101.7"/>
<circle cx="363.6" cy="80.4"/>
<circle cx="234.3" cy="111.2"/>
</g>
<g class="r">
<circle cx="249.3" cy="94.8"/>
</g>
<g class="b">
<circle cx="257.6" cy="115.4"/>
</g>
<g class="r">
<circle cx="257.2" cy="113.8"/>
<circle cx="290.8" cy="86.6"/>
<circle cx="274.5" cy="102.8"/>
<circle cx="237.4" cy="95.2"/>
</g>
<g class="b">
<circle cx="345.5" cy="80.7"/>
<circle cx="345.3" cy="110.4"/>
</g>
<g class="r">
<circle cx="338.4" cy="86.5"/>
<circle cx="253.7" cy="118.1"/>
</g>
<g class="b">
<circle cx="346.4" cy="114.5"/>
<circle cx="339.2" cy="113.3"/>
</g>
<g class="r">
<circle cx="366.5" cy="79.4"/>
<circle cx="261.6" cy="107.6"/>
</g>
<g class="b">
<circle cx="357.7" cy="100.8"/>
<circle cx="229.8" cy="98.5"/>
<circle cx="260.9" cy="91.8"/>
</g>
<g class="r">
<circle cx="369.7" cy="110.7"/>
</g>
<g class="b">
<circle cx="263.6" cy="80.9"/>
</g>
<g class="r">
<circle cx="354.4" cy="100.6"/>
</g>
<g class="b">
<circle cx="235.6" cy="98.9"/>
</g>
<g class="r">
<circle cx="354.5" cy="92.2"/>
<circle cx="352.8" cy="89.5"/>
</g>
<g class="b">
<circle cx="264.5" cy="95.4"/>
<circle cx="349.1" cy="111.1"/>
</g>
<g class="r">
<circle cx="336.9" cy="91.3"/>
<circle cx="276.8" cy="115.8"/>
</g>
<g class="b">
<circle cx="377.8" cy="84.9"/>
</g>
<g class="r">
<circle cx="383.5" cy="80.8"/>
<circle cx="360.3" cy="99.4"/>
<circle cx="233.6" cy="100.5"/>
</g>
<g class="b">
<circle cx="259.6" cy="106.3"/>
</g>
<g class="r">
<circle cx="348.3" cy="94.3"/>
<circle cx="250.5" cy="84"/>
<circle cx="367.4" cy="100.2"/>
</g>
<g class="b">
<circle cx="244.1" cy="86.8"/>
</g>
<g class="r">
<circle cx="354.9" cy="86.1"/>
<circle cx="355.5" cy="79.3"/>
</g>
<g class="b">
<circle cx="345.1" cy="102.9"/>
</g>
<g class="r">
<circle cx="363.8" cy="105.3"/>
<circle cx="258.7" cy="90.2"/>
</g>
<g class="b">
<circle cx="266.7" cy="88.5"/>
<circle cx="242.6" cy="87.6"/>
<circle cx="362.2" cy="94.3"/>
</g>
<g class="r">
<circle cx="313.8" cy="98.4"/>
<circle cx="314.7" cy="94.8"/>
</g>
<g class="b">
<circle cx="350.9" cy="89.9"/>
</g>
<g class="r">
<circle cx="358.3" cy="116.5"/>
<circle cx="339.4" cy="89.8"/>
<circle cx="258.4" cy="82.4"/>
</g>
<g class="b">
<circle cx="350.2" cy="119.9"/>
</g>
<g class="r">
<circle cx="337.8" cy="111"/>
<circle cx="256.7" cy="116.5"/>
</g>
<g class="b">
<circle cx="366.7" cy="82.9"/>
<circle cx="359.3" cy="113.7"/>
<circle cx="268.1" cy="116.1"/>
<circle cx="349.9" cy="88.9"/>
</g>
<g class="r">
<circle cx="360.8" cy="112.5"/>
<circle cx="248.8" cy="119.1"/>
<circle cx="264.9" cy="99.9"/>
</g>
<g class="b">
<circle cx="263.8" cy="90.9"/>
<circle cx="268.6" cy="88.2"/>
</g>
<g class="r">
<circle cx="372.4" cy="113.3"/>
<circle cx="247.4" cy="79.5"/>
</g>
<g class="b">
<circle cx="255.3" cy="80.7"/>
</g>
<g class="r">
<circle cx="272.5" cy="119.8"/>
<circle cx="263.5" cy="84"/>
<circle cx="356.9" cy="112.7"/>
<circle cx="344.2" cy="82.4"/>
<circle cx="234.8" cy="99.9"/>
</g>
<g class="b">
<circle cx="364.9" cy="106.9"/>
</g>
<g class="r">
<circle cx="302.9" cy="114.1"/>
</g>
<g class="b">
<circle cx="241.9" cy="78.4"/>
</g>
<g class="r">
<circle cx="358.9" cy="84"/>
<circle cx="248.4" cy="78.2"/>
</g>
<g class="b">
<circle cx="351.8" cy="91.6"/>
</g>
<g class="r">
<circle cx="366.8" cy="116.8"/>
</g>
<g class="b">
<circle cx="262" cy="112.7"/>
<circle cx="258.9" cy="85.8"/>
</g>
<g class="r">
<circle cx="363.3" cy="110.5"/>
</g>
<g class="b">
<circle cx="235.5" cy="110.6"/>
<circle cx="256.7" cy="82.6"/>
</g>
<g class="r">
<circle cx="205.4" cy="102"/>
</g>
<g class="b">
<circle cx="266.8" cy="113"/>
<circle cx="242.2" cy="116.2"/>
</g>
<g class="r">
<circle cx="250" cy="84.2"/>
</g>
<g class="b">
<circle cx="251.3" cy="110"/>
<circle cx="243.5" cy="110.7"/>
<circle cx="342.5" cy="109.7"/>
<circle cx="369.1" cy="104.2"/>
</g>
<g class="r">
<circle cx="274.7" cy="117"/>
<circle cx="266.4" cy="85.2"/>
<circle cx="372.6" cy="99.2"/>
</g>
<g class="b">
<circle cx="324.2" cy="115.1"/>
<circle cx="361.6" cy="77.9"/>
</g>
<g class="r">
<circle cx="326.9" cy="91.9"/>
</g>
<g class="b">
<circle cx="247.3" cy="102.7"/>
</g>
<g class="r">
<circle cx="288.9" cy="105.5"/>
</g>
<g class="b">
<circle cx="253.5" cy="78"/>
<circle cx="350.8" cy="81.7"/>
</g>
<g class="r">
<circle cx="261.9" cy="105.3"/>
<circle cx="349.1" cy="86.7"/>
<circle cx="264.2" cy="117"/>
</g>
<g class="b">
<circle cx="252.5" cy="80.4"/>
<circle cx="345.3" cy="96.7"/>
<circle cx="356.9" cy="77.7"/>
</g>
<g class="r">
<circle cx="269.1" cy="84.2"/>
<circle cx="333.2" cy="106.6"/>
<circle cx="352.6" cy="88"/>
<circle cx="258.4" cy="92.7"/>
<circle cx="333.9" cy="94.3"/>
<circle cx="382.9" cy="113.4"/>
</g>
<g class="b">
<circle cx="248.3" cy="109.3"/>
</g>
<g class="r">
<circle cx="377.8" cy="96.5"/>
</g>
<g class="b">
<circle cx="247.2" cy="89.4"/>
<circle cx="267" cy="80.3"/>
</g>
<g class="r">
<circle cx="333.2" cy="86.5"/>
<circle cx="340.2" cy="89.5"/>
<circle cx="322.3" cy="88.5"/>
</g>
<g class="b">
<circle cx="255.6" cy="116"/>
<circle cx="354.5" cy="117.2"/>
</g>
<g class="r">
<circle cx="356.2" cy="114.8"/>
<circle cx="265.5" cy="108.8"/>
<circle cx="244.6" cy="91.1"/>
<circle cx="322.6" cy="105.5"/>
</g>
<g class="b">
<circle cx="349.6" cy="107.7"/>
<circle cx="251.5" cy="99.1"/>
</g>
<g class="r">
<circle cx="338.5" cy="93.2"/>
<circle cx="231.2" cy="104.1"/>
<circle cx="341.9" cy="116.3"/>
<circle cx="365.4" cy="92.5"/>
</g>
<g class="b">
<circle cx="351.3" cy="104.6"/>
</g>
<g class="r">
<circle cx="367.4" cy="86.3"/>
<circle cx="333.7" cy="100.6"/>
</g>
<g class="b">
<circle cx="256.2" cy="100.1"/>
</g>
<g class="r">
<circle cx="265.2" cy="79.9"/>
</g>
<g class="b">
<circle cx="337.4" cy="116.7"/>
</g>
<g class="r">
<circle cx="270.5" cy="110.3"/>
</g>
<g class="b">
<circle cx="362.5" cy="96.4"/>
<circle cx="247.1" cy="112.2"/>
</g>
<g class="r">
<circle cx="203" cy="82.8"/>
<circle cx="244.7" cy="104.2"/>
</g>
<g class="b">
<circle cx="255.2" cy="111.6"/>
<circle cx="349.4" cy="95.4"/>
<circle cx="264" cy="109.8"/>
</g>
<g class="r">
<circle cx="379.3" cy="80.5"/>
<circle cx="308.8" cy="111"/>
<circle cx="261.2" cy="85.4"/>
<circle cx="214.5" cy="107.6"/>
</g>
<g class="b">
<circle cx="336.8" cy="86.3"/>
</g>
<g class="r">
<circle cx="249.4" cy="84.3"/>
</g>
<g class="b">
<circle cx="350.1" cy="99.9"/>
</g>
<g class="r">
<circle cx="244.4" cy="94.6"/>
<circle cx="255.6" cy="84.7"/>
</g>
<g class="b">
<circle cx="249.9" cy="78"/>
</g>
<g class="r">
<circle cx="260.2" cy="114.3"/>
</g>
<g class="b">
<circle cx="369.1" cy="78.6"/>
<circle cx="350.2" cy="109"/>
<circle cx="336.1" cy="93.6"/>
</g>
<g class="r">
<circle cx="254.2" cy="94.9"/>
<circle cx="373" cy="81.1"/>
<circle cx="334.5" cy="118.1"/>
<circle cx="207" cy="86.6"/>
<circle cx="354.1" cy="94.6"/>
<circle cx="370.6" cy="105.6"/>
<circle cx="269.2" cy="106.9"/>
<circle cx="347.1" cy="96.8"/>
<circle cx="338.4" cy="115.4"/>
<circle cx="364.7" cy="78.3"/>
</g>
<g class="b">
<circle cx="270.5" cy="116.6"/>
<circle cx="347.4" cy="95.5"/>
</g>
<g class="r">
<circle cx="361.8" cy="98"/>
</g>
<g class="b">
<circle cx="347.3" cy="78.1"/>
</g>
<g class="r">
<circle cx="263.3" cy="98.9"/>
</g>
<g class="b">
<circle cx="355.5" cy="97.6"/>
</g>
<g class="r">
<circle cx="366.4" cy="93.3"/>
<circle cx="228.6" cy="87.9"/>
<circle cx="375" cy="80.3"/>
<circle cx="282.3" cy="83.4"/>
</g>
<g class="b">
<circle cx="240.5" cy="104"/>
<circle cx="268.6" cy="81.8"/>
<circle cx="257.4" cy="106.5"/>
<circle cx="257" cy="96.1"/>
</g>
<g class="r">
<circle cx="361.3" cy="82.2"/>
</g>
<g class="b">
<circle cx="355.4" cy="112.4"/>
<circle cx="360.8" cy="106.4"/>
</g>
<g class="r">
<circle cx="339.8" cy="80.1"/>
</g>
<g class="b">
<circle cx="354.5" cy="108.6"/>
</g>
<g class="r">
<circle cx="356.3" cy="101"/>
</g>
<g class="b">
<circle cx="336.1" cy="87.9"/>
</g>
<g class="r">
<circle cx="310" cy="116.1"/>
</g>
<g class="b">
<circle cx="260.2" cy="108.8"/>
</g>
<g class="r">
<circle cx="257.2" cy="92.5"/>
</g>
<g class="b">
<circle cx="344.4" cy="99.9"/>
</g>
<g class="r">
<circle cx="355.5" cy="94.7"/>
</g>
<g class="b">
<circle cx="253.5" cy="95.3"/>
</g>
<g class="r">
<circle cx="308.9" cy="89.6"/>
<circle cx="336" cy="98.9"/>
<circle cx="216.5" cy="86.1"/>
</g>
<g class="b">
<circle cx="254.9" cy="105.7"/>
</g>
<g class="r">
<circle cx="343.3" cy="83.3"/>
<circle cx="326.4" cy="103.9"/>
</g>
<g class="b">
<circle cx="337.4" cy="112.3"/>
</g>
<g class="r">
<circle cx="255.5" cy="113.8"/>
<circle cx="254.6" cy="117.7"/>
</g>
<g class="b">
<circle cx="359.9" cy="85.7"/>
<circle cx="365.8" cy="88.1"/>
</g>
<g class="r">
<circle cx="357.4" cy="98.7"/>
</g>
<g class="b">
<circle cx="232.7" cy="99.3"/>
</g>
<g class="r">
<circle cx="361.7" cy="82.8"/>
</g>
<g class="b">
<circle cx="268.2" cy="91.5"/>
<circle cx="354.6" cy="87"/>
</g>
<g class="r">
<circle cx="346.4" cy="85.6"/>
</g>
<g class="b">
<circle cx="271.9" cy="113.5"/>
</g>
<g class="r">
<circle cx="352.1" cy="93.9"/>
<circle cx="225.8" cy="106.5"/>
<circle cx="270.9" cy="99.3"/>
</g>
<g class="b">
<circle cx="266.3" cy="97.5"/>
</g>
<g class="r">
<circle cx="249.7" cy="81.4"/>
<circle cx="378.1" cy="96.5"/>
<circle cx="330.9" cy="119.6"/>
<circle cx="247.2" cy="83.6"/>
</g>
<g class="b">
<circle cx="345" cy="93.5"/>
</g>
<g class="r">
<circle cx="345.3" cy="83.5"/>
<circle cx="262.4" cy="98.1"/>
<circle cx="272" cy="92.3"/>
<circle cx="285.7" cy="84.2"/>
<circle cx="345.8" cy="88.4"/>
<circle cx="335" cy="78.1"/>
<circle cx="334.5" cy="80.2"/>
<circle cx="352.8" cy="83.5"/>
<circle cx="267.3" cy="100.4"/>
</g>
<g class="b">
<circle cx="353.4" cy="104.9"/>
</g>
<g class="r">
<circle cx="266.4" cy="115.9"/>
<circle cx="257" cy="119"/>
<circle cx="290" cy="112.8"/>
</g>
<g class="b">
<circle cx="255.3" cy="110.3"/>
<circle cx="254.6" cy="104.5"/>
</g>
<g class="r">
<circle cx="368.5" cy="85"/>
<circle cx="357.8" cy="84.2"/>
<circle cx="270.9" cy="83.3"/>
<circle cx="339.6" cy="97.5"/>
<circle cx="365" cy="109"/>
<circle cx="360.5" cy="110"/>
<circle cx="339.9" cy="98.6"/>
<circle cx="209.4" cy="91.3"/>
</g>
<g class="b">
<circle cx="241.8" cy="90.8"/>
</g>
<g class="r">
<circle cx="270.1" cy="111.1"/>
<circle cx="274" cy="79.3"/>
<circle cx="261.3" cy="100.8"/>
<circle cx="357.7" cy="120.1"/>
<circle cx="213.8" cy="95.9"/>
</g>
<g class="b">
<circle cx="351.4" cy="108.8"/>
<circle cx="249.3" cy="110.1"/>
</g>
<g class="r">
<circle cx="258.3" cy="108.4"/>
<circle cx="371.3" cy="100.5"/>
<circle cx="253.8" cy="117.3"/>
</g>
<g class="b">
<circle cx="271.7" cy="80.1"/>
<circle cx="230.5" cy="98.4"/>
</g>
<g class="r">
<circle cx="211.5" cy="107"/>
<circle cx="361.4" cy="114.2"/>
</g>
<g class="b">
<circle cx="350.6" cy="78.9"/>
</g>
<g class="r">
<circle cx="255.7" cy="105.5"/>
<circle cx="336.4" cy="103.1"/>
<circle cx="357.2" cy="97.7"/>
<circle cx="272.3" cy="117.4"/>
<circle cx="382" cy="105.1"/>
<circle cx="336.8" cy="104.2"/>
</g>
<g class="b">
<circle cx="266.9" cy="95.7"/>
<circle cx="334.1" cy="115.9"/>
</g>
<g class="r">
<circle cx="236.3" cy="93.7"/>
<circle cx="247.3" cy="84.7"/>
<circle cx="218.6" cy="94.8"/>
</g>
<g class="b">
<circle cx="260.7" cy="88.8"/>
<circle cx="362.2" cy="107.3"/>
</g>
<g class="r">
<circle cx="212.8" cy="103.1"/>
<circle cx="233.9" cy="118.1"/>
</g>
<g class="b">
<circle cx="360.5" cy="111.8"/>
<circle cx="247.3" cy="107.9"/>
</g>
<g class="r">
<circle cx="366.8" cy="118.3"/>
</g>
<g class="b">
<circle cx="249.1" cy="102.5"/>
</g>
<g class="r">
<circle cx="243.4" cy="119.3"/>
</g>
<g class="b">
<circle cx="338.1" cy="102.6"/>
<circle cx="345.3" cy="117.7"/>
<circle cx="340.1" cy="95.4"/>
</g>
<g class="r">
<circle cx="353.9" cy="95.1"/>
</g>
<g class="b">
<circle cx="246.8" cy="80.6"/>
<circle cx="348.8" cy="115.6"/>
<circle cx="356.8" cy="84.9"/>
<circle cx="354.2" cy="83.5"/>
</g>
<g class="r">
<circle cx="246.7" cy="118.3"/>
</g>
<g class="b">
<circle cx="335.5" cy="86.9"/>
<circle cx="250" cy="107.9"/>
</g>
<g class="r">
<circle cx="261" cy="102.6"/>
<circle cx="362.8" cy="116.6"/>
</g>
<g class="b">
<circle cx="245.4" cy="102.4"/>
</g>
<g class="r">
<circle cx="217.1" cy="82.6"/>
<circle cx="350.4" cy="118.1"/>
<circle cx="273.9" cy="86.7"/>
<circle cx="258.2" cy="118.8"/>
</g>
<g class="b">
<circle cx="348.9" cy="108.5"/>
</g>
<g class="r">
<circle cx="363.1" cy="79.7"/>
<circle cx="259.1" cy="116.9"/>
<circle cx="383.3" cy="115.2"/>
<circle cx="274.6" cy="118.9"/>
</g>
<g class="b">
<circle cx="361.3" cy="90.4"/>
</g>
<g class="r">
<circle cx="301.6" cy="115"/>
</g>
<g class="b">
<circle cx="266.9" cy="101.8"/>
</g>
<g class="r">
<circle cx="262.5" cy="82.5"/>
</g>
<g class="b">
<circle cx="353" cy="100.5"/>
<circle cx="353.4" cy="81"/>
<circle cx="337.4" cy="114.1"/>
<circle cx="245.4" cy="107.9"/>
</g>
<g class="r">
<circle cx="362.3" cy="114.2"/>
<circle cx="266.5" cy="111.9"/>
<circle cx="359.2" cy="116"/>
</g>
<g class="b">
<circle cx="265.3" cy="90.8"/>
</g>
<g class="r">
<circle cx="337.6" cy="79.9"/>
<circle cx="270.1" cy="87.1"/>
</g>
<g class="b">
<circle cx="251.5" cy="96.9"/>
<circle cx="241.5" cy="82.9"/>
</g>
<g class="r">
<circle cx="282.1" cy="104.9"/>
<circle cx="277.8" cy="99"/>
<circle cx="233.2" cy="92.2"/>
<circle cx="276.2" cy="96.6"/>
</g>
<g class="b">
<circle cx="260.9" cy="81.5"/>
</g>
<g class="r">
<circle cx="363.1" cy="106.5"/>
<circle cx="226" cy="87.6"/>
<circle cx="247.9" cy="104.1"/>
</g>
<g class="b">
<circle cx="260.8" cy="93.9"/>
<circle cx="253.2" cy="93.6"/>
</g>
<g class="r">
<circle cx="253" cy="108.7"/>
</g>
<g class="b">
<circle cx="260.2" cy="118.8"/>
</g>
<g class="r">
<circle cx="350.1" cy="103.5"/>
<circle cx="252.5" cy="112.5"/>
<circle cx="337" cy="97.9"/>
<circle cx="253.6" cy="98.4"/>
</g>
<g class="b">
<circle cx="333.4" cy="108.5"/>
<circle cx="351.5" cy="85.1"/>
</g>
<g class="r">
<circle cx="210.1" cy="108.6"/>
<circle cx="339.3" cy="92.7"/>
</g>
<g class="b">
<circle cx="259.6" cy="79.1"/>
<circle cx="353.9" cy="113.5"/>
</g>
<g class="r">
<circle cx="310.1" cy="107.2"/>
</g>
<g class="b">
<circle cx="282.5" cy="103.3"/>
<circle cx="348.3" cy="85.8"/>
<circle cx="249.3" cy="98"/>
</g>
<g class="r">
<circle cx="253.2" cy="105.7"/>
<circle cx="356.9" cy="81.4"/>
</g>
<g class="b">
<circle cx="268.9" cy="93.9"/>
</g>
<g class="r">
<circle cx="332.5" cy="81.2"/>
<circle cx="266.6" cy="107"/>
<circle cx="262.6" cy="100.2"/>
<circle cx="269" cy="101.9"/>
</g>
<g class="b">
<circle cx="342.3" cy="115.3"/>
<circle cx="354.9" cy="111.9"/>
</g>
<g class="r">
<circle cx="366" cy="105"/>
<circle cx="320.5" cy="116.3"/>
</g>
<g class="b">
<circle cx="349.8" cy="83.7"/>
</g>
<g class="r">
<circle cx="343.6" cy="108.4"/>
<circle cx="292.9" cy="110.7"/>
<circle cx="360.3" cy="89.3"/>
<circle cx="244.1" cy="118.7"/>
<circle cx="256.9" cy="78.3"/>
<circle cx="269.1" cy="118.1"/>
<circle cx="362.2" cy="110.3"/>
<circle cx="339.3" cy="106.3"/>
<circle cx="354.3" cy="91.2"/>
<circle cx="247.9" cy="117.7"/>
<circle cx="305.3" cy="109.7"/>
</g>
<g class="b">
<circle cx="357.6" cy="111.2"/>
<circle cx="345.8" cy="85.1"/>
<circle cx="353.3" cy="99.3"/>
<circle cx="343.1" cy="117.6"/>
<circle cx="255" cy="102.8"/>
</g>
<g class="r">
<circle cx="283.1" cy="117.3"/>
<circle cx="295.8" cy="92.5"/>
</g>
<g class="b">
<circle cx="363.5" cy="104.5"/>
</g>
<g class="r">
<circle cx="252.4" cy="115.5"/>
<circle cx="249.7" cy="86"/>
<circle cx="380.9" cy="92"/>
<circle cx="278.6" cy="112.3"/>
<circle cx="333.7" cy="104.5"/>
<circle cx="327.7" cy="115.8"/>
</g>
<g class="b">
<circle cx="348.6" cy="82.3"/>
<circle cx="346" cy="87.7"/>
<circle cx="345.8" cy="113.5"/>
</g>
<g class="r">
<circle cx="345" cy="107.4"/>
</g>
<g class="b">
<circle cx="260.6" cy="84.4"/>
<circle cx="343.4" cy="90"/>
<circle cx="358.4" cy="92.4"/>
</g>
<g class="r">
<circle cx="254.6" cy="81.3"/>
</g>
<g class="b">
<circle cx="350.8" cy="101"/>
</g>
<g class="r">
<circle cx="348.2" cy="92.1"/>
<circle cx="265.9" cy="96.5"/>
<circle cx="331.2" cy="112.6"/>
<circle cx="349.7" cy="95.1"/>
<circle cx="243.2" cy="110.9"/>
<circle cx="337" cy="108.3"/>
</g>
<g class="b">
<circle cx="269.5" cy="101.3"/>
</g>
<g class="r">
<circle cx="306.1" cy="81.6"/>
</g>
<g class="b">
<circle cx="257.3" cy="84.9"/>
</g>
<g class="r">
<circle cx="345.7" cy="109.9"/>
<circle cx="271.2" cy="82.1"/>
<circle cx="292.5" cy="112.1"/>
<circle cx="245.8" cy="91.5"/>
</g>
<g class="b">
<circle cx="262.7" cy="104.5"/>
</g>
<g class="r">
<circle cx="252.2" cy="91"/>
<circle cx="343.3" cy="89.2"/>
</g>
<g class="b">
<circle cx="253.4" cy="103.2"/>
</g>
<g class="r">
<circle cx="265.4" cy="104.7"/>
</g>
<g class="b">
<circle cx="272.5" cy="77.6"/>
<circle cx="224.2" cy="102"/>
</g>
<g class="r">
<circle cx="337.8" cy="105.4"/>
</g>
<g class="b">
<circle cx="254" cy="77.3"/>
</g>
<g class="r">
<circle cx="342" cy="102"/>
<circle cx="336.2" cy="94.7"/>
<circle cx="282" cy="102.3"/>
</g>
<g class="b">
<circle cx="259.7" cy="86.1"/>
<circle cx="354.8" cy="78.7"/>
</g>
<g class="r">
<circle cx="337.5" cy="104.8"/>
<circle cx="282.3" cy="100.7"/>
<circle cx="350.9" cy="111.7"/>
<circle cx="334" cy="85.4"/>
</g>
<g class="b">
<circle cx="336" cy="116.8"/>
</g>
<g class="r">
<circle cx="305.2" cy="110.3"/>
<circle cx="337" cy="84.8"/>
<circle cx="267.5" cy="104.1"/>
<circle cx="371.8" cy="108.5"/>
<circle cx="264.5" cy="78"/>
<circle cx="259.7" cy="89.6"/>
</g>
<g class="b">
<circle cx="358.2" cy="103.1"/>
</g>
<g class="r">
<circle cx="256.2" cy="103.2"/>
<circle cx="246.9" cy="119.6"/>
</g>
<g class="b">
<circle cx="264.7" cy="114.7"/>
</g>
<g class="r">
<circle cx="246.8" cy="113.5"/>
</g>
<g class="b">
<circle cx="252" cy="105.9"/>
</g>
<g class="r">
<circle cx="211" cy="81.1"/>
<circle cx="357.5" cy="114.3"/>
</g>
<g class="b">
<circle cx="353.4" cy="98.1"/>
</g>
<g class="r">
<circle cx="243.9" cy="89.1"/>
</g>
<g class="b">
<circle cx="261" cy="88.6"/>
</g>
<g class="r">
<circle cx="346.1" cy="119.8"/>
</g>
<g class="b">
<circle cx="357.7" cy="88.9"/>
<circle cx="353" cy="80.7"/>
<circle cx="245" cy="112.6"/>
</g>
<g class="r">
<circle cx="356.9" cy="87.3"/>
</g>
<g class="b">
<circle cx="241.9" cy="79.1"/>
<circle cx="266.7" cy="118.6"/>
<circle cx="253.9" cy="81.4"/>
</g>
<g class="r">
<circle cx="369.6" cy="92.8"/>
<circle cx="387.1" cy="115.3"/>
</g>
<g class="b">
<circle cx="360.5" cy="100.5"/>
</g>
<g class="r">
<circle cx="257.9" cy="97.9"/>
</g>
<g class="b">
<circle cx="253" cy="100.4"/>
</g>
<g class="r">
<circle cx="344.3" cy="77.6"/>
<circle cx="358.3" cy="78.7"/>
</g>
<g class="b">
<circle cx="342.2" cy="77.6"/>
</g>
<g class="r">
<circle cx="339.2" cy="117.4"/>
<circle cx="331" cy="111.1"/>
</g>
<g class="b">
<circle cx="346.8" cy="81.6"/>
</g>
<g class="r">
<circle cx="336.1" cy="111.6"/>
<circle cx="362" cy="85"/>
</g>
<g class="b">
<circle cx="339.3" cy="82.4"/>
</g>
<g class="r">
<circle cx="251.2" cy="118.8"/>
<circle cx="331.4" cy="98"/>
</g>
<g class="b">
<circle cx="265.3" cy="118.5"/>
</g>
<g class="r">
<circle cx="333.1" cy="112.1"/>
<circle cx="278.6" cy="114.8"/>
<circle cx="258.2" cy="96.4"/>
<circle cx="317.1" cy="109.5"/>
<circle cx="256.4" cy="107.1"/>
<circle cx="263" cy="86.1"/>
<circle cx="289.4" cy="114.2"/>
<circle cx="243.9" cy="116.4"/>
<circle cx="251.9" cy="87.7"/>
</g>
<g class="b">
<circle cx="340.3" cy="107.6"/>
<circle cx="362.7" cy="90.2"/>
<circle cx="314.7" cy="93.2"/>
</g>
<g class="r">
<circle cx="272.3" cy="115.3"/>
</g>
<g class="b">
<circle cx="362.8" cy="117.9"/>
<circle cx="345.9" cy="77.7"/>
<circle cx="339.5" cy="78.1"/>
<circle cx="342" cy="107.3"/>
</g>
<g class="r">
<circle cx="334" cy="112.9"/>
<circle cx="268.6" cy="98.1"/>
<circle cx="343.4" cy="102.4"/>
</g>
<g class="b">
<circle cx="256" cy="114.6"/>
</g>
<g class="r">
<circle cx="320.9" cy="93.3"/>
<circle cx="353.8" cy="89.2"/>
<circle cx="341.4" cy="120"/>
</g>
<g class="b">
<circle cx="343.6" cy="115.3"/>
</g>
<g class="r">
<circle cx="349.4" cy="113.5"/>
<circle cx="217.4" cy="92.9"/>
<circle cx="278.9" cy="113"/>
<circle cx="264.9" cy="113.1"/>
</g>
<g class="b">
<circle cx="364.9" cy="115.1"/>
</g>
<g class="r">
<circle cx="265.4" cy="82"/>
</g>
<g class="b">
<circle cx="364.9" cy="92.3"/>
<circle cx="211.7" cy="90.1"/>
</g>
<g class="r">
<circle cx="344.1" cy="109.7"/>
<circle cx="359.1" cy="91.2"/>
<circle cx="273.9" cy="110.4"/>
<circle cx="253.4" cy="84.9"/>
</g>
<g class="b">
<circle cx="243.9" cy="109.9"/>
<circle cx="252.2" cy="111.4"/>
<circle cx="352" cy="78.7"/>
<circle cx="347.7" cy="101.9"/>
<circle cx="338" cy="98.2"/>
<circle cx="267.8" cy="80.5"/>
<circle cx="339.2" cy="111.6"/>
</g>
<g class="r">
<circle cx="238.7" cy="78.1"/>
<circle cx="367.2" cy="84.9"/>
<circle cx="248.7" cy="90.4"/>
</g>
<g class="b">
<circle cx="265.7" cy="82.8"/>
</g>
<g class="r">
<circle cx="360" cy="119.6"/>
</g>
<g class="b">
<circle cx="251.5" cy="108.5"/>
</g>
<g class="r">
<circle cx="335.7" cy="107.7"/>
<circle cx="365.8" cy="114.4"/>
</g>
<g class="b">
<circle cx="358.4" cy="101.6"/>
</g>
<g class="r">
<circle cx="221.3" cy="109.2"/>
<circle cx="346.2" cy="110.4"/>
<circle cx="350.6" cy="79.3"/>
<circle cx="252.2" cy="89"/>
<circle cx="333.1" cy="90.5"/>
</g>
<g class="b">
<circle cx="269.2" cy="104.6"/>
<circle cx="346.8" cy="88.4"/>
</g>
<g class="r">
<circle cx="360.2" cy="108.6"/>
<circle cx="331.9" cy="86.2"/>
<circle cx="350.7" cy="102.4"/>
</g>
<g class="b">
<circle cx="339.7" cy="109.5"/>
</g>
<g class="r">
<circle cx="381.8" cy="97.5"/>
<circle cx="248.4" cy="96.2"/>
</g>
<g class="b">
<circle cx="243.7" cy="79.9"/>
<circle cx="246.5" cy="116.5"/>
<circle cx="332.1" cy="77.5"/>
<circle cx="352.5" cy="113.7"/>
<circle cx="352.6" cy="119.2"/>
</g>
<g class="r">
<circle cx="266.4" cy="93.4"/>
<circle cx="351.1" cy="85.1"/>
</g>
<g class="b">
<circle cx="263.4" cy="94.9"/>
<circle cx="350.1" cy="98.2"/>
</g>
<g class="r">
<circle cx="338.1" cy="95.2"/>
<circle cx="354" cy="101.9"/>
</g>
<g class="b">
<circle cx="357.4" cy="90.4"/>
<circle cx="342.5" cy="113.6"/>
</g>
<g class="r">
<circle cx="257.3" cy="80.6"/>
<circle cx="244.2" cy="78.8"/>
</g>
<g class="b">
<circle cx="259.6" cy="107.2"/>
<circle cx="259.8" cy="99.6"/>
</g>
<g class="r">
<circle cx="265.4" cy="93.8"/>
<circle cx="284.7" cy="101.2"/>
</g>
<g class="b">
<circle cx="349.6" cy="83.7"/>
</g>
<g class="r">
<circle cx="362.1" cy="103.8"/>
<circle cx="243.3" cy="84"/>
</g>
<g class="b">
<circle cx="354" cy="84.3"/>
</g>
<g class="r">
<circle cx="362.9" cy="89.1"/>
</g>
<g class="b">
<circle cx="269.1" cy="86.6"/>
</g>
<g class="r">
<circle cx="334.6" cy="82.1"/>
<circle cx="357.1" cy="95.3"/>
<circle cx="248.2" cy="116"/>
<circle cx="251.6" cy="85.8"/>
<circle cx="364.7" cy="118.2"/>
<circle cx="346.9" cy="87.1"/>
<circle cx="314.5" cy="101.4"/>
</g>
</g>
<rect x="415.5" y="20.1" width="255.4" height="21.2" fill="#fff" stroke="#444" stroke-width="1"/>
<clipPath id="cc1"><rect x="415" y="18.5" width="256.4" height="24.4"/></clipPath>
<g clip-path="url(#cc1)" id="cc1g">
<rect x="515" y="20.1" width="41" height="21.2" fill="#000030"/>
<g class="bd">
<circle cx="556.1" cy="37"/>
<circle cx="543.5" cy="28.3"/>
<circle cx="556.2" cy="26.4"/>
<circle cx="526.7" cy="38"/>
<circle cx="532.1" cy="36.5"/>
</g>
<g class="b">
<circle cx="629.7" cy="38.2"/>
</g>
<g class="bd">
<circle cx="522.3" cy="33"/>
<circle cx="533.3" cy="36.8"/>
<circle cx="541.4" cy="40.9"/>
<circle cx="541.9" cy="31.2"/>
<circle cx="516.7" cy="31.6"/>
<circle cx="538.1" cy="25.6"/>
<circle cx="524.2" cy="22.6"/>
<circle cx="514.2" cy="33"/>
<circle cx="557.9" cy="27.9"/>
<circle cx="561.4" cy="30.7"/>
<circle cx="546.9" cy="36.9"/>
<circle cx="518" cy="27.7"/>
<circle cx="555.3" cy="25.3"/>
<circle cx="535.6" cy="31.6"/>
<circle cx="533.1" cy="34.7"/>
<circle cx="556.6" cy="21.6"/>
<circle cx="519.3" cy="38"/>
<circle cx="536.4" cy="28.3"/>
<circle cx="542.9" cy="28.5"/>
<circle cx="539" cy="25.9"/>
<circle cx="515.8" cy="41.2"/>
<circle cx="535.5" cy="22.9"/>
<circle cx="558.5" cy="31.5"/>
<circle cx="517.1" cy="36.4"/>
<circle cx="549.6" cy="35.6"/>
<circle cx="517.8" cy="37.4"/>
<circle cx="517.8" cy="32.9"/>
<circle cx="537.4" cy="30"/>
<circle cx="537.2" cy="20.4"/>
<circle cx="529" cy="31.4"/>
<circle cx="522" cy="27.8"/>
<circle cx="518.9" cy="36.2"/>
<circle cx="522.5" cy="19.7"/>
<circle cx="538.7" cy="39.6"/>
</g>
<g class="b">
<circle cx="443.1" cy="38"/>
</g>
<g class="bd">
<circle cx="541" cy="27.9"/>
<circle cx="521.9" cy="30.4"/>
<circle cx="530.2" cy="38.5"/>
<circle cx="550.8" cy="24.2"/>
<circle cx="559.7" cy="27.7"/>
<circle cx="545.5" cy="33.4"/>
</g>
<g class="b">
<circle cx="599.1" cy="21.8"/>
</g>
<g class="bd">
<circle cx="542.4" cy="35.4"/>
<circle cx="548" cy="25.8"/>
<circle cx="541.3" cy="39.1"/>
<circle cx="517.9" cy="32"/>
<circle cx="519.5" cy="41.1"/>
<circle cx="523.8" cy="41.4"/>
<circle cx="524.8" cy="24.6"/>
<circle cx="519.2" cy="39.1"/>
<circle cx="541.1" cy="29.6"/>
<circle cx="523.1" cy="35.4"/>
<circle cx="536.1" cy="32.9"/>
<circle cx="518.2" cy="25.6"/>
<circle cx="535.4" cy="38"/>
<circle cx="533.2" cy="37.9"/>
<circle cx="555.5" cy="36.5"/>
<circle cx="517.1" cy="23.2"/>
<circle cx="527.2" cy="28.2"/>
<circle cx="513.7" cy="35.3"/>
<circle cx="547.2" cy="22.5"/>
<circle cx="557.1" cy="38.4"/>
<circle cx="548.1" cy="36.1"/>
<circle cx="514.4" cy="36.5"/>
<circle cx="537.2" cy="39"/>
<circle cx="529.8" cy="21.9"/>
<circle cx="546.7" cy="19.6"/>
<circle cx="530.2" cy="24.5"/>
<circle cx="538.9" cy="33.8"/>
<circle cx="547.5" cy="32.7"/>
</g>
<g class="b">
<circle cx="434.9" cy="40.2"/>
</g>
<g class="bd">
<circle cx="552.8" cy="32.3"/>
<circle cx="553.9" cy="38.5"/>
<circle cx="521" cy="23.7"/>
<circle cx="516.8" cy="19.7"/>
<circle cx="550.6" cy="32.5"/>
<circle cx="529.9" cy="41.4"/>
<circle cx="558.6" cy="33.7"/>
<circle cx="552.4" cy="29.8"/>
<circle cx="543.3" cy="40.9"/>
<circle cx="526.5" cy="23.6"/>
<circle cx="549.8" cy="22.9"/>
<circle cx="515.2" cy="27.4"/>
<circle cx="544.5" cy="35.1"/>
<circle cx="536.1" cy="40"/>
<circle cx="553.7" cy="30.1"/>
<circle cx="514.1" cy="39"/>
<circle cx="551.9" cy="22.5"/>
<circle cx="533.6" cy="27.6"/>
<circle cx="516.4" cy="22.4"/>
<circle cx="541" cy="32.3"/>
<circle cx="515.7" cy="23.8"/>
<circle cx="529.8" cy="20.6"/>
<circle cx="525.9" cy="30"/>
<circle cx="531.7" cy="38.2"/>
<circle cx="512.9" cy="21.1"/>
<circle cx="525.5" cy="20"/>
<circle cx="547.8" cy="31.6"/>
<circle cx="516.4" cy="38.1"/>
<circle cx="522.6" cy="38.5"/>
<circle cx="545.5" cy="26.1"/>
<circle cx="517.8" cy="24.9"/>
<circle cx="532.8" cy="30.7"/>
<circle cx="539.2" cy="36.6"/>
<circle cx="546.3" cy="22.1"/>
</g>
<g class="b">
<circle cx="451.6" cy="26.9"/>
</g>
<g class="bd">
<circle cx="515.5" cy="35.3"/>
<circle cx="552" cy="24.2"/>
<circle cx="534.5" cy="24.4"/>
<circle cx="544.3" cy="38.2"/>
<circle cx="534.7" cy="24"/>
<circle cx="552.5" cy="34.2"/>
<circle cx="518.8" cy="28.9"/>
<circle cx="533.1" cy="40"/>
<circle cx="533.3" cy="28.9"/>
<circle cx="528" cy="24.9"/>
<circle cx="538.4" cy="23.4"/>
<circle cx="539.7" cy="29"/>
</g>
<g class="b">
<circle cx="606.8" cy="37.9"/>
</g>
<g class="bd">
<circle cx="534.3" cy="28.7"/>
<circle cx="548.8" cy="40.7"/>
<circle cx="542.3" cy="38.8"/>
<circle cx="547.7" cy="35.6"/>
<circle cx="555.6" cy="37.2"/>
<circle cx="552.3" cy="31.5"/>
<circle cx="544.4" cy="21"/>
<circle cx="533.6" cy="25.7"/>
<circle cx="549.8" cy="27.1"/>
<circle cx="554.9" cy="40.8"/>
<circle cx="541.6" cy="34.9"/>
<circle cx="548.7" cy="41.8"/>
<circle cx="523.2" cy="20"/>
<circle cx="532.2" cy="29.5"/>
<circle cx="521.4" cy="35.6"/>
<circle cx="515.5" cy="31.5"/>
<circle cx="523.7" cy="37.4"/>
<circle cx="514.8" cy="26.2"/>
<circle cx="556.7" cy="33.5"/>
<circle cx="535.1" cy="34.1"/>
<circle cx="514.3" cy="29.8"/>
<circle cx="521" cy="28.4"/>
<circle cx="530.5" cy="41.1"/>
<circle cx="513" cy="30.5"/>
<circle cx="548.7" cy="22.8"/>
<circle cx="539.4" cy="20.1"/>
<circle cx="538.2" cy="29.8"/>
<circle cx="515.7" cy="37.6"/>
<circle cx="524.6" cy="29.1"/>
<circle cx="545.9" cy="31.7"/>
<circle cx="514.3" cy="40.6"/>
<circle cx="522.7" cy="28.9"/>
</g>
<g class="b">
<circle cx="581.8" cy="29.6"/>
</g>
<g class="bd">
<circle cx="515.4" cy="28.8"/>
<circle cx="515.8" cy="40"/>
<circle cx="547.1" cy="28.3"/>
<circle cx="532.7" cy="26.6"/>
<circle cx="535.8" cy="27.5"/>
<circle cx="531.6" cy="26.2"/>
<circle cx="513.4" cy="24.2"/>
<circle cx="521.5" cy="25.9"/>
<circle cx="551.2" cy="37.5"/>
<circle cx="551.9" cy="36.1"/>
<circle cx="545.4" cy="26.7"/>
<circle cx="531.2" cy="26.6"/>
<circle cx="531.2" cy="36.9"/>
</g>
<g class="b">
<circle cx="430.2" cy="20.2"/>
</g>
<g class="bd">
<circle cx="537.3" cy="34.4"/>
<circle cx="539.4" cy="40.1"/>
<circle cx="541.7" cy="23.4"/>
<circle cx="523.9" cy="36.4"/>
<circle cx="544" cy="24.4"/>
<circle cx="554.3" cy="25.5"/>
<circle cx="546.3" cy="32.9"/>
<circle cx="555.3" cy="38"/>
<circle cx="549.1" cy="23.5"/>
</g>
<g class="b">
<circle cx="482.7" cy="27.6"/>
</g>
<g class="bd">
<circle cx="516.3" cy="25"/>
<circle cx="534.8" cy="26.3"/>
</g>
<g class="b">
<circle cx="447.8" cy="36.9"/>
</g>
<g class="bd">
<circle cx="534.4" cy="21.3"/>
<circle cx="541.6" cy="26.7"/>
<circle cx="524.1" cy="32.7"/>
<circle cx="542.9" cy="29.8"/>
<circle cx="518.5" cy="27.9"/>
<circle cx="516.1" cy="27.7"/>
<circle cx="556.3" cy="35.7"/>
<circle cx="521.9" cy="39.9"/>
<circle cx="514.7" cy="24.9"/>
<circle cx="554.8" cy="31.8"/>
<circle cx="516" cy="41.2"/>
<circle cx="535.1" cy="40"/>
<circle cx="524.6" cy="21.3"/>
<circle cx="555.7" cy="24.3"/>
</g>
<g class="b">
<circle cx="669.9" cy="36.7"/>
</g>
<g class="bd">
<circle cx="537.3" cy="36"/>
<circle cx="551.2" cy="38.7"/>
<circle cx="554" cy="34.3"/>
<circle cx="522.2" cy="34"/>
</g>
<g class="b">
<circle cx="470.8" cy="34"/>
</g>
<g class="bd">
<circle cx="531.6" cy="21.1"/>
</g>
<g class="b">
<circle cx="605.1" cy="30.1"/>
</g>
<g class="bd">
<circle cx="549.9" cy="37.4"/>
<circle cx="549.6" cy="30.7"/>
<circle cx="533.6" cy="22.7"/>
<circle cx="525.5" cy="36.2"/>
<circle cx="536" cy="24.8"/>
<circle cx="526.4" cy="40.2"/>
</g>
<g class="b">
<circle cx="591" cy="28.9"/>
</g>
<g class="bd">
<circle cx="556.6" cy="35.4"/>
<circle cx="553.9" cy="31.1"/>
<circle cx="531.7" cy="29.4"/>
<circle cx="521.5" cy="39.6"/>
<circle cx="536" cy="26.4"/>
</g>
<g class="b">
<circle cx="661.3" cy="23.7"/>
</g>
<g class="bd">
<circle cx="526" cy="41"/>
<circle cx="532.2" cy="21.7"/>
<circle cx="545" cy="32"/>
<circle cx="557.5" cy="22.9"/>
<circle cx="530.4" cy="31.7"/>
<circle cx="544.8" cy="38.4"/>
<circle cx="537.7" cy="29.7"/>
<circle cx="528.5" cy="38.2"/>
</g>
<g class="b">
<circle cx="622.1" cy="22.3"/>
</g>
<g class="bd">
<circle cx="550" cy="39.6"/>
<circle cx="542" cy="32.9"/>
<circle cx="550.3" cy="39.5"/>
<circle cx="557.6" cy="41.8"/>
<circle cx="523.7" cy="36.3"/>
<circle cx="545.1" cy="33.3"/>
<circle cx="524.2" cy="39.8"/>
<circle cx="511.8" cy="23.8"/>
<circle cx="541.9" cy="26"/>
<circle cx="553.3" cy="27.6"/>
<circle cx="523" cy="25"/>
<circle cx="531.7" cy="28"/>
<circle cx="541" cy="30.6"/>
<circle cx="522.2" cy="22.2"/>
<circle cx="558.6" cy="39.3"/>
<circle cx="547.6" cy="25"/>
<circle cx="548.9" cy="34.6"/>
<circle cx="514.1" cy="26.4"/>
<circle cx="555.6" cy="27.5"/>
<circle cx="537.1" cy="37.9"/>
<circle cx="543.6" cy="29.9"/>
<circle cx="543.2" cy="31.1"/>
<circle cx="533.1" cy="20.8"/>
<circle cx="527" cy="20.2"/>
<circle cx="524.8" cy="28.3"/>
<circle cx="515" cy="28.5"/>
<circle cx="542.4" cy="25.4"/>
<circle cx="527.5" cy="40.5"/>
<circle cx="529.4" cy="33.2"/>
<circle cx="542" cy="35.8"/>
<circle cx="527.4" cy="29.8"/>
<circle cx="532.2" cy="34.7"/>
<circle cx="547.3" cy="30.2"/>
<circle cx="519" cy="23.1"/>
<circle cx="547.3" cy="28.7"/>
<circle cx="543" cy="40"/>
<circle cx="520.7" cy="33.4"/>
<circle cx="529.2" cy="33.4"/>
<circle cx="527.9" cy="37.7"/>
<circle cx="556.7" cy="27.6"/>
<circle cx="532.2" cy="23"/>
</g>
<g class="b">
<circle cx="481.9" cy="40.2"/>
</g>
<g class="bd">
<circle cx="519.3" cy="35"/>
<circle cx="541" cy="38.5"/>
<circle cx="534.5" cy="27.9"/>
<circle cx="524.3" cy="23.9"/>
</g>
<g class="b">
<circle cx="502.9" cy="24.4"/>
</g>
<g class="bd">
<circle cx="525.1" cy="22.6"/>
<circle cx="543.2" cy="41.7"/>
<circle cx="550.9" cy="34.5"/>
<circle cx="558.8" cy="28.4"/>
<circle cx="527.4" cy="41.6"/>
<circle cx="553.6" cy="27.2"/>
<circle cx="543.2" cy="32.7"/>
<circle cx="513.1" cy="34.4"/>
<circle cx="538.5" cy="40.3"/>
</g>
<g class="b">
<circle cx="650.1" cy="28.4"/>
</g>
<g class="bd">
<circle cx="522.5" cy="36.4"/>
<circle cx="556.7" cy="22.9"/>
<circle cx="553.4" cy="21.2"/>
<circle cx="539.3" cy="37.7"/>
<circle cx="558.3" cy="25.1"/>
<circle cx="520.3" cy="26.4"/>
<circle cx="548.9" cy="27.9"/>
<circle cx="527.1" cy="30.6"/>
<circle cx="527.3" cy="31"/>
<circle cx="522.7" cy="38.2"/>
<circle cx="559.1" cy="35.8"/>
<circle cx="534.7" cy="34.7"/>
<circle cx="527.3" cy="38.2"/>
<circle cx="556" cy="29.4"/>
<circle cx="544.3" cy="36.1"/>
<circle cx="530.3" cy="27.9"/>
<circle cx="523.3" cy="20.7"/>
</g>
<g class="b">
<circle cx="556.5" cy="37.8"/>
<circle cx="554.4" cy="20.2"/>
<circle cx="551.3" cy="34.8"/>
<circle cx="550.9" cy="33.5"/>
<circle cx="535.2" cy="37.2"/>
<circle cx="557.3" cy="20.1"/>
<circle cx="548" cy="23.1"/>
<circle cx="539.8" cy="22.2"/>
<circle cx="528.4" cy="24"/>
<circle cx="545.9" cy="41.4"/>
<circle cx="639.7" cy="29.2"/>
<circle cx="556.1" cy="40.1"/>
<circle cx="547" cy="33.8"/>
<circle cx="524.3" cy="38.1"/>
<circle cx="540.7" cy="25.8"/>
<circle cx="462.7" cy="32.3"/>
<circle cx="553" cy="38.3"/>
<circle cx="530.8" cy="35.2"/>
<circle cx="527.3" cy="29"/>
<circle cx="519.1" cy="31.8"/>
<circle cx="554" cy="39.4"/>
<circle cx="533.9" cy="20.1"/>
<circle cx="580.1" cy="24"/>
<circle cx="532.4" cy="20.1"/>
<circle cx="528.2" cy="27"/>
<circle cx="550.7" cy="31.6"/>
<circle cx="542.1" cy="35.5"/>
<circle cx="552.9" cy="22.1"/>
<circle cx="514.4" cy="38.3"/>
<circle cx="558.9" cy="32.9"/>
<circle cx="554.4" cy="40.1"/>
<circle cx="548.7" cy="28.8"/>
<circle cx="537.9" cy="28.5"/>
<circle cx="551.2" cy="23.5"/>
<circle cx="516.1" cy="25.8"/>
<circle cx="528.1" cy="35.3"/>
<circle cx="526.7" cy="30.9"/>
<circle cx="528.9" cy="35.7"/>
<circle cx="556.1" cy="26"/>
<circle cx="539.2" cy="41.6"/>
<circle cx="543.9" cy="22.3"/>
<circle cx="538.9" cy="28.3"/>
<circle cx="518" cy="41"/>
<circle cx="531.9" cy="24.2"/>
<circle cx="544.6" cy="40.5"/>
<circle cx="528.4" cy="34.4"/>
<circle cx="544.8" cy="28.1"/>
<circle cx="537.7" cy="20.8"/>
<circle cx="516.8" cy="35.8"/>
<circle cx="530.9" cy="20.5"/>
<circle cx="525" cy="33"/>
<circle cx="545.8" cy="27.5"/>
<circle cx="541.2" cy="34"/>
<circle cx="524.1" cy="30.6"/>
<circle cx="583.5" cy="34.1"/>
<circle cx="555.2" cy="28.7"/>
<circle cx="549.2" cy="19.5"/>
<circle cx="531.4" cy="33.9"/>
<circle cx="533" cy="30.2"/>
<circle cx="537.5" cy="29.4"/>
<circle cx="540.9" cy="36.1"/>
<circle cx="525.2" cy="35.4"/>
<circle cx="537.4" cy="32.7"/>
<circle cx="557.2" cy="32.6"/>
<circle cx="539.5" cy="30.6"/>
<circle cx="543.7" cy="23.7"/>
<circle cx="524.7" cy="36.7"/>
<circle cx="533.2" cy="33.1"/>
<circle cx="536.7" cy="20.8"/>
<circle cx="540.2" cy="39.4"/>
<circle cx="530.1" cy="35.5"/>
<circle cx="542.1" cy="24.2"/>
<circle cx="547" cy="34.4"/>
<circle cx="526.5" cy="39.8"/>
<circle cx="522.5" cy="36.7"/>
<circle cx="532.3" cy="40.4"/>
<circle cx="519.6" cy="23.3"/>
<circle cx="512.8" cy="39.9"/>
<circle cx="536.1" cy="20.1"/>
<circle cx="544.8" cy="20.5"/>
<circle cx="535.3" cy="26.2"/>
<circle cx="516.3" cy="37.2"/>
<circle cx="543.9" cy="33.7"/>
<circle cx="559.7" cy="33.6"/>
<circle cx="521.9" cy="41.1"/>
<circle cx="546" cy="23.4"/>
<circle cx="524" cy="19.8"/>
<circle cx="528.6" cy="30.4"/>
<circle cx="549.4" cy="27.7"/>
<circle cx="555.5" cy="22.4"/>
<circle cx="522.3" cy="29"/>
<circle cx="540.2" cy="19.8"/>
<circle cx="525" cy="23.3"/>
<circle cx="534.2" cy="22"/>
<circle cx="538.2" cy="22.3"/>
<circle cx="543.6" cy="20.5"/>
<circle cx="532.3" cy="41.8"/>
<circle cx="562" cy="30.1"/>
<circle cx="556.9" cy="39.8"/>
<circle cx="553.5" cy="28.7"/>
<circle cx="528.8" cy="26.4"/>
<circle cx="519.8" cy="21"/>
<circle cx="552" cy="37.3"/>
<circle cx="547.7" cy="27.5"/>
<circle cx="556.8" cy="33"/>
<circle cx="545.8" cy="38.5"/>
<circle cx="522.8" cy="40.5"/>
<circle cx="540.3" cy="32.1"/>
<circle cx="537.4" cy="40.3"/>
<circle cx="552.5" cy="34.6"/>
<circle cx="545" cy="30.5"/>
<circle cx="538.2" cy="36.1"/>
<circle cx="536.7" cy="23.8"/>
<circle cx="551.6" cy="21.4"/>
<circle cx="547.2" cy="40.9"/>
<circle cx="576.6" cy="35.8"/>
<circle cx="558" cy="26.7"/>
<circle cx="640.9" cy="20.9"/>
<circle cx="522.1" cy="27"/>
<circle cx="444.2" cy="39.7"/>
<circle cx="533.8" cy="41.2"/>
<circle cx="520" cy="22"/>
<circle cx="518.2" cy="34.2"/>
<circle cx="541.5" cy="37.2"/>
<circle cx="525" cy="21.3"/>
<circle cx="537.2" cy="26.6"/>
<circle cx="524.9" cy="31.6"/>
<circle cx="533.9" cy="31.1"/>
<circle cx="528.1" cy="39.7"/>
<circle cx="538.9" cy="34.6"/>
<circle cx="456.8" cy="20.2"/>
<circle cx="535.1" cy="31.9"/>
<circle cx="545" cy="33"/>
<circle cx="557" cy="40.8"/>
<circle cx="560.1" cy="32.4"/>
<circle cx="522.4" cy="31.2"/>
<circle cx="549.4" cy="35.3"/>
<circle cx="544.2" cy="39.1"/>
<circle cx="518.5" cy="40.8"/>
<circle cx="516.1" cy="34.4"/>
<circle cx="557.2" cy="35.5"/>
<circle cx="548.5" cy="26.9"/>
<circle cx="547.9" cy="21.7"/>
<circle cx="542.7" cy="36.7"/>
<circle cx="538.2" cy="26.6"/>
<circle cx="520.2" cy="29.9"/>
<circle cx="547.9" cy="33.2"/>
<circle cx="559.4" cy="29.8"/>
<circle cx="531.3" cy="22"/>
<circle cx="550.4" cy="40.1"/>
<circle cx="513.9" cy="34.1"/>
<circle cx="536.4" cy="31.4"/>
<circle cx="554.6" cy="41.5"/>
<circle cx="533.2" cy="39.9"/>
<circle cx="518.7" cy="30.6"/>
<circle cx="525.4" cy="34.1"/>
<circle cx="552.4" cy="28.8"/>
<circle cx="513.5" cy="31.6"/>
<circle cx="529.6" cy="20.8"/>
<circle cx="513.4" cy="28.1"/>
<circle cx="519.5" cy="34.3"/>
<circle cx="550.5" cy="41.7"/>
<circle cx="539.8" cy="25.2"/>
<circle cx="556.5" cy="23.3"/>
<circle cx="549.2" cy="32.1"/>
<circle cx="518.2" cy="22.1"/>
<circle cx="530.5" cy="37"/>
<circle cx="554.3" cy="33"/>
<circle cx="519.6" cy="36.6"/>
<circle cx="518.4" cy="34.7"/>
<circle cx="524.9" cy="26.2"/>
<circle cx="525.7" cy="36.7"/>
<circle cx="539.6" cy="32.3"/>
<circle cx="536.4" cy="22.7"/>
<circle cx="519.7" cy="24.7"/>
<circle cx="551.8" cy="26.5"/>
<circle cx="453.1" cy="36"/>
<circle cx="513.8" cy="41.6"/>
<circle cx="519.6" cy="36.2"/>
<circle cx="555.1" cy="39.2"/>
<circle cx="534.1" cy="27.4"/>
<circle cx="513.9" cy="25.7"/>
<circle cx="517.9" cy="29.7"/>
<circle cx="555.5" cy="30.5"/>
<circle cx="545.6" cy="36.9"/>
<circle cx="527.4" cy="33.9"/>
<circle cx="528.7" cy="24.1"/>
<circle cx="548.7" cy="20.2"/>
<circle cx="517.5" cy="41.2"/>
<circle cx="513.2" cy="37.9"/>
<circle cx="512.9" cy="27.2"/>
<circle cx="551.8" cy="39.2"/>
<circle cx="637.1" cy="31.5"/>
<circle cx="556.5" cy="41.8"/>
<circle cx="535.8" cy="34"/>
<circle cx="531.8" cy="22.4"/>
<circle cx="531.8" cy="32"/>
<circle cx="516.1" cy="21.2"/>
<circle cx="547" cy="38.4"/>
<circle cx="519.4" cy="31.4"/>
<circle cx="542.4" cy="29.6"/>
<circle cx="522.5" cy="23.5"/>
<circle cx="540.3" cy="26.6"/>
<circle cx="525.9" cy="25.3"/>
<circle cx="526.5" cy="27.3"/>
<circle cx="513.6" cy="20.8"/>
<circle cx="486.3" cy="30.1"/>
<circle cx="558.3" cy="30"/>
<circle cx="552" cy="31.4"/>
<circle cx="491.4" cy="20.7"/>
<circle cx="537.9" cy="33.9"/>
<circle cx="547.8" cy="33.1"/>
<circle cx="536.7" cy="41.6"/>
<circle cx="512.5" cy="37.6"/>
<circle cx="513" cy="29.5"/>
<circle cx="517.7" cy="20.3"/>
<circle cx="549.5" cy="31.8"/>
<circle cx="534.4" cy="38.8"/>
<circle cx="557.7" cy="34"/>
<circle cx="525.1" cy="26.8"/>
<circle cx="548.9" cy="29"/>
<circle cx="520" cy="39.1"/>
<circle cx="550.8" cy="28.2"/>
<circle cx="537.7" cy="31.6"/>
<circle cx="522.6" cy="34.3"/>
<circle cx="527.2" cy="33"/>
<circle cx="561.9" cy="31.8"/>
<circle cx="538" cy="25"/>
<circle cx="430.2" cy="31"/>
<circle cx="518.6" cy="26.6"/>
<circle cx="556.2" cy="25.1"/>
<circle cx="540.6" cy="38.6"/>
<circle cx="558.1" cy="38.3"/>
<circle cx="531.1" cy="29.9"/>
<circle cx="551.4" cy="29.7"/>
<circle cx="539.1" cy="26.7"/>
<circle cx="550.1" cy="19.6"/>
<circle cx="532.8" cy="27.5"/>
<circle cx="511.7" cy="26.8"/>
<circle cx="516" cy="32.4"/>
<circle cx="535" cy="36.9"/>
<circle cx="512.9" cy="23.8"/>
<circle cx="545.5" cy="29.9"/>
<circle cx="529.1" cy="28.6"/>
<circle cx="557.5" cy="35.9"/>
<circle cx="555.4" cy="23"/>
<circle cx="512" cy="27.7"/>
<circle cx="529.5" cy="33.3"/>
<circle cx="520.5" cy="29.6"/>
<circle cx="524.4" cy="40.7"/>
<circle cx="472.6" cy="20.2"/>
<circle cx="542.1" cy="33.7"/>
<circle cx="521.4" cy="20.6"/>
<circle cx="538.3" cy="35.2"/>
<circle cx="513.6" cy="31.9"/>
<circle cx="520.8" cy="32.2"/>
<circle cx="530.8" cy="36"/>
<circle cx="558" cy="29"/>
<circle cx="526.8" cy="24.1"/>
<circle cx="547.2" cy="26.1"/>
<circle cx="527.4" cy="27.8"/>
<circle cx="522.8" cy="30.6"/>
<circle cx="446.8" cy="24.6"/>
<circle cx="543" cy="23.3"/>
<circle cx="522.9" cy="39.8"/>
<circle cx="555.4" cy="21.4"/>
<circle cx="534.4" cy="32.2"/>
<circle cx="528.8" cy="28.1"/>
<circle cx="545" cy="22.3"/>
<circle cx="552.3" cy="19.8"/>
<circle cx="542.3" cy="20.9"/>
<circle cx="514.3" cy="37"/>
<circle cx="557.3" cy="30.1"/>
<circle cx="661.3" cy="31.5"/>
<circle cx="528.4" cy="22"/>
<circle cx="512.7" cy="22.4"/>
<circle cx="518.5" cy="25.2"/>
<circle cx="607.7" cy="36.1"/>
<circle cx="516.2" cy="29.9"/>
<circle cx="541.4" cy="19.8"/>
<circle cx="527.5" cy="26"/>
<circle cx="529.6" cy="29.5"/>
<circle cx="557.9" cy="32"/>
<circle cx="555.6" cy="32.5"/>
<circle cx="534.6" cy="19.7"/>
<circle cx="540.8" cy="40.2"/>
<circle cx="540.8" cy="30.7"/>
<circle cx="516.4" cy="41.4"/>
<circle cx="538.8" cy="20.8"/>
<circle cx="554" cy="36.6"/>
<circle cx="547.5" cy="31.1"/>
<circle cx="544.4" cy="24.7"/>
<circle cx="550.1" cy="25.7"/>
<circle cx="536" cy="21.4"/>
<circle cx="526.7" cy="33.5"/>
<circle cx="548.5" cy="36.9"/>
<circle cx="546.2" cy="21.4"/>
<circle cx="552.4" cy="40.3"/>
<circle cx="556.1" cy="39.3"/>
<circle cx="545.3" cy="35.7"/>
<circle cx="517" cy="39.4"/>
<circle cx="523.8" cy="25.9"/>
<circle cx="551.9" cy="27.5"/>
<circle cx="513.9" cy="24.8"/>
<circle cx="540.4" cy="35"/>
<circle cx="551.7" cy="40.9"/>
<circle cx="520.8" cy="26.6"/>
<circle cx="518.7" cy="38"/>
<circle cx="533.2" cy="33.8"/>
<circle cx="523.6" cy="23.6"/>
<circle cx="558.4" cy="29.6"/>
<circle cx="521.1" cy="30.3"/>
<circle cx="559.8" cy="29.7"/>
<circle cx="550.8" cy="23.5"/>
<circle cx="536.9" cy="24.2"/>
<circle cx="531.4" cy="31.7"/>
<circle cx="557.3" cy="27"/>
<circle cx="515.4" cy="20.4"/>
<circle cx="525.5" cy="39.5"/>
<circle cx="436.9" cy="26.6"/>
<circle cx="539" cy="23"/>
<circle cx="514.8" cy="40.2"/>
<circle cx="529.1" cy="37.4"/>
<circle cx="552.5" cy="39.9"/>
<circle cx="529" cy="19.7"/>
<circle cx="515.7" cy="22.6"/>
<circle cx="522.7" cy="22.1"/>
<circle cx="518.6" cy="19.6"/>
<circle cx="548.9" cy="25.4"/>
<circle cx="551.5" cy="30.4"/>
<circle cx="552.4" cy="27.1"/>
<circle cx="518.5" cy="32.1"/>
<circle cx="519.7" cy="20.1"/>
<circle cx="553.9" cy="22.3"/>
<circle cx="555.1" cy="26.7"/>
<circle cx="519" cy="41.9"/>
<circle cx="521.3" cy="24.9"/>
<circle cx="527.3" cy="36.5"/>
<circle cx="539.8" cy="34.2"/>
<circle cx="517.9" cy="34.8"/>
<circle cx="554" cy="25"/>
<circle cx="536.1" cy="29.3"/>
<circle cx="550.6" cy="29.9"/>
<circle cx="537.8" cy="19.5"/>
<circle cx="515.9" cy="26.7"/>
<circle cx="554.9" cy="35"/>
<circle cx="546.3" cy="24.9"/>
<circle cx="531.2" cy="32.7"/>
<circle cx="528.4" cy="38.9"/>
<circle cx="538.1" cy="39.8"/>
<circle cx="522.4" cy="25.4"/>
<circle cx="542.7" cy="20.3"/>
<circle cx="536" cy="41.8"/>
<circle cx="545.2" cy="39.1"/>
<circle cx="543.7" cy="25.3"/>
<circle cx="515.6" cy="38.5"/>
<circle cx="521" cy="40.3"/>
<circle cx="535" cy="41.5"/>
<circle cx="553" cy="35.9"/>
<circle cx="518.7" cy="37"/>
<circle cx="545.1" cy="26.3"/>
<circle cx="533.4" cy="35.5"/>
<circle cx="560.6" cy="28.7"/>
<circle cx="549.3" cy="40.7"/>
<circle cx="538.5" cy="37.6"/>
<circle cx="514.5" cy="29.7"/>
<circle cx="558" cy="24.1"/>
<circle cx="526.6" cy="26"/>
<circle cx="528.9" cy="25.8"/>
<circle cx="438.3" cy="28"/>
<circle cx="532" cy="39.8"/>
<circle cx="523.1" cy="33.8"/>
<circle cx="531.2" cy="39"/>
<circle cx="618.1" cy="20.1"/>
<circle cx="551.6" cy="33.9"/>
<circle cx="519" cy="20.7"/>
<circle cx="555.8" cy="19.8"/>
<circle cx="537.8" cy="32.6"/>
<circle cx="543.5" cy="21"/>
<circle cx="553.8" cy="34.4"/>
<circle cx="533.9" cy="23.4"/>
<circle cx="525" cy="25"/>
<circle cx="552.5" cy="36.9"/>
<circle cx="546.3" cy="39.6"/>
<circle cx="536.9" cy="37.2"/>
<circle cx="539.9" cy="37.1"/>
<circle cx="558.4" cy="37.2"/>
<circle cx="554.8" cy="33.2"/>
<circle cx="625.5" cy="34.4"/>
<circle cx="536" cy="30.7"/>
<circle cx="546.1" cy="28.7"/>
<circle cx="529.4" cy="21.1"/>
<circle cx="553.8" cy="20.9"/>
<circle cx="554.5" cy="28.1"/>
<circle cx="516.8" cy="23.4"/>
<circle cx="547" cy="20.7"/>
<circle cx="545.6" cy="35.7"/>
<circle cx="618.1" cy="31.8"/>
<circle cx="521.9" cy="25.2"/>
<circle cx="545.3" cy="37.1"/>
<circle cx="514.8" cy="21.4"/>
<circle cx="521.2" cy="31.9"/>
<circle cx="546.4" cy="19.9"/>
<circle cx="523.3" cy="26.7"/>
<circle cx="530.7" cy="24.6"/>
<circle cx="548.7" cy="39.7"/>
<circle cx="548.6" cy="29.9"/>
<circle cx="547.7" cy="39.8"/>
<circle cx="513.4" cy="41.7"/>
<circle cx="540.9" cy="29"/>
<circle cx="516.7" cy="39.2"/>
<circle cx="518.1" cy="29.8"/>
<circle cx="529.8" cy="25.9"/>
<circle cx="530.7" cy="40.7"/>
<circle cx="548.2" cy="38.4"/>
<circle cx="541.9" cy="24.5"/>
<circle cx="550.6" cy="29.2"/>
<circle cx="607.7" cy="23.2"/>
<circle cx="515.1" cy="36.4"/>
<circle cx="555.8" cy="31.4"/>
<circle cx="557.3" cy="21.4"/>
<circle cx="526.2" cy="35.4"/>
<circle cx="535.1" cy="40.2"/>
<circle cx="543.2" cy="29.2"/>
<circle cx="533" cy="26.6"/>
<circle cx="526.6" cy="21.9"/>
<circle cx="514" cy="20.2"/>
<circle cx="548.9" cy="25"/>
<circle cx="527.8" cy="21"/>
<circle cx="531.9" cy="32.3"/>
<circle cx="517.4" cy="34"/>
<circle cx="530.6" cy="23.2"/>
<circle cx="517.9" cy="25.6"/>
<circle cx="549.9" cy="33.8"/>
<circle cx="557.4" cy="37.4"/>
<circle cx="552.7" cy="23"/>
<circle cx="535.6" cy="41.1"/>
<circle cx="527.1" cy="21.1"/>
<circle cx="524.4" cy="34"/>
<circle cx="525.8" cy="38.3"/>
<circle cx="523.5" cy="31.4"/>
<circle cx="537.7" cy="37.7"/>
<circle cx="523.8" cy="27"/>
<circle cx="539.1" cy="31.5"/>
<circle cx="534" cy="25.1"/>
<circle cx="522.6" cy="21"/>
<circle cx="524.9" cy="31.1"/>
<circle cx="550.2" cy="21.6"/>
<circle cx="539.6" cy="38.5"/>
<circle cx="535.4" cy="35.7"/>
<circle cx="556" cy="30.4"/>
<circle cx="512.1" cy="21.3"/>
<circle cx="538.6" cy="24.4"/>
<circle cx="538.7" cy="22.9"/>
<circle cx="544.9" cy="23.3"/>
<circle cx="552.6" cy="24.1"/>
<circle cx="550.2" cy="36.5"/>
<circle cx="558.6" cy="25.6"/>
<circle cx="523.8" cy="41.4"/>
<circle cx="542.1" cy="39.5"/>
<circle cx="532.5" cy="25.7"/>
<circle cx="522.8" cy="27.9"/>
<circle cx="531.8" cy="34"/>
<circle cx="545.9" cy="40.9"/>
<circle cx="517.4" cy="26.5"/>
<circle cx="513.7" cy="22.2"/>
<circle cx="529.7" cy="26.4"/>
<circle cx="514.6" cy="23.3"/>
<circle cx="521.4" cy="38.4"/>
<circle cx="556.9" cy="26.3"/>
<circle cx="529.7" cy="39.9"/>
<circle cx="532.5" cy="38.4"/>
<circle cx="541.5" cy="21.2"/>
<circle cx="517.3" cy="22.5"/>
<circle cx="549" cy="21.8"/>
<circle cx="515" cy="34.1"/>
<circle cx="529.7" cy="34.5"/>
<circle cx="526.3" cy="29.3"/>
<circle cx="542.2" cy="22.6"/>
<circle cx="540.7" cy="21.4"/>
<circle cx="547.3" cy="23.5"/>
<circle cx="531.6" cy="23.1"/>
<circle cx="540" cy="31.4"/>
<circle cx="540.4" cy="23.1"/>
<circle cx="558.2" cy="41.8"/>
<circle cx="553.7" cy="35.7"/>
<circle cx="520.2" cy="29.2"/>
<circle cx="544.1" cy="37.5"/>
<circle cx="517.1" cy="20.8"/>
<circle cx="550.6" cy="38.7"/>
<circle cx="515.8" cy="30.9"/>
<circle cx="514.9" cy="32.1"/>
<circle cx="638" cy="29.2"/>
<circle cx="521.1" cy="37"/>
<circle cx="513.8" cy="27.7"/>
<circle cx="551.1" cy="26.7"/>
<circle cx="552.1" cy="19.9"/>
<circle cx="552.1" cy="26.1"/>
<circle cx="534.9" cy="36.4"/>
<circle cx="555.1" cy="20"/>
<circle cx="528.3" cy="20"/>
<circle cx="530.4" cy="30.8"/>
<circle cx="525.6" cy="41.6"/>
<circle cx="543.4" cy="27"/>
<circle cx="546.5" cy="35.2"/>
<circle cx="521" cy="22.5"/>
<circle cx="528.8" cy="23"/>
<circle cx="561.9" cy="28.4"/>
<circle cx="548.9" cy="38.5"/>
<circle cx="552.9" cy="25.5"/>
<circle cx="537.2" cy="34.1"/>
<circle cx="540" cy="28.5"/>
<circle cx="541.4" cy="22.2"/>
<circle cx="535" cy="29.8"/>
<circle cx="525.7" cy="28.3"/>
<circle cx="525.8" cy="29"/>
<circle cx="537.2" cy="25.8"/>
<circle cx="530.2" cy="32.6"/>
<circle cx="535.7" cy="34.5"/>
<circle cx="545.9" cy="26.8"/>
<circle cx="516.3" cy="33.3"/>
<circle cx="550.5" cy="21.9"/>
<circle cx="512.3" cy="20.6"/>
<circle cx="526.5" cy="37.1"/>
<circle cx="512" cy="36.1"/>
<circle cx="527.8" cy="22.3"/>
<circle cx="517.5" cy="37.8"/>
<circle cx="524.1" cy="34.8"/>
<circle cx="523.2" cy="33.1"/>
<circle cx="542.7" cy="27.3"/>
<circle cx="529" cy="40.5"/>
<circle cx="538.6" cy="41.2"/>
<circle cx="536.1" cy="22.6"/>
<circle cx="520.3" cy="27.9"/>
<circle cx="526.2" cy="32.8"/>
<circle cx="548.9" cy="25"/>
<circle cx="543.3" cy="34.6"/>
<circle cx="551.4" cy="32.8"/>
<circle cx="520.9" cy="21.1"/>
<circle cx="520.4" cy="35.3"/>
<circle cx="527" cy="36.1"/>
<circle cx="516.5" cy="28.6"/>
<circle cx="554.5" cy="23.6"/>
<circle cx="532.7" cy="37.5"/>
<circle cx="513" cy="20.5"/>
<circle cx="519.6" cy="33"/>
<circle cx="544" cy="31.1"/>
<circle cx="544.6" cy="29"/>
<circle cx="519.7" cy="25.8"/>
</g>
</g>
<rect x="416.2" y="57" width="254.3" height="20.6" fill="#fff" stroke="#444" stroke-width="1"/>
<clipPath id="cc2"><rect x="415.7" y="55.4" width="255.3" height="23.8"/></clipPath>
<g clip-path="url(#cc2)" id="cc2g">
<rect x="455" y="57" width="20" height="20.6" fill="#200018"/>
<rect x="540" y="57" width="18" height="20.6" fill="#200018"/>
<rect x="618" y="57" width="20" height="20.6" fill="#200018"/>
<g class="bd">
<circle cx="465.4" cy="71"/>
</g>
<g class="rd">
<circle cx="538.7" cy="68.2"/>
<circle cx="541.1" cy="63.3"/>
</g>
<g class="r">
<circle cx="506.7" cy="64.4"/>
</g>
<g class="rd">
<circle cx="463.8" cy="58.6"/>
</g>
<g class="bd">
<circle cx="465.7" cy="60.9"/>
</g>
<g class="rd">
<circle cx="542.9" cy="59.5"/>
<circle cx="559.5" cy="60.7"/>
</g>
<g class="bd">
<circle cx="641.1" cy="57.1"/>
</g>
<g class="r">
<circle cx="514.1" cy="67.5"/>
</g>
<g class="rd">
<circle cx="622.1" cy="67.7"/>
<circle cx="632.3" cy="70.2"/>
<circle cx="638.6" cy="63.8"/>
<circle cx="464.3" cy="66.3"/>
<circle cx="619.6" cy="77.9"/>
<circle cx="453.4" cy="60.1"/>
<circle cx="614.8" cy="71.9"/>
</g>
<g class="r">
<circle cx="610" cy="66.4"/>
</g>
<g class="rd">
<circle cx="557.5" cy="75.9"/>
<circle cx="477.2" cy="59.9"/>
</g>
<g class="r">
<circle cx="592" cy="71.9"/>
</g>
<g class="bd">
<circle cx="475.4" cy="61.7"/>
<circle cx="637.7" cy="76.1"/>
<circle cx="556.3" cy="63.8"/>
</g>
<g class="rd">
<circle cx="478.4" cy="63.9"/>
<circle cx="455.8" cy="78.1"/>
<circle cx="545" cy="68.9"/>
<circle cx="458.8" cy="68.6"/>
<circle cx="548.9" cy="76.7"/>
</g>
<g class="bd">
<circle cx="617" cy="58.6"/>
</g>
<g class="rd">
<circle cx="629.3" cy="62.9"/>
</g>
<g class="r">
<circle cx="429.1" cy="58.8"/>
</g>
<g class="rd">
<circle cx="548.8" cy="62"/>
</g>
<g class="r">
<circle cx="528.6" cy="64"/>
</g>
<g class="bd">
<circle cx="553.2" cy="78"/>
<circle cx="634.4" cy="64.1"/>
<circle cx="546.1" cy="66.1"/>
</g>
<g class="rd">
<circle cx="547.9" cy="68.3"/>
<circle cx="618.6" cy="67.4"/>
</g>
<g class="r">
<circle cx="514.4" cy="61.4"/>
</g>
<g class="rd">
<circle cx="456.1" cy="67.9"/>
<circle cx="537.7" cy="71.2"/>
<circle cx="627.1" cy="65.2"/>
<circle cx="558.4" cy="59.9"/>
<circle cx="544.9" cy="66.7"/>
<circle cx="457.8" cy="73.7"/>
<circle cx="556.9" cy="73.6"/>
<circle cx="469.5" cy="57.1"/>
</g>
<g class="r">
<circle cx="569.5" cy="60.7"/>
</g>
<g class="bd">
<circle cx="554.9" cy="68.2"/>
</g>
<g class="r">
<circle cx="437.5" cy="75.1"/>
</g>
<g class="bd">
<circle cx="620.1" cy="66.1"/>
</g>
<g class="r">
<circle cx="608.5" cy="60.4"/>
</g>
<g class="bd">
<circle cx="633.5" cy="65.5"/>
<circle cx="549.5" cy="69.3"/>
</g>
<g class="b">
<circle cx="448.7" cy="58.5"/>
</g>
<g class="bd">
<circle cx="465.2" cy="58.6"/>
</g>
<g class="rd">
<circle cx="637.8" cy="60.5"/>
</g>
<g class="bd">
<circle cx="464.2" cy="63.3"/>
</g>
<g class="rd">
<circle cx="474.9" cy="61"/>
<circle cx="622.2" cy="58.7"/>
</g>
<g class="bd">
<circle cx="467.1" cy="72"/>
<circle cx="472.8" cy="77.6"/>
</g>
<g class="rd">
<circle cx="618.2" cy="73.1"/>
</g>
<g class="bd">
<circle cx="550.8" cy="75.3"/>
<circle cx="462.1" cy="59.9"/>
</g>
<g class="rd">
<circle cx="560.3" cy="59.6"/>
</g>
<g class="bd">
<circle cx="455.6" cy="64.4"/>
</g>
<g class="r">
<circle cx="660.1" cy="60.1"/>
<circle cx="606.9" cy="62.2"/>
</g>
<g class="bd">
<circle cx="621.4" cy="60.5"/>
<circle cx="625.9" cy="64.5"/>
</g>
<g class="r">
<circle cx="567.2" cy="71.7"/>
</g>
<g class="bd">
<circle cx="471" cy="60.3"/>
</g>
<g class="rd">
<circle cx="632.3" cy="71.7"/>
<circle cx="620.6" cy="71.6"/>
<circle cx="630.3" cy="75.8"/>
<circle cx="627.6" cy="78"/>
</g>
<g class="bd">
<circle cx="471.3" cy="73.5"/>
</g>
<g class="rd">
<circle cx="640.7" cy="60.5"/>
<circle cx="544.9" cy="60.9"/>
<circle cx="473.7" cy="76.3"/>
</g>
<g class="bd">
<circle cx="616.4" cy="65.5"/>
<circle cx="465.7" cy="76.1"/>
</g>
<g class="r">
<circle cx="657" cy="73.4"/>
</g>
<g class="bd">
<circle cx="469.1" cy="74.3"/>
<circle cx="544.6" cy="61.9"/>
</g>
<g class="r">
<circle cx="528.8" cy="73.7"/>
</g>
<g class="rd">
<circle cx="557.2" cy="63.7"/>
<circle cx="544.4" cy="59.2"/>
</g>
<g class="bd">
<circle cx="554.1" cy="76.9"/>
</g>
<g class="rd">
<circle cx="473.8" cy="73.8"/>
<circle cx="617.6" cy="63.4"/>
</g>
<g class="bd">
<circle cx="554.4" cy="75.1"/>
</g>
<g class="rd">
<circle cx="626.8" cy="78"/>
<circle cx="631.1" cy="58.3"/>
</g>
<g class="bd">
<circle cx="471.8" cy="67"/>
<circle cx="621.6" cy="76.9"/>
</g>
<g class="r">
<circle cx="442.4" cy="68.6"/>
</g>
<g class="rd">
<circle cx="468.8" cy="57.5"/>
</g>
<g class="bd">
<circle cx="624" cy="76.8"/>
<circle cx="624.4" cy="65.4"/>
<circle cx="474.9" cy="69"/>
<circle cx="464.8" cy="76.5"/>
</g>
<g class="rd">
<circle cx="456.2" cy="69.3"/>
</g>
<g class="bd">
<circle cx="554.6" cy="77.9"/>
</g>
<g class="rd">
<circle cx="558.1" cy="77.1"/>
</g>
<g class="bd">
<circle cx="548.9" cy="70.7"/>
<circle cx="544.4" cy="67.7"/>
</g>
<g class="r">
<circle cx="582.5" cy="58.8"/>
</g>
<g class="bd">
<circle cx="469.4" cy="71.7"/>
</g>
<g class="rd">
<circle cx="630.8" cy="68.7"/>
<circle cx="472.7" cy="56.6"/>
<circle cx="539.2" cy="57.1"/>
</g>
<g class="bd">
<circle cx="463.7" cy="63.6"/>
</g>
<g class="r">
<circle cx="523.6" cy="62.1"/>
</g>
<g class="bd">
<circle cx="457.8" cy="65.3"/>
<circle cx="453.8" cy="75.1"/>
<circle cx="551.9" cy="66"/>
</g>
<g class="rd">
<circle cx="564.6" cy="71.5"/>
<circle cx="468.3" cy="72.1"/>
</g>
<g class="bd">
<circle cx="639.5" cy="57.4"/>
</g>
<g class="rd">
<circle cx="548.1" cy="72.5"/>
<circle cx="474" cy="65.3"/>
</g>
<g class="bd">
<circle cx="468.8" cy="59.8"/>
</g>
<g class="rd">
<circle cx="560.2" cy="70.8"/>
</g>
<g class="r">
<circle cx="599.9" cy="71.5"/>
</g>
<g class="bd">
<circle cx="542.9" cy="61.6"/>
</g>
<g class="rd">
<circle cx="618.2" cy="75.6"/>
<circle cx="467.7" cy="67.6"/>
<circle cx="557.3" cy="69.6"/>
<circle cx="543.5" cy="74.9"/>
<circle cx="543.7" cy="65.7"/>
</g>
<g class="b">
<circle cx="662.9" cy="64.7"/>
</g>
<g class="r">
<circle cx="599.9" cy="58.4"/>
</g>
<g class="rd">
<circle cx="638" cy="73.2"/>
</g>
<g class="bd">
<circle cx="472.3" cy="60.3"/>
</g>
<g class="rd">
<circle cx="618.5" cy="62.5"/>
<circle cx="636.4" cy="67.7"/>
<circle cx="467.8" cy="66"/>
</g>
<g class="bd">
<circle cx="617.1" cy="56.9"/>
</g>
<g class="rd">
<circle cx="615.1" cy="65.5"/>
<circle cx="616.6" cy="71.8"/>
</g>
<g class="bd">
<circle cx="551.7" cy="72.9"/>
</g>
<g class="rd">
<circle cx="461.1" cy="75.7"/>
<circle cx="617.5" cy="61.1"/>
<circle cx="470.6" cy="61.3"/>
<circle cx="551.5" cy="70.1"/>
</g>
<g class="r">
<circle cx="513.8" cy="73.3"/>
</g>
<g class="rd">
<circle cx="476.1" cy="75.7"/>
</g>
<g class="b">
<circle cx="612.1" cy="68.4"/>
</g>
<g class="bd">
<circle cx="630" cy="59.8"/>
<circle cx="548.9" cy="65.6"/>
<circle cx="544.1" cy="58.4"/>
</g>
<g class="rd">
<circle cx="468" cy="74.3"/>
</g>
<g class="bd">
<circle cx="541.5" cy="59.3"/>
</g>
<g class="rd">
<circle cx="555.7" cy="68.6"/>
<circle cx="452.3" cy="74.9"/>
<circle cx="558" cy="72.7"/>
</g>
<g class="bd">
<circle cx="461.7" cy="57.2"/>
<circle cx="563.5" cy="72.5"/>
</g>
<g class="rd">
<circle cx="623.2" cy="59.3"/>
</g>
<g class="bd">
<circle cx="467.6" cy="73.6"/>
</g>
<g class="rd">
<circle cx="470.8" cy="74.7"/>
<circle cx="457.8" cy="69.6"/>
</g>
<g class="r">
<circle cx="444.1" cy="69.7"/>
</g>
<g class="bd">
<circle cx="464" cy="74.7"/>
</g>
<g class="rd">
<circle cx="623.7" cy="75.8"/>
<circle cx="638.4" cy="65.1"/>
<circle cx="460.4" cy="64.1"/>
</g>
<g class="bd">
<circle cx="631.5" cy="77"/>
</g>
<g class="rd">
<circle cx="543.8" cy="72.7"/>
</g>
<g class="bd">
<circle cx="540.3" cy="58.7"/>
<circle cx="554.2" cy="74.3"/>
</g>
<g class="r">
<circle cx="658" cy="72.5"/>
</g>
<g class="rd">
<circle cx="620.9" cy="68"/>
<circle cx="541.5" cy="61.4"/>
<circle cx="638.1" cy="59.8"/>
<circle cx="640.8" cy="70.1"/>
<circle cx="640.9" cy="72.3"/>
</g>
<g class="bd">
<circle cx="463.4" cy="77.6"/>
</g>
<g class="r">
<circle cx="581.9" cy="57.1"/>
</g>
<g class="bd">
<circle cx="537.2" cy="68.8"/>
<circle cx="562.5" cy="58.8"/>
</g>
<g class="rd">
<circle cx="630.4" cy="57.6"/>
<circle cx="464.1" cy="73.5"/>
<circle cx="627.2" cy="64.8"/>
<circle cx="560.2" cy="74.2"/>
</g>
<g class="bd">
<circle cx="459.6" cy="65.4"/>
</g>
<g class="rd">
<circle cx="640.2" cy="64.1"/>
</g>
<g class="bd">
<circle cx="470.1" cy="61.1"/>
<circle cx="638.4" cy="61.3"/>
</g>
<g class="rd">
<circle cx="633.5" cy="76"/>
<circle cx="622.4" cy="67.2"/>
</g>
<g class="b">
<circle cx="609.4" cy="61.2"/>
</g>
<g class="r">
<circle cx="509" cy="66.1"/>
</g>
<g class="rd">
<circle cx="471.5" cy="67.4"/>
</g>
<g class="bd">
<circle cx="549.7" cy="58.7"/>
</g>
<g class="rd">
<circle cx="547" cy="73"/>
</g>
<g class="bd">
<circle cx="634.1" cy="71.8"/>
<circle cx="548.5" cy="77.9"/>
</g>
<g class="r">
<circle cx="439" cy="74.1"/>
</g>
<g class="rd">
<circle cx="557.2" cy="63.4"/>
</g>
<g class="bd">
<circle cx="562" cy="71.6"/>
<circle cx="472" cy="75.5"/>
</g>
<g class="rd">
<circle cx="555.2" cy="66.7"/>
<circle cx="455.4" cy="59.3"/>
</g>
<g class="bd">
<circle cx="450.4" cy="76.5"/>
</g>
<g class="rd">
<circle cx="622" cy="76.2"/>
<circle cx="541.2" cy="75.4"/>
<circle cx="561.3" cy="57.5"/>
</g>
<g class="bd">
<circle cx="455.9" cy="57.8"/>
</g>
<g class="r">
<circle cx="421.5" cy="72.8"/>
</g>
<g class="bd">
<circle cx="619.2" cy="68.2"/>
</g>
<g class="rd">
<circle cx="551.2" cy="64.7"/>
<circle cx="474.3" cy="61.7"/>
</g>
<g class="bd">
<circle cx="547.8" cy="59.8"/>
</g>
<g class="r">
<circle cx="424.9" cy="67.1"/>
</g>
<g class="rd">
<circle cx="557.4" cy="73.1"/>
</g>
<g class="bd">
<circle cx="548.6" cy="60.1"/>
</g>
<g class="rd">
<circle cx="631" cy="65.8"/>
</g>
<g class="bd">
<circle cx="475.7" cy="65.8"/>
</g>
<g class="rd">
<circle cx="635.1" cy="74.7"/>
</g>
<g class="bd">
<circle cx="543.6" cy="78.1"/>
</g>
<g class="rd">
<circle cx="642.2" cy="73.6"/>
<circle cx="627.3" cy="77"/>
</g>
<g class="bd">
<circle cx="623.7" cy="74.4"/>
</g>
<g class="rd">
<circle cx="629.7" cy="77.1"/>
</g>
<g class="r">
<circle cx="583.7" cy="58.2"/>
</g>
<g class="bd">
<circle cx="469" cy="64.2"/>
</g>
<g class="rd">
<circle cx="461.3" cy="58.8"/>
</g>
<g class="bd">
<circle cx="613.4" cy="67.9"/>
<circle cx="627.5" cy="70.6"/>
</g>
<g class="rd">
<circle cx="634.9" cy="71.3"/>
<circle cx="623.9" cy="59.1"/>
</g>
<g class="bd">
<circle cx="556.6" cy="58.7"/>
<circle cx="462.1" cy="63"/>
</g>
<g class="r">
<circle cx="492.7" cy="68.6"/>
</g>
<g class="rd">
<circle cx="454.3" cy="76.3"/>
</g>
<g class="bd">
<circle cx="620.6" cy="58.5"/>
<circle cx="464.8" cy="60.7"/>
<circle cx="551.7" cy="64.9"/>
<circle cx="554.1" cy="65.4"/>
<circle cx="461.9" cy="71.9"/>
</g>
<g class="b">
<circle cx="653.7" cy="62.1"/>
</g>
<g class="rd">
<circle cx="542.9" cy="74.5"/>
<circle cx="472.5" cy="62.1"/>
<circle cx="642" cy="69"/>
</g>
<g class="bd">
<circle cx="620.4" cy="60.2"/>
</g>
<g class="rd">
<circle cx="555.7" cy="68.1"/>
</g>
<g class="bd">
<circle cx="640.8" cy="66.2"/>
</g>
<g class="rd">
<circle cx="453.6" cy="63.9"/>
</g>
<g class="bd">
<circle cx="545.5" cy="58.2"/>
<circle cx="561.7" cy="70.7"/>
<circle cx="628.8" cy="60.4"/>
<circle cx="536.2" cy="75.3"/>
<circle cx="622.6" cy="68.2"/>
</g>
<g class="rd">
<circle cx="544.1" cy="64.1"/>
<circle cx="450.8" cy="61.3"/>
</g>
<g class="bd">
<circle cx="541.7" cy="73.1"/>
</g>
<g class="b">
<circle cx="569.6" cy="63.7"/>
</g>
<g class="rd">
<circle cx="550" cy="56.9"/>
<circle cx="635.7" cy="59.2"/>
<circle cx="626.9" cy="73"/>
</g>
<g class="r">
<circle cx="578" cy="58.5"/>
</g>
<g class="bd">
<circle cx="472.3" cy="69.1"/>
</g>
<g class="rd">
<circle cx="535.4" cy="64.5"/>
<circle cx="551.2" cy="71.4"/>
</g>
<g class="bd">
<circle cx="630.2" cy="77.4"/>
<circle cx="467" cy="69.3"/>
</g>
<g class="r">
<circle cx="587.3" cy="75.4"/>
</g>
<g class="rd">
<circle cx="461.8" cy="66.8"/>
</g>
<g class="bd">
<circle cx="636.2" cy="56.7"/>
</g>
<g class="rd">
<circle cx="625.3" cy="75.9"/>
</g>
<g class="b">
<circle cx="510.9" cy="69.8"/>
</g>
<g class="rd">
<circle cx="626.4" cy="57.7"/>
<circle cx="615" cy="69.8"/>
<circle cx="465.8" cy="74.8"/>
<circle cx="552.2" cy="73.5"/>
</g>
<g class="bd">
<circle cx="540.7" cy="65.8"/>
</g>
<g class="rd">
<circle cx="470.3" cy="69.4"/>
</g>
<g class="bd">
<circle cx="621.4" cy="63.7"/>
</g>
<g class="rd">
<circle cx="639.5" cy="62.5"/>
<circle cx="546" cy="56.6"/>
<circle cx="637" cy="60.5"/>
<circle cx="638.8" cy="66.8"/>
<circle cx="635.5" cy="57.5"/>
</g>
<g class="bd">
<circle cx="552" cy="69.4"/>
</g>
<g class="b">
<circle cx="517.9" cy="61.7"/>
</g>
<g class="rd">
<circle cx="457.4" cy="63.1"/>
</g>
<g class="bd">
<circle cx="452" cy="69.3"/>
<circle cx="453.9" cy="69.4"/>
</g>
<g class="r">
<circle cx="494.8" cy="66.8"/>
</g>
<g class="rd">
<circle cx="536" cy="61.9"/>
</g>
<g class="r">
<circle cx="504.6" cy="75.5"/>
</g>
<g class="rd">
<circle cx="638" cy="57.2"/>
</g>
<g class="bd">
<circle cx="463.9" cy="69.2"/>
<circle cx="618.2" cy="57.7"/>
<circle cx="628.5" cy="67.9"/>
</g>
<g class="rd">
<circle cx="613.8" cy="75.1"/>
<circle cx="545" cy="63"/>
</g>
<g class="r">
<circle cx="595.6" cy="61.3"/>
<circle cx="491.2" cy="58.4"/>
</g>
<g class="bd">
<circle cx="629.9" cy="71.5"/>
<circle cx="469.9" cy="77.9"/>
</g>
<g class="rd">
<circle cx="461.8" cy="77.6"/>
</g>
<g class="bd">
<circle cx="622.3" cy="73"/>
</g>
<g class="rd">
<circle cx="619.3" cy="73.5"/>
<circle cx="617" cy="74.8"/>
</g>
<g class="bd">
<circle cx="462.3" cy="74.2"/>
<circle cx="468.4" cy="66.8"/>
<circle cx="453.5" cy="59.9"/>
</g>
<g class="rd">
<circle cx="475.2" cy="58.8"/>
<circle cx="633" cy="63.4"/>
</g>
<g class="bd">
<circle cx="549.2" cy="56.8"/>
</g>
<g class="rd">
<circle cx="636.6" cy="76.8"/>
<circle cx="471.1" cy="65.8"/>
</g>
<g class="bd">
<circle cx="630.7" cy="73.9"/>
<circle cx="544.6" cy="65.4"/>
</g>
<g class="rd">
<circle cx="550.1" cy="67.7"/>
</g>
<g class="bd">
<circle cx="617.3" cy="73.3"/>
</g>
<g class="r">
<circle cx="423.6" cy="72"/>
</g>
<g class="rd">
<circle cx="454.8" cy="62.6"/>
</g>
<g class="bd">
<circle cx="452.7" cy="70.1"/>
<circle cx="467.2" cy="71.6"/>
</g>
<g class="rd">
<circle cx="558.1" cy="62.2"/>
</g>
<g class="bd">
<circle cx="467.4" cy="62.2"/>
<circle cx="465.9" cy="59.3"/>
</g>
<g class="rd">
<circle cx="620.9" cy="64.6"/>
<circle cx="617.2" cy="65.3"/>
</g>
<g class="bd">
<circle cx="470.8" cy="66.4"/>
<circle cx="627.3" cy="74.8"/>
</g>
<g class="rd">
<circle cx="622.8" cy="56.7"/>
</g>
<g class="bd">
<circle cx="453" cy="58.7"/>
</g>
<g class="r">
<circle cx="489.8" cy="75.9"/>
<circle cx="571" cy="61.7"/>
</g>
<g class="bd">
<circle cx="464.5" cy="56.6"/>
</g>
<g class="r">
<circle cx="565.4" cy="59"/>
</g>
<g class="rd">
<circle cx="640.7" cy="69"/>
<circle cx="475.6" cy="71.8"/>
<circle cx="540.5" cy="59.8"/>
<circle cx="550.6" cy="76.7"/>
</g>
<g class="bd">
<circle cx="551.1" cy="67.9"/>
</g>
<g class="rd">
<circle cx="555.7" cy="66.1"/>
<circle cx="467.3" cy="58.1"/>
<circle cx="550.6" cy="63.4"/>
</g>
<g class="bd">
<circle cx="453.7" cy="72.9"/>
</g>
<g class="rd">
<circle cx="454.2" cy="57"/>
</g>
<g class="bd">
<circle cx="552.5" cy="71.1"/>
</g>
<g class="rd">
<circle cx="457" cy="77.6"/>
<circle cx="637.5" cy="71.7"/>
<circle cx="639.3" cy="77.3"/>
<circle cx="536.4" cy="61.2"/>
<circle cx="637.8" cy="63.8"/>
<circle cx="611.3" cy="76.8"/>
</g>
<g class="bd">
<circle cx="558.8" cy="67.6"/>
</g>
<g class="rd">
<circle cx="555" cy="69"/>
</g>
<g class="bd">
<circle cx="538.3" cy="66.9"/>
</g>
<g class="r">
<circle cx="447.9" cy="74.3"/>
<circle cx="485.7" cy="69.9"/>
</g>
<g class="rd">
<circle cx="546.1" cy="58.9"/>
<circle cx="455.6" cy="68.9"/>
<circle cx="539.9" cy="68.9"/>
<circle cx="456.1" cy="76.4"/>
<circle cx="633.9" cy="75.2"/>
</g>
<g class="bd">
<circle cx="624.3" cy="57"/>
</g>
<g class="b">
<circle cx="611.7" cy="73.9"/>
</g>
<g class="rd">
<circle cx="538.6" cy="69.3"/>
</g>
<g class="r">
<circle cx="442.8" cy="65.7"/>
</g>
<g class="bd">
<circle cx="627" cy="62"/>
<circle cx="550.8" cy="59"/>
<circle cx="622.2" cy="71.3"/>
<circle cx="463.1" cy="64.9"/>
<circle cx="553.9" cy="63.6"/>
</g>
<g class="rd">
<circle cx="453" cy="77.2"/>
<circle cx="458.9" cy="62.8"/>
</g>
<g class="bd">
<circle cx="626.3" cy="71.3"/>
</g>
<g class="rd">
<circle cx="472.8" cy="73.8"/>
</g>
<g class="bd">
<circle cx="627.5" cy="72.1"/>
</g>
<g class="r">
<circle cx="610" cy="65.1"/>
</g>
<g class="rd">
<circle cx="542" cy="57"/>
</g>
<g class="bd">
<circle cx="468.6" cy="68.8"/>
</g>
<g class="rd">
<circle cx="636" cy="74.7"/>
</g>
<g class="bd">
<circle cx="463" cy="70.5"/>
<circle cx="640.3" cy="76.6"/>
</g>
<g class="rd">
<circle cx="463.2" cy="72.3"/>
</g>
<g class="bd">
<circle cx="551" cy="62"/>
</g>
<g class="rd">
<circle cx="465.1" cy="68.5"/>
</g>
<g class="bd">
<circle cx="469.5" cy="75.3"/>
<circle cx="619.9" cy="61.3"/>
</g>
<g class="rd">
<circle cx="558.4" cy="69.4"/>
</g>
<g class="bd">
<circle cx="471.6" cy="72.8"/>
</g>
<g class="rd">
<circle cx="623.6" cy="74.3"/>
</g>
<g class="bd">
<circle cx="471.9" cy="64.7"/>
<circle cx="538.2" cy="59.7"/>
<circle cx="561.8" cy="65"/>
<circle cx="557.4" cy="57.5"/>
</g>
<g class="rd">
<circle cx="469.2" cy="67.1"/>
</g>
<g class="bd">
<circle cx="618.9" cy="77.2"/>
</g>
<g class="r">
<circle cx="421.1" cy="66.7"/>
</g>
<g class="bd">
<circle cx="460.5" cy="76.4"/>
<circle cx="541.5" cy="64.2"/>
</g>
<g class="rd">
<circle cx="633" cy="61"/>
</g>
<g class="bd">
<circle cx="461.3" cy="68.5"/>
<circle cx="633.8" cy="60.9"/>
</g>
<g class="rd">
<circle cx="552.8" cy="69.8"/>
</g>
<g class="bd">
<circle cx="464" cy="68.1"/>
<circle cx="470.9" cy="57.4"/>
</g>
<g class="rd">
<circle cx="631.2" cy="62.7"/>
</g>
<g class="bd">
<circle cx="544.8" cy="72"/>
<circle cx="550.5" cy="63.6"/>
<circle cx="624.1" cy="63.4"/>
</g>
<g class="rd">
<circle cx="617.6" cy="67.5"/>
</g>
<g class="bd">
<circle cx="540.3" cy="64.4"/>
<circle cx="471.9" cy="70.4"/>
</g>
<g class="rd">
<circle cx="546.8" cy="63.7"/>
<circle cx="627.5" cy="78.2"/>
<circle cx="465.5" cy="70.1"/>
<circle cx="548.7" cy="60"/>
</g>
<g class="r">
<circle cx="446.4" cy="60"/>
</g>
<g class="rd">
<circle cx="462.3" cy="57.2"/>
</g>
<g class="bd">
<circle cx="616.4" cy="61.7"/>
<circle cx="467.8" cy="78.2"/>
</g>
<g class="rd">
<circle cx="461.2" cy="66.2"/>
<circle cx="624.6" cy="68.1"/>
</g>
<g class="bd">
<circle cx="462.4" cy="69.2"/>
<circle cx="555.1" cy="72.7"/>
</g>
<g class="rd">
<circle cx="620.2" cy="75.6"/>
</g>
<g class="bd">
<circle cx="465.5" cy="63.4"/>
<circle cx="632.3" cy="58.8"/>
</g>
<g class="b">
<circle cx="565.6" cy="75.6"/>
</g>
<g class="bd">
<circle cx="461.4" cy="65.4"/>
</g>
<g class="rd">
<circle cx="560.2" cy="71.1"/>
<circle cx="560.9" cy="65.7"/>
<circle cx="470.7" cy="70.2"/>
</g>
<g class="bd">
<circle cx="544.7" cy="59.9"/>
<circle cx="619.1" cy="62.8"/>
</g>
<g class="rd">
<circle cx="554.2" cy="70.8"/>
</g>
<g class="bd">
<circle cx="623.2" cy="72"/>
</g>
<g class="rd">
<circle cx="614.7" cy="76"/>
<circle cx="617.1" cy="59.5"/>
</g>
<g class="bd">
<circle cx="627.7" cy="57.4"/>
<circle cx="622.3" cy="69.6"/>
<circle cx="453.8" cy="60.2"/>
</g>
<g class="r">
<circle cx="658.9" cy="76.1"/>
</g>
<g class="bd">
<circle cx="639.5" cy="59.6"/>
<circle cx="467.7" cy="76.7"/>
<circle cx="546.7" cy="71.5"/>
</g>
<g class="rd">
<circle cx="470.5" cy="59.3"/>
</g>
<g class="bd">
<circle cx="629.2" cy="76.1"/>
<circle cx="473.5" cy="66.8"/>
</g>
<g class="rd">
<circle cx="632" cy="59.1"/>
</g>
<g class="r">
<circle cx="591.3" cy="58.3"/>
</g>
<g class="bd">
<circle cx="629.2" cy="58.5"/>
</g>
<g class="rd">
<circle cx="628.4" cy="71.5"/>
<circle cx="473.8" cy="57.6"/>
</g>
<g class="bd">
<circle cx="559.8" cy="72.7"/>
<circle cx="465.2" cy="69.8"/>
</g>
<g class="rd">
<circle cx="476.1" cy="73.7"/>
</g>
<g class="bd">
<circle cx="464.2" cy="71.3"/>
</g>
<g class="rd">
<circle cx="473.4" cy="73.2"/>
</g>
<g class="bd">
<circle cx="559.9" cy="65.7"/>
</g>
<g class="rd">
<circle cx="456.1" cy="59.2"/>
<circle cx="543.3" cy="69.5"/>
</g>
<g class="bd">
<circle cx="460.2" cy="74.7"/>
</g>
<g class="rd">
<circle cx="629.9" cy="70.8"/>
</g>
<g class="r">
<circle cx="610.7" cy="59.6"/>
</g>
<g class="rd">
<circle cx="551.6" cy="69"/>
<circle cx="546.8" cy="60.2"/>
<circle cx="455.4" cy="77.5"/>
<circle cx="633.6" cy="66.1"/>
</g>
<g class="bd">
<circle cx="468.4" cy="63.1"/>
</g>
<g class="rd">
<circle cx="556.5" cy="63.5"/>
<circle cx="466.8" cy="64.5"/>
<circle cx="638.7" cy="67.7"/>
</g>
<g class="r">
<circle cx="447.3" cy="73.1"/>
<circle cx="484.8" cy="58"/>
</g>
<g class="rd">
<circle cx="461.2" cy="74.2"/>
</g>
<g class="bd">
<circle cx="614.7" cy="73.3"/>
</g>
<g class="rd">
<circle cx="544.1" cy="73.7"/>
<circle cx="626.5" cy="56.5"/>
</g>
<g class="bd">
<circle cx="629.4" cy="58.8"/>
</g>
<g class="rd">
<circle cx="551.4" cy="56.6"/>
</g>
<g class="bd">
<circle cx="553.8" cy="57.5"/>
<circle cx="552.5" cy="75.8"/>
</g>
<g class="r">
<circle cx="657.3" cy="71.6"/>
</g>
<g class="rd">
<circle cx="466.5" cy="72.3"/>
<circle cx="619.1" cy="64"/>
</g>
<g class="bd">
<circle cx="622.8" cy="60.8"/>
</g>
<g class="rd">
<circle cx="616.1" cy="74.8"/>
</g>
<g class="bd">
<circle cx="627.4" cy="76.3"/>
</g>
<g class="rd">
<circle cx="558.6" cy="65.6"/>
</g>
<g class="bd">
<circle cx="618.5" cy="71.6"/>
</g>
<g class="rd">
<circle cx="620.8" cy="64.8"/>
</g>
<g class="bd">
<circle cx="458.4" cy="72.1"/>
<circle cx="469.1" cy="69.5"/>
</g>
<g class="rd">
<circle cx="473.7" cy="57.7"/>
</g>
<g class="b">
<circle cx="653.3" cy="65.6"/>
</g>
<g class="bd">
<circle cx="553" cy="59.9"/>
<circle cx="462.8" cy="70.3"/>
</g>
<g class="rd">
<circle cx="454" cy="74.3"/>
<circle cx="630.2" cy="75.2"/>
</g>
<g class="r">
<circle cx="496.2" cy="72.4"/>
</g>
<g class="rd">
<circle cx="625.6" cy="72.2"/>
</g>
<g class="bd">
<circle cx="631.8" cy="62.3"/>
<circle cx="638.3" cy="60"/>
</g>
<g class="rd">
<circle cx="625" cy="66.7"/>
<circle cx="540.4" cy="57.3"/>
<circle cx="557.6" cy="66.8"/>
<circle cx="546.3" cy="68.4"/>
</g>
<g class="bd">
<circle cx="630.3" cy="58.6"/>
<circle cx="627.3" cy="59.7"/>
<circle cx="617.3" cy="72.2"/>
<circle cx="623.2" cy="63"/>
<circle cx="471.6" cy="73.4"/>
</g>
<g class="rd">
<circle cx="638.6" cy="58.2"/>
<circle cx="631.3" cy="65.8"/>
</g>
<g class="bd">
<circle cx="557.9" cy="69.8"/>
</g>
<g class="r">
<circle cx="596" cy="64.6"/>
</g>
<g class="bd">
<circle cx="457.2" cy="71.9"/>
<circle cx="546.6" cy="64.8"/>
<circle cx="627" cy="68.1"/>
</g>
<g class="r">
<circle cx="493.9" cy="65.9"/>
</g>
<g class="rd">
<circle cx="544.7" cy="74.6"/>
</g>
<g class="bd">
<circle cx="556.6" cy="67.5"/>
<circle cx="546.5" cy="69.5"/>
<circle cx="467.7" cy="60.4"/>
</g>
<g class="rd">
<circle cx="475.4" cy="58.1"/>
<circle cx="618.7" cy="68.9"/>
<circle cx="559.7" cy="62.3"/>
</g>
<g class="bd">
<circle cx="558.6" cy="63.3"/>
</g>
<g class="rd">
<circle cx="539.2" cy="72.7"/>
<circle cx="556.3" cy="60.3"/>
</g>
<g class="bd">
<circle cx="457.5" cy="77.2"/>
<circle cx="549.6" cy="69.8"/>
</g>
<g class="rd">
<circle cx="618.8" cy="61.3"/>
</g>
<g class="bd">
<circle cx="540.1" cy="66.6"/>
</g>
<g class="rd">
<circle cx="476.8" cy="76.6"/>
</g>
<g class="bd">
<circle cx="536.7" cy="74.6"/>
</g>
<g class="r">
<circle cx="512.7" cy="61.7"/>
</g>
<g class="bd">
<circle cx="623.1" cy="76.9"/>
<circle cx="538" cy="64.5"/>
<circle cx="541.4" cy="77.1"/>
<circle cx="543.1" cy="76"/>
</g>
<g class="r">
<circle cx="580.2" cy="58.4"/>
<circle cx="423.6" cy="68.4"/>
</g>
<g class="bd">
<circle cx="632.8" cy="64.1"/>
</g>
<g class="rd">
<circle cx="638.9" cy="60.2"/>
</g>
<g class="b">
<circle cx="459" cy="70.4"/>
</g>
<g class="r">
<circle cx="558.1" cy="67.1"/>
</g>
<g class="b">
<circle cx="538.7" cy="70.5"/>
</g>
<g class="r">
<circle cx="572.9" cy="60.9"/>
</g>
<g class="b">
<circle cx="460" cy="60"/>
</g>
<g class="r">
<circle cx="452.3" cy="68.3"/>
<circle cx="624.6" cy="77.9"/>
<circle cx="644.9" cy="64.4"/>
<circle cx="529" cy="66.2"/>
</g>
<g class="b">
<circle cx="555.4" cy="64"/>
<circle cx="455.1" cy="72.9"/>
<circle cx="460.3" cy="57.9"/>
</g>
<g class="r">
<circle cx="635.9" cy="72.3"/>
<circle cx="456.7" cy="62.2"/>
</g>
<g class="b">
<circle cx="540.6" cy="61.9"/>
</g>
<g class="r">
<circle cx="560.8" cy="78"/>
<circle cx="558.6" cy="76.5"/>
</g>
<g class="b">
<circle cx="536.9" cy="70.6"/>
<circle cx="625.9" cy="74.1"/>
</g>
<g class="r">
<circle cx="632.6" cy="78"/>
</g>
<g class="b">
<circle cx="629.4" cy="57.2"/>
</g>
<g class="r">
<circle cx="474.7" cy="59"/>
</g>
<g class="b">
<circle cx="615.5" cy="76.7"/>
</g>
<g class="r">
<circle cx="530.3" cy="63.3"/>
<circle cx="622.2" cy="57"/>
</g>
<g class="b">
<circle cx="476.6" cy="61.9"/>
</g>
<g class="r">
<circle cx="514.2" cy="66.7"/>
<circle cx="458.9" cy="71.8"/>
<circle cx="631.8" cy="75.2"/>
</g>
<g class="b">
<circle cx="466.4" cy="57.8"/>
<circle cx="547.1" cy="73.4"/>
<circle cx="622.5" cy="75.4"/>
</g>
<g class="r">
<circle cx="475.2" cy="66.9"/>
</g>
<g class="b">
<circle cx="615.9" cy="67.2"/>
</g>
<g class="r">
<circle cx="618.1" cy="59.7"/>
<circle cx="541.6" cy="73.6"/>
</g>
<g class="b">
<circle cx="632.7" cy="59.5"/>
</g>
<g class="r">
<circle cx="627.5" cy="62.4"/>
</g>
<g class="b">
<circle cx="560.4" cy="76.1"/>
<circle cx="549.8" cy="60.8"/>
</g>
<g class="r">
<circle cx="542" cy="71.2"/>
<circle cx="460.8" cy="71.8"/>
</g>
<g class="b">
<circle cx="460" cy="56.8"/>
</g>
<g class="r">
<circle cx="535.9" cy="57.1"/>
</g>
<g class="b">
<circle cx="477.9" cy="65"/>
<circle cx="549.5" cy="77.3"/>
</g>
<g class="r">
<circle cx="494.9" cy="74.1"/>
<circle cx="474.8" cy="57.8"/>
<circle cx="459.4" cy="62.3"/>
</g>
<g class="b">
<circle cx="631.1" cy="73.1"/>
</g>
<g class="r">
<circle cx="566.7" cy="59.5"/>
</g>
<g class="b">
<circle cx="545.7" cy="77.4"/>
</g>
<g class="r">
<circle cx="638.2" cy="66.9"/>
</g>
<g class="b">
<circle cx="462.5" cy="67.9"/>
<circle cx="636.5" cy="63.3"/>
<circle cx="622.9" cy="70.4"/>
<circle cx="547.3" cy="68.6"/>
<circle cx="464.4" cy="75.5"/>
<circle cx="467.5" cy="66.9"/>
<circle cx="553.9" cy="75"/>
</g>
<g class="r">
<circle cx="452" cy="70.4"/>
</g>
<g class="b">
<circle cx="543.6" cy="57.4"/>
</g>
<g class="r">
<circle cx="629.8" cy="68.7"/>
<circle cx="630.4" cy="62.2"/>
<circle cx="549.8" cy="66.7"/>
<circle cx="548.5" cy="64.4"/>
</g>
<g class="b">
<circle cx="544" cy="63.4"/>
<circle cx="619.8" cy="68.4"/>
<circle cx="545" cy="56.4"/>
</g>
<g class="r">
<circle cx="460" cy="72.2"/>
</g>
<g class="b">
<circle cx="638.7" cy="71.5"/>
</g>
<g class="r">
<circle cx="619.1" cy="74.7"/>
<circle cx="634.9" cy="60.6"/>
</g>
<g class="b">
<circle cx="559" cy="71.7"/>
<circle cx="546.4" cy="77"/>
<circle cx="616" cy="57.8"/>
<circle cx="551.6" cy="58.6"/>
<circle cx="466.6" cy="62.4"/>
<circle cx="453.7" cy="66.2"/>
<circle cx="556.5" cy="56.7"/>
<circle cx="621.5" cy="61.5"/>
<circle cx="539" cy="67.1"/>
</g>
<g class="r">
<circle cx="638.6" cy="68.4"/>
<circle cx="517.8" cy="63.1"/>
<circle cx="530.6" cy="58.9"/>
</g>
<g class="b">
<circle cx="540.5" cy="77.9"/>
<circle cx="638.6" cy="76.6"/>
</g>
<g class="r">
<circle cx="636.7" cy="75.7"/>
<circle cx="630.6" cy="64.6"/>
</g>
<g class="b">
<circle cx="613.6" cy="56.9"/>
<circle cx="466.1" cy="61.4"/>
<circle cx="540.9" cy="71.4"/>
</g>
<g class="r">
<circle cx="665.5" cy="72.3"/>
</g>
<g class="b">
<circle cx="575.9" cy="62.5"/>
<circle cx="625" cy="61.8"/>
</g>
<g class="r">
<circle cx="632.8" cy="56.9"/>
<circle cx="625.6" cy="77.8"/>
<circle cx="616" cy="63.3"/>
<circle cx="544.2" cy="67.1"/>
</g>
<g class="b">
<circle cx="570.7" cy="67.8"/>
<circle cx="636.2" cy="71.1"/>
</g>
<g class="r">
<circle cx="561.2" cy="57.8"/>
<circle cx="633.5" cy="59.9"/>
<circle cx="541.8" cy="66.7"/>
<circle cx="554.6" cy="63.3"/>
<circle cx="466.4" cy="67.4"/>
<circle cx="557.2" cy="71.9"/>
</g>
<g class="b">
<circle cx="624.3" cy="75.5"/>
</g>
<g class="r">
<circle cx="615.2" cy="58.7"/>
<circle cx="622.2" cy="62.7"/>
</g>
<g class="b">
<circle cx="467" cy="70.4"/>
</g>
<g class="r">
<circle cx="541.1" cy="70.5"/>
</g>
<g class="b">
<circle cx="459.1" cy="76.7"/>
</g>
<g class="r">
<circle cx="623.5" cy="66.7"/>
</g>
<g class="b">
<circle cx="635.3" cy="64"/>
</g>
<g class="r">
<circle cx="540.5" cy="69.6"/>
</g>
<g class="b">
<circle cx="624.7" cy="63.6"/>
<circle cx="553.1" cy="62.9"/>
<circle cx="461.8" cy="76.1"/>
<circle cx="468.3" cy="65.4"/>
<circle cx="626.3" cy="66.1"/>
</g>
<g class="r">
<circle cx="633.5" cy="68.3"/>
</g>
<g class="b">
<circle cx="464.7" cy="61.5"/>
</g>
<g class="r">
<circle cx="634.8" cy="67.9"/>
</g>
<g class="b">
<circle cx="631.1" cy="68"/>
</g>
<g class="r">
<circle cx="623.7" cy="68.4"/>
<circle cx="646.8" cy="68.8"/>
<circle cx="420.5" cy="73.3"/>
</g>
<g class="b">
<circle cx="631.5" cy="66.3"/>
</g>
<g class="r">
<circle cx="424.8" cy="73"/>
</g>
<g class="b">
<circle cx="621.8" cy="59.9"/>
<circle cx="540.8" cy="67.6"/>
<circle cx="546.7" cy="62.3"/>
</g>
<g class="r">
<circle cx="473.3" cy="70.8"/>
<circle cx="555.6" cy="71.7"/>
<circle cx="460" cy="69.7"/>
<circle cx="625" cy="62.3"/>
</g>
<g class="b">
<circle cx="473.7" cy="59.9"/>
<circle cx="542.5" cy="64.6"/>
</g>
<g class="r">
<circle cx="643" cy="62.5"/>
<circle cx="539.5" cy="59.6"/>
</g>
<g class="b">
<circle cx="620.3" cy="61.2"/>
</g>
<g class="r">
<circle cx="522.5" cy="69.7"/>
<circle cx="539.4" cy="65.7"/>
<circle cx="477" cy="68.8"/>
</g>
<g class="b">
<circle cx="549" cy="68"/>
<circle cx="551.9" cy="68.3"/>
</g>
<g class="r">
<circle cx="618.2" cy="56.6"/>
</g>
<g class="b">
<circle cx="636.3" cy="58.4"/>
</g>
<g class="r">
<circle cx="547.7" cy="71.6"/>
<circle cx="606.4" cy="68.7"/>
<circle cx="562.3" cy="72.7"/>
</g>
<g class="b">
<circle cx="472.3" cy="57.9"/>
</g>
<g class="r">
<circle cx="465.7" cy="74"/>
</g>
<g class="b">
<circle cx="556.1" cy="58.4"/>
<circle cx="484.8" cy="63.4"/>
</g>
<g class="r">
<circle cx="553.3" cy="70.3"/>
<circle cx="451.8" cy="61.5"/>
</g>
<g class="b">
<circle cx="461.2" cy="59.2"/>
</g>
<g class="r">
<circle cx="473.1" cy="62.1"/>
</g>
<g class="b">
<circle cx="557.2" cy="78.1"/>
<circle cx="453.9" cy="72"/>
<circle cx="465" cy="73"/>
<circle cx="628.3" cy="64.9"/>
</g>
<g class="r">
<circle cx="477.8" cy="76.8"/>
<circle cx="450.6" cy="68.9"/>
</g>
<g class="b">
<circle cx="558.1" cy="58.3"/>
</g>
<g class="r">
<circle cx="559.9" cy="63.5"/>
</g>
<g class="b">
<circle cx="548.8" cy="66.1"/>
</g>
<g class="r">
<circle cx="537.6" cy="68.5"/>
<circle cx="634.7" cy="76.2"/>
</g>
<g class="b">
<circle cx="473.5" cy="68.3"/>
</g>
<g class="r">
<circle cx="617.9" cy="66.8"/>
</g>
<g class="b">
<circle cx="620.6" cy="75.4"/>
</g>
<g class="r">
<circle cx="572.2" cy="73.2"/>
<circle cx="636.8" cy="68.9"/>
<circle cx="620.1" cy="70.1"/>
<circle cx="550.3" cy="62.1"/>
</g>
<g class="b">
<circle cx="548.1" cy="77.7"/>
<circle cx="544.3" cy="60.2"/>
<circle cx="550" cy="58.8"/>
<circle cx="622.8" cy="71"/>
<circle cx="475.3" cy="56.8"/>
</g>
<g class="r">
<circle cx="641" cy="71.6"/>
<circle cx="546.9" cy="63.6"/>
</g>
<g class="b">
<circle cx="618.6" cy="64.5"/>
<circle cx="557" cy="60.8"/>
<circle cx="461.5" cy="60"/>
</g>
<g class="r">
<circle cx="477.4" cy="77.7"/>
</g>
<g class="b">
<circle cx="616.6" cy="68.7"/>
</g>
<g class="r">
<circle cx="454.9" cy="73.7"/>
</g>
<g class="b">
<circle cx="552.2" cy="75.4"/>
<circle cx="615.8" cy="72"/>
<circle cx="627.9" cy="62.1"/>
</g>
<g class="r">
<circle cx="642.1" cy="65.3"/>
</g>
<g class="b">
<circle cx="459.3" cy="74.6"/>
<circle cx="624.9" cy="66.2"/>
</g>
<g class="r">
<circle cx="560.8" cy="62.4"/>
<circle cx="455.7" cy="67.4"/>
</g>
<g class="b">
<circle cx="546.9" cy="70.5"/>
<circle cx="556.8" cy="65.5"/>
<circle cx="537.5" cy="61.8"/>
</g>
<g class="r">
<circle cx="548.1" cy="76.7"/>
<circle cx="616.7" cy="77.5"/>
</g>
<g class="b">
<circle cx="541" cy="58.6"/>
</g>
<g class="r">
<circle cx="614.3" cy="66.8"/>
<circle cx="617" cy="70.1"/>
<circle cx="457" cy="63.8"/>
</g>
<g class="b">
<circle cx="540.7" cy="73.6"/>
</g>
<g class="r">
<circle cx="611.5" cy="66.7"/>
<circle cx="636.8" cy="64.5"/>
<circle cx="477.6" cy="72.9"/>
<circle cx="640.2" cy="65.2"/>
</g>
<g class="b">
<circle cx="555.7" cy="76.9"/>
</g>
<g class="r">
<circle cx="608" cy="69.5"/>
</g>
<g class="b">
<circle cx="549.5" cy="75.1"/>
</g>
<g class="r">
<circle cx="611.1" cy="57.3"/>
</g>
<g class="b">
<circle cx="540.7" cy="60.8"/>
<circle cx="609.3" cy="63"/>
<circle cx="616" cy="60.8"/>
<circle cx="461.1" cy="67.4"/>
</g>
<g class="r">
<circle cx="465.8" cy="65.3"/>
</g>
<g class="b">
<circle cx="567.8" cy="63.8"/>
<circle cx="617.5" cy="75.8"/>
<circle cx="626.1" cy="59.8"/>
<circle cx="459.9" cy="69"/>
<circle cx="470.6" cy="67.9"/>
<circle cx="555" cy="73.6"/>
<circle cx="542.8" cy="77.8"/>
</g>
<g class="r">
<circle cx="559.5" cy="74.9"/>
</g>
<g class="b">
<circle cx="460.6" cy="63.7"/>
</g>
<g class="r">
<circle cx="628.9" cy="73.9"/>
</g>
<g class="b">
<circle cx="556.7" cy="77.7"/>
<circle cx="552.6" cy="66.2"/>
</g>
<g class="r">
<circle cx="629.7" cy="63.8"/>
</g>
<g class="b">
<circle cx="640.2" cy="60.7"/>
</g>
<g class="r">
<circle cx="554.9" cy="57.6"/>
<circle cx="575.4" cy="76"/>
</g>
<g class="b">
<circle cx="455.5" cy="58.1"/>
</g>
<g class="r">
<circle cx="464" cy="62.4"/>
<circle cx="616.5" cy="64.2"/>
<circle cx="476.3" cy="73.8"/>
<circle cx="543.2" cy="68.1"/>
</g>
<g class="b">
<circle cx="624.6" cy="60.2"/>
</g>
<g class="r">
<circle cx="474.2" cy="71.1"/>
<circle cx="593.9" cy="70.7"/>
</g>
<g class="b">
<circle cx="457.1" cy="69.9"/>
<circle cx="457.6" cy="60.3"/>
<circle cx="623.3" cy="65.9"/>
<circle cx="632.9" cy="75.1"/>
</g>
<g class="r">
<circle cx="611" cy="73.1"/>
</g>
<g class="b">
<circle cx="619.2" cy="57.8"/>
</g>
<g class="r">
<circle cx="541.5" cy="69.5"/>
</g>
<g class="b">
<circle cx="547.7" cy="75.2"/>
</g>
<g class="r">
<circle cx="553" cy="76.7"/>
<circle cx="451.2" cy="73.6"/>
</g>
<g class="b">
<circle cx="664.6" cy="70.7"/>
<circle cx="460.4" cy="63.2"/>
<circle cx="629.3" cy="71.3"/>
<circle cx="463.7" cy="71.4"/>
<circle cx="465.6" cy="66.2"/>
</g>
<g class="r">
<circle cx="544.6" cy="71.1"/>
</g>
<g class="b">
<circle cx="554.6" cy="78.1"/>
</g>
<g class="r">
<circle cx="635.9" cy="62.2"/>
<circle cx="625.3" cy="71.8"/>
</g>
<g class="b">
<circle cx="458.7" cy="64.4"/>
<circle cx="626.2" cy="63.3"/>
</g>
<g class="r">
<circle cx="544.9" cy="74.1"/>
<circle cx="655" cy="67.2"/>
</g>
<g class="b">
<circle cx="613" cy="68.8"/>
<circle cx="467.3" cy="75.6"/>
<circle cx="466.2" cy="69.1"/>
</g>
<g class="r">
<circle cx="620.4" cy="69.3"/>
<circle cx="478.9" cy="75.7"/>
</g>
<g class="b">
<circle cx="550.1" cy="73.9"/>
<circle cx="453.1" cy="70.9"/>
</g>
<g class="r">
<circle cx="575.7" cy="71.2"/>
<circle cx="484.6" cy="59.9"/>
<circle cx="631.4" cy="64.3"/>
</g>
<g class="b">
<circle cx="468.2" cy="58.2"/>
<circle cx="641.3" cy="59.7"/>
<circle cx="470.9" cy="77.6"/>
</g>
<g class="r">
<circle cx="535.1" cy="57.8"/>
</g>
<g class="b">
<circle cx="544" cy="77.6"/>
<circle cx="464.9" cy="77.5"/>
</g>
<g class="r">
<circle cx="471.4" cy="72.6"/>
</g>
<g class="b">
<circle cx="560" cy="59"/>
</g>
<g class="r">
<circle cx="567.8" cy="69.5"/>
<circle cx="637.8" cy="63.4"/>
</g>
<g class="b">
<circle cx="456.6" cy="60.7"/>
</g>
<g class="r">
<circle cx="598.2" cy="65.3"/>
<circle cx="556.5" cy="62"/>
<circle cx="469.3" cy="62.7"/>
<circle cx="418.8" cy="57.8"/>
<circle cx="581.4" cy="76.3"/>
</g>
<g class="b">
<circle cx="467" cy="57.3"/>
<circle cx="618.4" cy="70.6"/>
</g>
<g class="r">
<circle cx="640.7" cy="77"/>
<circle cx="617.5" cy="64.1"/>
</g>
<g class="b">
<circle cx="551.8" cy="58.8"/>
<circle cx="614.5" cy="56.5"/>
</g>
<g class="r">
<circle cx="620.4" cy="57.2"/>
</g>
<g class="b">
<circle cx="476" cy="70.4"/>
</g>
<g class="r">
<circle cx="630.3" cy="66.1"/>
<circle cx="459.9" cy="71.3"/>
<circle cx="628.5" cy="74.6"/>
<circle cx="637.1" cy="58.5"/>
<circle cx="457.3" cy="68"/>
</g>
<g class="b">
<circle cx="487.5" cy="60"/>
<circle cx="561.3" cy="60.2"/>
<circle cx="475.5" cy="63.8"/>
<circle cx="457.3" cy="74.8"/>
</g>
<g class="r">
<circle cx="537.5" cy="65.5"/>
</g>
<g class="b">
<circle cx="559.4" cy="66.8"/>
</g>
<g class="r">
<circle cx="505.6" cy="61.6"/>
</g>
<g class="b">
<circle cx="627.8" cy="68.8"/>
</g>
<g class="r">
<circle cx="452.9" cy="57.3"/>
<circle cx="632.8" cy="72.3"/>
<circle cx="477" cy="71.1"/>
<circle cx="469" cy="76.3"/>
<circle cx="503.6" cy="75.2"/>
</g>
<g class="b">
<circle cx="453.4" cy="73"/>
</g>
<g class="r">
<circle cx="565.2" cy="58.8"/>
<circle cx="637.7" cy="68.2"/>
</g>
<g class="b">
<circle cx="543.7" cy="68.8"/>
<circle cx="605.8" cy="71.6"/>
<circle cx="455.3" cy="60.2"/>
</g>
<g class="r">
<circle cx="632.4" cy="69.5"/>
<circle cx="620.1" cy="60.2"/>
</g>
<g class="b">
<circle cx="458.4" cy="60.7"/>
<circle cx="625.4" cy="60.7"/>
<circle cx="560" cy="77"/>
</g>
<g class="r">
<circle cx="474" cy="76.2"/>
</g>
<g class="b">
<circle cx="625.2" cy="75.1"/>
</g>
<g class="r">
<circle cx="630" cy="60.3"/>
<circle cx="463" cy="60.3"/>
<circle cx="454.8" cy="61.5"/>
<circle cx="529.4" cy="57.6"/>
<circle cx="624.1" cy="69"/>
<circle cx="468.6" cy="77.1"/>
<circle cx="470.3" cy="63.3"/>
<circle cx="552.1" cy="60.6"/>
</g>
<g class="b">
<circle cx="624.9" cy="58.1"/>
</g>
<g class="r">
<circle cx="456.4" cy="73.1"/>
</g>
<g class="b">
<circle cx="542.5" cy="66.7"/>
<circle cx="604.3" cy="62.1"/>
<circle cx="635.1" cy="73.3"/>
</g>
<g class="r">
<circle cx="618.7" cy="74.7"/>
<circle cx="536.7" cy="67.5"/>
</g>
<g class="b">
<circle cx="547.9" cy="56.9"/>
</g>
<g class="r">
<circle cx="532.6" cy="62.6"/>
</g>
<g class="b">
<circle cx="464.8" cy="68.2"/>
</g>
<g class="r">
<circle cx="560.8" cy="61.8"/>
<circle cx="620.7" cy="62.9"/>
</g>
<g class="b">
<circle cx="620.2" cy="74.3"/>
</g>
<g class="r">
<circle cx="635.7" cy="69.6"/>
<circle cx="482.2" cy="63.6"/>
</g>
<g class="b">
<circle cx="616.9" cy="71.4"/>
</g>
<g class="r">
<circle cx="553.7" cy="58.4"/>
</g>
<g class="b">
<circle cx="471" cy="76"/>
</g>
<g class="r">
<circle cx="631.1" cy="60.2"/>
</g>
<g class="b">
<circle cx="636.5" cy="65.6"/>
<circle cx="457" cy="59.9"/>
<circle cx="625.3" cy="70.5"/>
</g>
<g class="r">
<circle cx="616.5" cy="77.1"/>
<circle cx="633.5" cy="70"/>
<circle cx="447" cy="75.9"/>
<circle cx="503" cy="68.3"/>
</g>
<g class="b">
<circle cx="464.8" cy="63.8"/>
<circle cx="624.1" cy="72"/>
<circle cx="459.3" cy="57.8"/>
</g>
<g class="r">
<circle cx="473.7" cy="60.8"/>
</g>
<g class="b">
<circle cx="539.4" cy="77"/>
<circle cx="551.9" cy="63"/>
<circle cx="546.6" cy="58.8"/>
</g>
<g class="r">
<circle cx="469.5" cy="58.7"/>
</g>
<g class="b">
<circle cx="549.9" cy="64.5"/>
</g>
<g class="r">
<circle cx="561.7" cy="66.5"/>
</g>
<g class="b">
<circle cx="558.9" cy="60.5"/>
</g>
<g class="r">
<circle cx="657.6" cy="74.3"/>
<circle cx="628.6" cy="74.7"/>
<circle cx="634.7" cy="58.1"/>
<circle cx="614.8" cy="60.3"/>
</g>
<g class="b">
<circle cx="554.9" cy="58.5"/>
</g>
<g class="r">
<circle cx="561.2" cy="66.1"/>
<circle cx="559.8" cy="56.5"/>
<circle cx="620.6" cy="67.2"/>
</g>
<g class="b">
<circle cx="554.9" cy="59.5"/>
</g>
<g class="r">
<circle cx="535.8" cy="63.1"/>
<circle cx="461.3" cy="70.6"/>
</g>
<g class="b">
<circle cx="624.3" cy="74.1"/>
<circle cx="626.1" cy="57.7"/>
<circle cx="463.7" cy="57.2"/>
<circle cx="626" cy="65.7"/>
<circle cx="460.6" cy="61.5"/>
</g>
<g class="r">
<circle cx="457.2" cy="72.4"/>
</g>
<g class="b">
<circle cx="638.7" cy="63.1"/>
</g>
<g class="r">
<circle cx="591.2" cy="75.1"/>
</g>
<g class="b">
<circle cx="552.5" cy="63.8"/>
<circle cx="625.8" cy="67.3"/>
<circle cx="474.7" cy="73.2"/>
</g>
<g class="r">
<circle cx="549.7" cy="71.9"/>
<circle cx="539.4" cy="70.8"/>
<circle cx="540.6" cy="76"/>
</g>
<g class="b">
<circle cx="543.4" cy="71"/>
</g>
<g class="r">
<circle cx="598.5" cy="69.1"/>
</g>
<g class="b">
<circle cx="534.5" cy="69.9"/>
<circle cx="625.9" cy="56.8"/>
</g>
<g class="r">
<circle cx="640.1" cy="61.8"/>
<circle cx="468.8" cy="71.7"/>
</g>
<g class="b">
<circle cx="640.3" cy="75.6"/>
</g>
<g class="r">
<circle cx="543.6" cy="62"/>
<circle cx="538.1" cy="57.6"/>
<circle cx="475.5" cy="77.3"/>
</g>
<g class="b">
<circle cx="627.8" cy="66.4"/>
</g>
<g class="r">
<circle cx="538.3" cy="76.1"/>
<circle cx="639.6" cy="77.5"/>
<circle cx="542.7" cy="72.3"/>
</g>
<g class="b">
<circle cx="632.5" cy="65.5"/>
</g>
<g class="r">
<circle cx="561.5" cy="74.5"/>
<circle cx="580.3" cy="67.3"/>
<circle cx="637.6" cy="65.8"/>
<circle cx="562.7" cy="77.1"/>
<circle cx="527.4" cy="69"/>
</g>
<g class="b">
<circle cx="465.2" cy="73.6"/>
</g>
<g class="r">
<circle cx="559.1" cy="57.7"/>
<circle cx="635.2" cy="63"/>
<circle cx="553.8" cy="72.4"/>
</g>
<g class="b">
<circle cx="631.7" cy="75.7"/>
</g>
<g class="r">
<circle cx="458.6" cy="65.1"/>
</g>
<g class="b">
<circle cx="536.3" cy="67"/>
</g>
<g class="r">
<circle cx="477" cy="77.1"/>
<circle cx="636.5" cy="74.1"/>
</g>
<g class="b">
<circle cx="635.3" cy="66.1"/>
<circle cx="455.3" cy="71.6"/>
</g>
<g class="r">
<circle cx="637.6" cy="69.6"/>
</g>
<g class="b">
<circle cx="469.3" cy="59.9"/>
</g>
<g class="r">
<circle cx="639.3" cy="70.6"/>
<circle cx="628.8" cy="62.3"/>
</g>
<g class="b">
<circle cx="429.2" cy="70.4"/>
<circle cx="554.1" cy="60.7"/>
<circle cx="462.6" cy="60.9"/>
<circle cx="633.9" cy="58.6"/>
</g>
<g class="r">
<circle cx="552.5" cy="57.7"/>
<circle cx="623.7" cy="62.1"/>
</g>
<g class="b">
<circle cx="456.8" cy="71.2"/>
<circle cx="632.8" cy="66.8"/>
<circle cx="460.1" cy="66.3"/>
<circle cx="541.5" cy="67.5"/>
<circle cx="554.3" cy="60.6"/>
</g>
<g class="r">
<circle cx="552" cy="62.4"/>
<circle cx="537.4" cy="75.9"/>
</g>
<g class="b">
<circle cx="633.4" cy="62.8"/>
<circle cx="464.6" cy="59.5"/>
<circle cx="466.2" cy="77.8"/>
</g>
<g class="r">
<circle cx="426.2" cy="58.5"/>
<circle cx="615.2" cy="58.8"/>
<circle cx="453.2" cy="68.5"/>
<circle cx="616.5" cy="70"/>
</g>
<g class="b">
<circle cx="457.2" cy="57.5"/>
<circle cx="558.6" cy="57.6"/>
</g>
<g class="r">
<circle cx="543.9" cy="75.9"/>
<circle cx="613.2" cy="76.8"/>
<circle cx="453.7" cy="61.4"/>
</g>
<g class="b">
<circle cx="617.3" cy="68.5"/>
</g>
<g class="r">
<circle cx="556" cy="65.6"/>
</g>
<g class="b">
<circle cx="475" cy="70.6"/>
</g>
<g class="r">
<circle cx="596.8" cy="62.2"/>
</g>
<g class="b">
<circle cx="622.9" cy="58.1"/>
</g>
<g class="r">
<circle cx="615.1" cy="77.2"/>
</g>
<g class="b">
<circle cx="612.7" cy="60.5"/>
</g>
<g class="r">
<circle cx="535.5" cy="76.9"/>
</g>
<g class="b">
<circle cx="635.9" cy="59.1"/>
</g>
<g class="r">
<circle cx="559.6" cy="71.8"/>
<circle cx="444.4" cy="59.5"/>
</g>
<g class="b">
<circle cx="469.6" cy="70.6"/>
<circle cx="469.4" cy="61.5"/>
<circle cx="474.1" cy="64.7"/>
<circle cx="634.2" cy="69.5"/>
</g>
<g class="r">
<circle cx="496.8" cy="65.6"/>
<circle cx="455.9" cy="65.8"/>
<circle cx="635.4" cy="61.3"/>
<circle cx="620" cy="59.7"/>
</g>
<g class="b">
<circle cx="556" cy="75.6"/>
<circle cx="469.7" cy="65.5"/>
</g>
<g class="r">
<circle cx="634.7" cy="65.3"/>
<circle cx="457.1" cy="62"/>
</g>
<g class="b">
<circle cx="549.2" cy="62.6"/>
<circle cx="626.6" cy="69.1"/>
</g>
<g class="r">
<circle cx="475.1" cy="68.2"/>
</g>
<g class="b">
<circle cx="548" cy="65.2"/>
<circle cx="457.8" cy="67.1"/>
<circle cx="544.6" cy="76.5"/>
</g>
<g class="r">
<circle cx="464" cy="76.3"/>
<circle cx="633.2" cy="74.4"/>
<circle cx="543" cy="63.4"/>
<circle cx="640" cy="69.6"/>
<circle cx="519.1" cy="74"/>
<circle cx="522.7" cy="76.1"/>
</g>
<g class="b">
<circle cx="456.2" cy="66.6"/>
</g>
<g class="r">
<circle cx="667.3" cy="65"/>
</g>
<g class="b">
<circle cx="461.7" cy="72"/>
</g>
<g class="r">
<circle cx="503" cy="59.3"/>
</g>
<g class="b">
<circle cx="455.7" cy="74.6"/>
</g>
<g class="r">
<circle cx="557.7" cy="61.5"/>
<circle cx="555.1" cy="75.9"/>
</g>
<g class="b">
<circle cx="632.7" cy="68.3"/>
<circle cx="633.7" cy="73.3"/>
<circle cx="547" cy="66.4"/>
<circle cx="473.6" cy="68.8"/>
</g>
<g class="r">
<circle cx="636" cy="70.1"/>
</g>
<g class="b">
<circle cx="627.4" cy="60.4"/>
</g>
<g class="r">
<circle cx="633.5" cy="61.3"/>
</g>
<g class="b">
<circle cx="552" cy="56.5"/>
<circle cx="647" cy="64.7"/>
<circle cx="629.9" cy="63.1"/>
</g>
<g class="r">
<circle cx="538.3" cy="70.7"/>
</g>
<g class="b">
<circle cx="514.7" cy="68.5"/>
<circle cx="455.3" cy="66.8"/>
<circle cx="621.3" cy="70"/>
</g>
<g class="r">
<circle cx="619.8" cy="70.9"/>
</g>
<g class="b">
<circle cx="458.5" cy="67"/>
</g>
<g class="r">
<circle cx="560.3" cy="67.8"/>
</g>
<g class="b">
<circle cx="473" cy="63.2"/>
</g>
<g class="r">
<circle cx="458.7" cy="73.8"/>
<circle cx="471.5" cy="71.2"/>
<circle cx="522.2" cy="65"/>
<circle cx="619.3" cy="72.2"/>
</g>
<g class="b">
<circle cx="629.7" cy="65.9"/>
</g>
<g class="r">
<circle cx="476.1" cy="75.3"/>
</g>
<g class="b">
<circle cx="506" cy="61.6"/>
</g>
<g class="r">
<circle cx="547.1" cy="70.8"/>
</g>
<g class="b">
<circle cx="467.5" cy="59.6"/>
<circle cx="625.3" cy="78.1"/>
</g>
<g class="r">
<circle cx="555.6" cy="59.3"/>
<circle cx="552.1" cy="77.1"/>
<circle cx="492.9" cy="60.9"/>
<circle cx="606" cy="61.6"/>
<circle cx="458.2" cy="77.4"/>
<circle cx="555.2" cy="62"/>
</g>
<g class="b">
<circle cx="619" cy="73.2"/>
</g>
<g class="r">
<circle cx="594.6" cy="69"/>
</g>
<g class="b">
<circle cx="538.1" cy="77.3"/>
</g>
<g class="r">
<circle cx="469.2" cy="72.1"/>
<circle cx="459.2" cy="67.3"/>
</g>
<g class="b">
<circle cx="459.1" cy="57.5"/>
</g>
<g class="r">
<circle cx="540" cy="72.7"/>
<circle cx="538.3" cy="58.1"/>
</g>
<g class="b">
<circle cx="470.4" cy="58.2"/>
<circle cx="631.2" cy="74.2"/>
<circle cx="623.4" cy="64"/>
</g>
<g class="r">
<circle cx="644.7" cy="60.7"/>
<circle cx="470.4" cy="71.1"/>
<circle cx="459.6" cy="59.8"/>
<circle cx="547.7" cy="63.1"/>
<circle cx="631.9" cy="71.3"/>
</g>
<g class="b">
<circle cx="461.8" cy="65.2"/>
<circle cx="552.7" cy="72.3"/>
<circle cx="543.8" cy="71.8"/>
<circle cx="457" cy="74.5"/>
<circle cx="471.1" cy="63.6"/>
</g>
<g class="r">
<circle cx="548.5" cy="72.7"/>
</g>
<g class="b">
<circle cx="627" cy="69.9"/>
</g>
<g class="r">
<circle cx="560.2" cy="68.4"/>
</g>
<g class="b">
<circle cx="463" cy="74.4"/>
</g>
<g class="r">
<circle cx="564.5" cy="74"/>
<circle cx="509.9" cy="71.3"/>
<circle cx="619.1" cy="65"/>
</g>
<g class="b">
<circle cx="473.1" cy="69.8"/>
<circle cx="547.2" cy="63.9"/>
</g>
<g class="r">
<circle cx="483" cy="63.2"/>
<circle cx="560.1" cy="64.4"/>
<circle cx="639.8" cy="68.8"/>
</g>
<g class="b">
<circle cx="627.4" cy="59.1"/>
<circle cx="626.7" cy="62.6"/>
</g>
<g class="r">
<circle cx="557.1" cy="70.6"/>
<circle cx="464.6" cy="65.6"/>
</g>
<g class="b">
<circle cx="454.9" cy="76"/>
</g>
<g class="r">
<circle cx="547.3" cy="60.4"/>
<circle cx="464.5" cy="62.6"/>
</g>
<g class="b">
<circle cx="558.1" cy="64.6"/>
</g>
<g class="r">
<circle cx="553.4" cy="67.3"/>
<circle cx="555.3" cy="70.2"/>
</g>
<g class="b">
<circle cx="542" cy="60.7"/>
</g>
<g class="r">
<circle cx="454.6" cy="58.3"/>
</g>
<g class="b">
<circle cx="468.6" cy="70.4"/>
<circle cx="638.1" cy="61.3"/>
</g>
<g class="r">
<circle cx="636.7" cy="67.1"/>
</g>
<g class="b">
<circle cx="537.1" cy="71.2"/>
<circle cx="634.5" cy="77"/>
</g>
<g class="r">
<circle cx="640.4" cy="67.3"/>
</g>
<g class="b">
<circle cx="548.8" cy="57.7"/>
</g>
<g class="r">
<circle cx="460.2" cy="68.3"/>
<circle cx="559.1" cy="76.2"/>
<circle cx="457.9" cy="58.5"/>
<circle cx="456.7" cy="73.5"/>
<circle cx="452.3" cy="78"/>
<circle cx="481.8" cy="61.8"/>
<circle cx="632.7" cy="76.3"/>
</g>
<g class="b">
<circle cx="550" cy="76.6"/>
</g>
<g class="r">
<circle cx="492.7" cy="68.6"/>
</g>
<g class="b">
<circle cx="627.4" cy="73.3"/>
<circle cx="462.5" cy="64.2"/>
<circle cx="557" cy="59.8"/>
</g>
<g class="r">
<circle cx="619.6" cy="57"/>
<circle cx="540.5" cy="74.9"/>
</g>
<g class="b">
<circle cx="631.4" cy="57.2"/>
</g>
<g class="r">
<circle cx="485.7" cy="58.5"/>
<circle cx="541.7" cy="65.8"/>
<circle cx="471.6" cy="63.5"/>
</g>
<g class="b">
<circle cx="544.6" cy="64.7"/>
</g>
<g class="r">
<circle cx="598" cy="75.6"/>
</g>
<g class="b">
<circle cx="617.9" cy="65"/>
</g>
<g class="r">
<circle cx="632.5" cy="61.3"/>
</g>
<g class="b">
<circle cx="456.6" cy="69.7"/>
<circle cx="456.8" cy="63.3"/>
<circle cx="629" cy="72.5"/>
<circle cx="461.2" cy="62.8"/>
<circle cx="462.6" cy="62.1"/>
</g>
<g class="r">
<circle cx="621.5" cy="73.7"/>
</g>
<g class="b">
<circle cx="551" cy="76.9"/>
</g>
<g class="r">
<circle cx="495.4" cy="72.8"/>
</g>
<g class="b">
<circle cx="548.6" cy="74.8"/>
<circle cx="468.5" cy="67.3"/>
</g>
<g class="r">
<circle cx="553.9" cy="69.4"/>
<circle cx="628.5" cy="58.1"/>
<circle cx="471.9" cy="59.2"/>
</g>
<g class="b">
<circle cx="544.7" cy="67.6"/>
<circle cx="616.3" cy="59.9"/>
</g>
<g class="r">
<circle cx="576.3" cy="71.1"/>
<circle cx="624.2" cy="71.4"/>
<circle cx="551.4" cy="60.1"/>
</g>
<g class="b">
<circle cx="639.2" cy="72.8"/>
<circle cx="459.6" cy="77.8"/>
</g>
<g class="r">
<circle cx="565" cy="74.5"/>
<circle cx="473.8" cy="67.5"/>
<circle cx="457.8" cy="75.8"/>
<circle cx="620.9" cy="76.3"/>
</g>
<g class="b">
<circle cx="474.1" cy="62.9"/>
<circle cx="543.1" cy="65.7"/>
<circle cx="465.7" cy="64.2"/>
<circle cx="620.7" cy="72.8"/>
<circle cx="622.4" cy="65.2"/>
<circle cx="463.7" cy="59.5"/>
<circle cx="629.1" cy="67.1"/>
</g>
<g class="r">
<circle cx="518.7" cy="61.5"/>
<circle cx="615.7" cy="73.9"/>
<circle cx="562.9" cy="62"/>
<circle cx="542.3" cy="69.8"/>
</g>
<g class="b">
<circle cx="545.3" cy="69.8"/>
</g>
<g class="r">
<circle cx="537.4" cy="74"/>
</g>
<g class="b">
<circle cx="462.8" cy="72.1"/>
<circle cx="462.9" cy="57.7"/>
</g>
<g class="r">
<circle cx="442.6" cy="66.3"/>
<circle cx="637.9" cy="77.3"/>
<circle cx="468.8" cy="60.1"/>
<circle cx="523.1" cy="59.2"/>
<circle cx="472.1" cy="56.6"/>
</g>
<g class="b">
<circle cx="624.3" cy="70.3"/>
</g>
<g class="r">
<circle cx="617" cy="66.7"/>
<circle cx="650.1" cy="71.2"/>
</g>
<g class="b">
<circle cx="538.6" cy="74.1"/>
<circle cx="503.8" cy="60.9"/>
</g>
<g class="r">
<circle cx="474.8" cy="74.9"/>
</g>
<g class="b">
<circle cx="472.1" cy="76.5"/>
<circle cx="620.7" cy="59.5"/>
<circle cx="542.7" cy="57.7"/>
<circle cx="630.1" cy="73"/>
</g>
<g class="r">
<circle cx="463.3" cy="66.4"/>
<circle cx="454" cy="77.4"/>
</g>
<g class="b">
<circle cx="637.6" cy="72.8"/>
</g>
<g class="r">
<circle cx="543" cy="60.6"/>
<circle cx="526.9" cy="64.7"/>
<circle cx="633.7" cy="72.3"/>
</g>
<g class="b">
<circle cx="631" cy="69"/>
<circle cx="634.4" cy="56.6"/>
<circle cx="473.6" cy="65.2"/>
<circle cx="543.6" cy="70"/>
</g>
<g class="r">
<circle cx="668.8" cy="74.1"/>
</g>
<g class="b">
<circle cx="554" cy="71.6"/>
<circle cx="459.4" cy="61.6"/>
</g>
<g class="r">
<circle cx="620.5" cy="77.8"/>
<circle cx="543" cy="74.3"/>
</g>
<g class="b">
<circle cx="616" cy="57"/>
<circle cx="551.3" cy="73.9"/>
<circle cx="632.1" cy="70"/>
<circle cx="539.5" cy="60"/>
<circle cx="555.4" cy="74.1"/>
<circle cx="459.9" cy="73.5"/>
</g>
<g class="r">
<circle cx="471.5" cy="65.3"/>
<circle cx="538.3" cy="68.1"/>
</g>
<g class="b">
<circle cx="555.6" cy="72.7"/>
</g>
<g class="r">
<circle cx="558.7" cy="73.4"/>
<circle cx="640.2" cy="66.2"/>
</g>
<g class="b">
<circle cx="547.5" cy="61.5"/>
<circle cx="628.4" cy="64.5"/>
<circle cx="556.4" cy="75"/>
</g>
<g class="r">
<circle cx="637.5" cy="74.9"/>
<circle cx="539.3" cy="58.5"/>
<circle cx="625.1" cy="68.8"/>
<circle cx="641.7" cy="62.4"/>
<circle cx="549.3" cy="69"/>
<circle cx="541.4" cy="76.6"/>
</g>
<g class="b">
<circle cx="549.4" cy="71.5"/>
</g>
<g class="r">
<circle cx="640.3" cy="71"/>
<circle cx="517.8" cy="63.5"/>
<circle cx="640.3" cy="73.2"/>
<circle cx="556.4" cy="69.6"/>
<circle cx="540.5" cy="63.5"/>
</g>
<g class="b">
<circle cx="628.9" cy="69.9"/>
</g>
<g class="r">
<circle cx="595.5" cy="66.5"/>
</g>
<g class="b">
<circle cx="547.2" cy="58.3"/>
</g>
<g class="r">
<circle cx="573.8" cy="62"/>
<circle cx="598.1" cy="58"/>
</g>
<g class="b">
<circle cx="554" cy="67"/>
<circle cx="469.8" cy="67.6"/>
<circle cx="621.4" cy="69.4"/>
</g>
<g class="r">
<circle cx="461.6" cy="77.2"/>
<circle cx="539.6" cy="61.4"/>
<circle cx="640.6" cy="76.5"/>
</g>
<g class="b">
<circle cx="635.7" cy="77.5"/>
</g>
<g class="r">
<circle cx="473.1" cy="63.7"/>
<circle cx="542.9" cy="56.8"/>
</g>
<g class="b">
<circle cx="476" cy="69.2"/>
<circle cx="538.8" cy="76.6"/>
</g>
<g class="r">
<circle cx="476.4" cy="73"/>
</g>
<g class="b">
<circle cx="639.4" cy="73.7"/>
<circle cx="454.7" cy="69.8"/>
</g>
<g class="r">
<circle cx="570.8" cy="72.2"/>
</g>
<g class="b">
<circle cx="455.3" cy="56.5"/>
</g>
<g class="r">
<circle cx="638.8" cy="75.2"/>
</g>
<g class="b">
<circle cx="466.7" cy="77"/>
<circle cx="539.6" cy="74.6"/>
<circle cx="474.6" cy="77.8"/>
<circle cx="451.8" cy="72.4"/>
</g>
<g class="r">
<circle cx="451.7" cy="71.4"/>
</g>
<g class="b">
<circle cx="556.7" cy="75.5"/>
</g>
<g class="r">
<circle cx="585.3" cy="59.2"/>
</g>
<g class="b">
<circle cx="559.8" cy="68.1"/>
</g>
<g class="r">
<circle cx="444.3" cy="70.8"/>
</g>
<g class="b">
<circle cx="546.7" cy="75"/>
</g>
<g class="r">
<circle cx="559.6" cy="68.8"/>
</g>
<g class="b">
<circle cx="630" cy="67.6"/>
<circle cx="461.1" cy="75.1"/>
</g>
<g class="r">
<circle cx="469" cy="64"/>
<circle cx="541.4" cy="78.1"/>
</g>
<g class="b">
<circle cx="626.5" cy="73.7"/>
</g>
<g class="r">
<circle cx="619" cy="61.1"/>
<circle cx="661.2" cy="65.7"/>
<circle cx="629.5" cy="67.4"/>
<circle cx="634.7" cy="69"/>
<circle cx="454.5" cy="65"/>
</g>
<g class="b">
<circle cx="539.5" cy="63.2"/>
</g>
<g class="r">
<circle cx="637.4" cy="68.9"/>
</g>
<g class="b">
<circle cx="456.1" cy="56.8"/>
</g>
<g class="r">
<circle cx="437.5" cy="58"/>
</g>
<g class="b">
<circle cx="549.9" cy="65.1"/>
</g>
<g class="r">
<circle cx="456" cy="63.8"/>
<circle cx="565.7" cy="70.8"/>
</g>
<g class="b">
<circle cx="465.4" cy="57"/>
</g>
<g class="r">
<circle cx="550.3" cy="72.6"/>
<circle cx="638.7" cy="56.6"/>
<circle cx="546.3" cy="74.4"/>
</g>
<g class="b">
<circle cx="553.4" cy="61.9"/>
</g>
<g class="r">
<circle cx="548.9" cy="73.3"/>
<circle cx="603.4" cy="71.3"/>
<circle cx="454.9" cy="65.8"/>
</g>
<g class="b">
<circle cx="617.6" cy="61.6"/>
<circle cx="555.3" cy="65.7"/>
<circle cx="551.3" cy="66.6"/>
</g>
<g class="r">
<circle cx="453.2" cy="76.6"/>
<circle cx="537.1" cy="77.9"/>
<circle cx="657.2" cy="75.8"/>
<circle cx="539.3" cy="64.5"/>
</g>
<g class="b">
<circle cx="468.7" cy="62"/>
<circle cx="626.7" cy="60.7"/>
</g>
<g class="r">
<circle cx="472.5" cy="77.7"/>
<circle cx="558.2" cy="75.3"/>
</g>
<g class="b">
<circle cx="634.6" cy="72.8"/>
</g>
<g class="r">
<circle cx="627.3" cy="76.2"/>
<circle cx="468.1" cy="75.3"/>
</g>
<g class="b">
<circle cx="535.4" cy="67.7"/>
</g>
<g class="r">
<circle cx="475.8" cy="72.4"/>
<circle cx="448.4" cy="76.9"/>
</g>
<g class="b">
<circle cx="458.6" cy="58.8"/>
<circle cx="469.1" cy="75.8"/>
</g>
<g class="r">
<circle cx="453" cy="65.6"/>
</g>
<g class="b">
<circle cx="473.4" cy="74.5"/>
<circle cx="546.3" cy="76"/>
</g>
<g class="r">
<circle cx="478.3" cy="59.9"/>
</g>
</g>
<rect x="26.5" y="162.4" width="139.1" height="69.8" fill="none" stroke="#333" stroke-width="1"/>
<path d="M58.4 232.2v-4M58.4 162.4v4M90.4 232.2v-4M90.4 162.4v4M122.4 232.2v-4M122.4 162.4v4M154.4 232.2v-4M154.4 162.4v4M42.4 232.2v-2.5M42.4 162.4v2.5M74.4 232.2v-2.5M74.4 162.4v2.5M106.4 232.2v-2.5M106.4 162.4v2.5M138.4 232.2v-2.5M138.4 162.4v2.5M26.5 208.9h4M165.6 208.9h-4M26.5 185.7h4M165.6 185.7h-4M26.5 220.6h2.5M165.6 220.6h-2.5M26.5 197.3h2.5M165.6 197.3h-2.5M26.5 174h2.5M165.6 174h-2.5" stroke="#333" stroke-width="1" fill="none"/>
<polyline points="27.5,228.6 40,228.5 55,228.7 70,228.6 80,228.3 83.9,227.6 86.2,224.6 87.8,220.5 89.4,213.8 91.7,202.8 94.1,194.5 96.9,186 98.8,183.5 103.4,182.7 107,182 115.6,182 117.6,183.2 119.5,187 121.4,195 123.7,202.8 126.1,212.2 128.4,220 130.8,225.5 133.1,227.8 137,228.6 145,228.8 155,228.6 165,229" fill="none" stroke="#000" stroke-width="1.5" stroke-linejoin="round"/>
<polyline points="27.5,231.3 60,231.4 80,231.4 86.2,231 88.6,228.6 90.2,224.7 92.5,215.3 94.8,208.3 97.2,204.4 100.3,202.5 103.4,200.9 105.6,200.5 108.3,203.4 110.2,200.2 115.6,199.7 117.5,200.5 119,204.4 121.4,212.2 123.7,220 126.1,226.2 128.4,230.3 131.5,231.3 165,231.4" fill="none" stroke="#1515ee" stroke-width="1.5" stroke-linejoin="round"/>
<polyline points="27.5,229.2 40,229 50,228.8 60,229 70,228.7 80,229.4 86.2,229 88.6,227 90.9,222.3 93.3,216.9 95.6,213 97.2,211.4 98.8,210.6 100.3,211.9 101.9,210.6 103.4,211.9 105,210.6 107.3,211.4 108.9,210.4 110.9,211.4 112,213 116.7,214.5 119,215.3 121.4,217.7 123.7,221.6 126.1,225.5 129.2,227.8 132.3,228.6 140,228.9 150,228.7 155,228.5 165,229" fill="none" stroke="#ee1515" stroke-width="1.5" stroke-linejoin="round"/>
<path d="M31 171.8h3.8" stroke="#000" stroke-width="1.6"/>
<path d="M31 181.8h3.8" stroke="#1515ee" stroke-width="1.6"/>
<path d="M31 191.8h3.8" stroke="#ee1515" stroke-width="1.6"/>
<text x="38.3" y="176" font-size="11.3" text-anchor="start" >Total density</text>
<text x="38.3" y="186" font-size="11.3" text-anchor="start" >Scaffold</text>
<text x="38.3" y="196" font-size="11.3" text-anchor="start" >Surfactant</text>
<text x="25.4" y="166.5" font-size="11.5" text-anchor="end" >0.6</text>
<text x="25.4" y="189.8" font-size="11.5" text-anchor="end" >0.4</text>
<text x="25.4" y="213" font-size="11.5" text-anchor="end" >0.2</text>
<text x="26.1" y="236.7" font-size="11.5" text-anchor="end" >0</text>
<text x="26.4" y="243.7" font-size="11.5" text-anchor="middle" >0</text>
<text x="58.4" y="243.7" font-size="11.5" text-anchor="middle" >10</text>
<text x="90.4" y="243.7" font-size="11.5" text-anchor="middle" >20</text>
<text x="122.4" y="243.7" font-size="11.5" text-anchor="middle" >30</text>
<text x="154.4" y="243.7" font-size="11.5" text-anchor="middle" >40</text>
<text x="85.2" y="253.8" font-size="11.5" text-anchor="start" >Lx</text>
<text x="97.8" y="251.4" font-size="9" text-anchor="start" >*</text>
<text x="3.1" y="201.8" font-size="11.5" text-anchor="start" >ρ</text>
<text x="9" y="199.4" font-size="9" text-anchor="start" >*</text>
<rect x="198.5" y="135.5" width="189.7" height="95.4" fill="none" stroke="#333" stroke-width="1"/>
<path d="M226.7 230.9v-4M226.7 135.5v4M255.3 230.9v-4M255.3 135.5v4M283.9 230.9v-4M283.9 135.5v4M312.6 230.9v-4M312.6 135.5v4M341.2 230.9v-4M341.2 135.5v4M369.9 230.9v-4M369.9 135.5v4M212.3 230.9v-2.5M212.3 135.5v2.5M241 230.9v-2.5M241 135.5v2.5M269.6 230.9v-2.5M269.6 135.5v2.5M298.3 230.9v-2.5M298.3 135.5v2.5M326.9 230.9v-2.5M326.9 135.5v2.5M355.6 230.9v-2.5M355.6 135.5v2.5M384.2 230.9v-2.5M384.2 135.5v2.5M198.5 199.1h4M388.2 199.1h-4M198.5 167.3h4M388.2 167.3h-4M198.5 215h2.5M388.2 215h-2.5M198.5 183.2h2.5M388.2 183.2h-2.5M198.5 151.4h2.5M388.2 151.4h-2.5" stroke="#333" stroke-width="1" fill="none"/>
<polyline points="201.5,224.2 202,224.2 202.5,224.2 203,224.2 203.5,224.2 204,224.2 204.5,224.2 205,224.2 205.5,224.2 206,224.2 206.5,224.2 207,224.2 207.5,224.2 208,224.2 208.5,224.2 209,224.2 209.5,224.2 210,224.2 210.5,224.2 211,224.2 211.5,224.2 212,224.2 212.5,224.2 213,224.2 213.5,224.2 214,224.2 214.5,224.2 215,224.2 215.5,224.2 216,224.2 216.5,224.2 217,224.2 217.5,224.2 218,224.2 218.5,224.2 219,224.2 219.5,224.2 220,224.2 220.5,224.1 221,224 221.5,223.8 222,223.7 222.5,223.6 223,223.5 223.5,223.3 224,222.9 224.5,222.4 225,221.8 225.5,221.3 226,220.8 226.5,219.5 227,218 227.5,216.4 228,214.9 228.5,213.2 229,210.9 229.5,208.6 230,206.3 230.5,203.9 231,201.8 231.5,199.7 232,197.7 232.5,195.6 233,193.5 233.5,191.4 234,189.3 234.5,187.3 235,185.2 235.5,183.2 236,181.2 236.5,179.2 237,177.1 237.5,175.1 238,173.1 238.5,171 239,169 239.5,166.9 240,165 240.5,163.2 241,161.5 241.5,159.8 242,158.1 242.5,156.7 243,156.7 243.5,156.6 244,156.6 244.5,156.5 245,156.5 245.5,156.4 246,156.4 246.5,156.4 247,156.5 247.5,156.5 248,156.6 248.5,156.6 249,156.6 249.5,156.7 250,157.4 250.5,159.1 251,160.8 251.5,162.5 252,164.3 252.5,166.1 253,168.2 253.5,170.2 254,172.2 254.5,174.3 255,176.3 255.5,178.3 256,180.4 256.5,182.4 257,184.4 257.5,186.5 258,188.5 258.5,190.5 259,192.7 259.5,194.8 260,196.8 260.5,198.9 261,200.9 261.5,203 262,205.3 262.5,207.7 263,210 263.5,212.3 264,214.3 264.5,215.8 265,217.4 265.5,218.9 266,220.4 266.5,221.1 267,221.6 267.5,222.2 268,222.7 268.5,223.2 269,223.4 269.5,223.5 270,223.7 270.5,223.8 271,223.9 271.5,224 272,224.2 272.5,224.2 273,224.2 273.5,224.2 274,224.2 274.5,224.2 275,224.2 275.5,224.2 276,224.2 276.5,224.2 277,224.2 277.5,224.2 278,224.2 278.5,224.2 279,224.2 279.5,224.2 280,224.2 280.5,224.2 281,224.2 281.5,224.2 282,224.2 282.5,224.2 283,224.2 283.5,224.2 284,224.2 284.5,224.2 285,224.2 285.5,224.2 286,224.2 286.5,224.2 287,224.2 287.5,224.2 288,224.2 288.5,224.2 289,224.2 289.5,224.2 290,224.2 290.5,224.2 291,224.2 291.5,224.2 292,224.2 292.5,224.2 293,224.2 293.5,224.2 294,224.2 294.5,224.2 295,224.2 295.5,224.2 296,224.2 296.5,224.2 297,224.2 297.5,224.2 298,224.2 298.5,224.2 299,224.2 299.5,224.2 300,224.2 300.5,224.2 301,224.2 301.5,224.2 302,224.2 302.5,224.2 303,224.2 303.5,224.2 304,224.2 304.5,224.2 305,224.2 305.5,224.2 306,224.2 306.5,224.2 307,224.2 307.5,224.2 308,224.2 308.5,224.2 309,224.2 309.5,224.2 310,224.2 310.5,224.2 311,224.2 311.5,224.2 312,224.2 312.5,224.2 313,224.2 313.5,224.2 314,224.2 314.5,224.2 315,224.2 315.5,224.2 316,224.2 316.5,224.2 317,224.2 317.5,224.2 318,224.2 318.5,224.2 319,224.2 319.5,224.2 320,224.2 320.5,224.2 321,224.2 321.5,224.2 322,224.2 322.5,224.2 323,224.2 323.5,224.2 324,224.2 324.5,224.1 325,224 325.5,223.9 326,223.7 326.5,223.6 327,223.5 327.5,223.4 328,223 328.5,222.5 329,221.9 329.5,221.4 330,220.9 330.5,219.8 331,218.3 331.5,216.7 332,215.2 332.5,213.7 333,211.4 333.5,209 334,206.7 334.5,204.4 335,202.2 335.5,200.1 336,198.1 336.5,196 337,193.9 337.5,191.8 338,189.7 338.5,187.7 339,185.6 339.5,183.6 340,181.6 340.5,179.6 341,177.5 341.5,175.5 342,173.5 342.5,171.4 343,169.4 343.5,167.3 344,165.3 344.5,163.6 345,161.9 345.5,160.1 346,158.4 346.5,156.7 347,156.7 347.5,156.6 348,156.6 348.5,156.5 349,156.5 349.5,156.5 350,156.4 350.5,156.6 351,156.7 351.5,156.7 352,156.7 352.5,156.8 353,156.8 353.5,156.9 354,157.2 354.5,159 355,160.7 355.5,162.4 356,164.1 356.5,165.9 357,168 357.5,170 358,172 358.5,174.1 359,176.1 359.5,178.1 360,180.2 360.5,182.2 361,184.2 361.5,186.3 362,188.3 362.5,190.3 363,192.4 363.5,194.6 364,196.6 364.5,198.7 365,200.7 365.5,202.8 366,205 366.5,207.2 367,209.4 367.5,211.6 368,213.7 368.5,215 369,216.3 369.5,217.6 370,218.9 370.5,219.6 371,220.1 371.5,220.5 372,220.9 372.5,221.3 373,221.7 373.5,221.9 374,222.1 374.5,222.3 375,222.6 375.5,222.8 376,223 376.5,223.2 377,223.4 377.5,223.5 378,223.6 378.5,223.7 379,223.7 379.5,223.8 380,223.8 380.5,223.9 381,223.9 381.5,224 382,224.1 382.5,224.1 383,224.2 383.5,224.2 384,224.2 384.5,224.2 385,224.2 385.5,224.2 386,224.2 386.5,224.2" fill="none" stroke="#000" stroke-width="1.5" stroke-linejoin="round"/>
<polyline points="201.5,227.6 202,227.6 202.5,227.6 203,227.6 203.5,227.6 204,227.6 204.5,227.6 205,227.6 205.5,227.6 206,227.6 206.5,227.6 207,227.6 207.5,227.6 208,227.6 208.5,227.6 209,227.6 209.5,227.6 210,227.6 210.5,227.6 211,227.6 211.5,227.6 212,227.6 212.5,227.6 213,227.6 213.5,227.6 214,227.6 214.5,227.6 215,227.6 215.5,227.6 216,227.6 216.5,227.6 217,227.6 217.5,227.6 218,227.6 218.5,227.6 219,227.6 219.5,227.6 220,227.6 220.5,227.6 221,227.5 221.5,227.4 222,227.3 222.5,227.2 223,227.2 223.5,227.1 224,227 224.5,226.9 225,226.7 225.5,226.3 226,226 226.5,225.6 227,225.2 227.5,224.8 228,223.8 228.5,222.7 229,221.7 229.5,220.7 230,219.6 230.5,218.6 231,217.2 231.5,215.8 232,214.5 232.5,213.1 233,211.7 233.5,210.3 234,208.9 234.5,207.5 235,206.1 235.5,204.8 236,203.6 236.5,202.3 237,201 237.5,199.7 238,198.4 238.5,197.2 239,195.9 239.5,194.9 240,193.8 240.5,192.8 241,191.7 241.5,190.7 242,189.7 242.5,188.6 243,188.3 243.5,188.2 244,188.1 244.5,188 245,188 245.5,187.9 246,187.8 246.5,187.8 247,187.9 247.5,188 248,188 248.5,188.1 249,188.2 249.5,188.3 250,188.6 250.5,189.7 251,190.7 251.5,191.7 252,192.8 252.5,193.8 253,194.9 253.5,195.9 254,197.2 254.5,198.4 255,199.7 255.5,201 256,202.3 256.5,203.6 257,204.8 257.5,206.1 258,207.5 258.5,208.9 259,210.3 259.5,211.7 260,213.1 260.5,214.5 261,215.8 261.5,217.2 262,218.6 262.5,219.6 263,220.7 263.5,221.7 264,222.7 264.5,223.8 265,224.8 265.5,225.2 266,225.6 266.5,226 267,226.3 267.5,226.7 268,226.9 268.5,227 269,227.1 269.5,227.2 270,227.2 270.5,227.3 271,227.4 271.5,227.5 272,227.6 272.5,227.6 273,227.6 273.5,227.6 274,227.6 274.5,227.6 275,227.6 275.5,227.6 276,227.6 276.5,227.6 277,227.6 277.5,227.6 278,227.6 278.5,227.6 279,227.6 279.5,227.6 280,227.6 280.5,227.6 281,227.6 281.5,227.6 282,227.6 282.5,227.6 283,227.6 283.5,227.6 284,227.6 284.5,227.6 285,227.6 285.5,227.6 286,227.6 286.5,227.6 287,227.6 287.5,227.6 288,227.6 288.5,227.6 289,227.6 289.5,227.6 290,227.6 290.5,227.6 291,227.6 291.5,227.6 292,227.6 292.5,227.6 293,227.6 293.5,227.6 294,227.6 294.5,227.6 295,227.6 295.5,227.6 296,227.6 296.5,227.6 297,227.6 297.5,227.6 298,227.6 298.5,227.6 299,227.6 299.5,227.6 300,227.6 300.5,227.6 301,227.6 301.5,227.6 302,227.6 302.5,227.6 303,227.6 303.5,227.6 304,227.6 304.5,227.6 305,227.6 305.5,227.6 306,227.6 306.5,227.6 307,227.6 307.5,227.6 308,227.6 308.5,227.6 309,227.6 309.5,227.6 310,227.6 310.5,227.6 311,227.6 311.5,227.6 312,227.6 312.5,227.6 313,227.6 313.5,227.6 314,227.6 314.5,227.6 315,227.6 315.5,227.6 316,227.6 316.5,227.6 317,227.6 317.5,227.6 318,227.6 318.5,227.6 319,227.6 319.5,227.6 320,227.6 320.5,227.6 321,227.6 321.5,227.6 322,227.6 322.5,227.6 323,227.6 323.5,227.6 324,227.6 324.5,227.6 325,227.5 325.5,227.4 326,227.4 326.5,227.3 327,227.2 327.5,227.1 328,227.1 328.5,227 329,226.9 329.5,226.5 330,226.2 330.5,225.8 331,225.4 331.5,225 332,224.3 332.5,223.2 333,222.2 333.5,221.2 334,220.2 334.5,219.1 335,217.9 335.5,216.5 336,215.2 336.5,213.8 337,212.4 337.5,211 338,209.6 338.5,208.2 339,206.8 339.5,205.5 340,204.2 340.5,202.9 341,201.6 341.5,200.4 342,199.1 342.5,197.8 343,196.5 343.5,195.4 344,194.3 344.5,193.3 345,192.3 345.5,191.2 346,190.2 346.5,189.1 347,188.3 347.5,188.2 348,188.1 348.5,188.1 349,188 349.5,187.9 350,187.9 350.5,187.8 351,187.9 351.5,187.9 352,188 352.5,188.1 353,188.1 353.5,188.2 354,188.3 354.5,189.1 355,190.2 355.5,191.2 356,192.3 356.5,193.3 357,194.3 357.5,195.4 358,196.5 358.5,197.8 359,199.1 359.5,200.4 360,201.6 360.5,202.9 361,204.2 361.5,205.5 362,206.8 362.5,208.2 363,209.6 363.5,211 364,212.4 364.5,213.8 365,215.2 365.5,216.5 366,217.9 366.5,219.1 367,220.2 367.5,221.2 368,222.2 368.5,223.2 369,224.3 369.5,225 370,225.4 370.5,225.8 371,226.2 371.5,226.5 372,226.9 372.5,227 373,227.1 373.5,227.1 374,227.2 374.5,227.3 375,227.4 375.5,227.4 376,227.5 376.5,227.6 377,227.6 377.5,227.6 378,227.6 378.5,227.6 379,227.6 379.5,227.6 380,227.6 380.5,227.6 381,227.6 381.5,227.6 382,227.6 382.5,227.6 383,227.6 383.5,227.6 384,227.6 384.5,227.6 385,227.6 385.5,227.6 386,227.6 386.5,227.6" fill="none" stroke="#1515ee" stroke-width="1.5" stroke-linejoin="round"/>
<polyline points="201.5,225.2 202,225.2 202.5,225.2 203,225.2 203.5,225.2 204,225.2 204.5,225.2 205,225.2 205.5,225.2 206,225.2 206.5,225.2 207,225.2 207.5,225.2 208,225.2 208.5,225.2 209,225.2 209.5,225.2 210,225.2 210.5,225.2 211,225.2 211.5,225.2 212,225.2 212.5,225.2 213,225.2 213.5,225.2 214,225.2 214.5,225.2 215,225.2 215.5,225.2 216,225.2 216.5,225.2 217,225.2 217.5,225.2 218,225.2 218.5,225.2 219,225.2 219.5,225.2 220,225.2 220.5,225.1 221,225 221.5,224.9 222,224.8 222.5,224.8 223,224.7 223.5,224.6 224,224.5 224.5,224.4 225,223.8 225.5,223.2 226,222.6 226.5,222 227,221.4 227.5,220.8 228,219.8 228.5,218.6 229,217.5 229.5,216.3 230,215.2 230.5,214.1 231,213 231.5,212 232,211 232.5,210 233,209 233.5,208 234,207.1 234.5,206.4 235,205.7 235.5,205 236,204.3 236.5,203.6 237,202.9 237.5,202.2 238,201.7 238.5,201.3 239,200.9 239.5,200.5 240,200.1 240.5,199.7 241,199.3 241.5,198.9 242,198.7 242.5,198.6 243,198.4 243.5,198.3 244,198.1 244.5,198 245,197.9 245.5,197.7 246,198 246.5,198.1 247,198.3 247.5,198.4 248,198.5 248.5,198.7 249,198.8 249.5,198.9 250,199.1 250.5,199.3 251,199.9 251.5,200.4 252,201 252.5,201.6 253,202.2 253.5,202.8 254,203.4 254.5,204.1 255,205.3 255.5,206.4 256,207.5 256.5,208.6 257,209.8 257.5,210.9 258,212 258.5,213.2 259,214.3 259.5,215.4 260,216.5 260.5,217.7 261,218.5 261.5,219.3 262,220 262.5,220.8 263,221.5 263.5,222.3 264,222.8 264.5,223 265,223.3 265.5,223.5 266,223.8 266.5,224 267,224.3 267.5,224.5 268,224.7 268.5,224.7 269,224.8 269.5,224.9 270,224.9 270.5,225 271,225.1 271.5,225.1 272,225.2 272.5,225.2 273,225.2 273.5,225.2 274,225.2 274.5,225.2 275,225.2 275.5,225.2 276,225.2 276.5,225.2 277,225.2 277.5,225.2 278,225.2 278.5,225.2 279,225.2 279.5,225.2 280,225.2 280.5,225.2 281,225.2 281.5,225.2 282,225.2 282.5,225.2 283,225.2 283.5,225.2 284,225.2 284.5,225.2 285,225.2 285.5,225.2 286,225.2 286.5,225.2 287,225.2 287.5,225.2 288,225.2 288.5,225.2 289,225.2 289.5,225.2 290,225.2 290.5,225.2 291,225.2 291.5,225.2 292,225.2 292.5,225.2 293,225.2 293.5,225.2 294,225.2 294.5,225.2 295,225.2 295.5,225.2 296,225.2 296.5,225.2 297,225.2 297.5,225.2 298,225.2 298.5,225.2 299,225.2 299.5,225.2 300,225.2 300.5,225.2 301,225.2 301.5,225.2 302,225.2 302.5,225.2 303,225.2 303.5,225.2 304,225.2 304.5,225.2 305,225.2 305.5,225.2 306,225.2 306.5,225.2 307,225.2 307.5,225.2 308,225.2 308.5,225.2 309,225.2 309.5,225.2 310,225.2 310.5,225.2 311,225.2 311.5,225.2 312,225.2 312.5,225.2 313,225.2 313.5,225.2 314,225.2 314.5,225.2 315,225.2 315.5,225.2 316,225.2 316.5,225.2 317,225.2 317.5,225.2 318,225.2 318.5,225.2 319,225.2 319.5,225.2 320,225.2 320.5,225.2 321,225.2 321.5,225.2 322,225.2 322.5,225.2 323,225.2 323.5,225.2 324,225.2 324.5,225.2 325,225.2 325.5,225.1 326,225 326.5,224.9 327,224.8 327.5,224.8 328,224.7 328.5,224.6 329,224.5 329.5,224.4 330,223.8 330.5,223.2 331,222.6 331.5,222 332,221.4 332.5,220.8 333,219.8 333.5,218.6 334,217.5 334.5,216.3 335,215.2 335.5,214.1 336,213 336.5,212 337,211 337.5,210 338,209 338.5,208 339,207.1 339.5,206.4 340,205.7 340.5,205 341,204.3 341.5,203.6 342,202.9 342.5,202.2 343,201.7 343.5,201.3 344,200.9 344.5,200.5 345,200.1 345.5,199.7 346,199.3 346.5,198.9 347,198.7 347.5,198.6 348,198.4 348.5,198.3 349,198.1 349.5,198 350,197.9 350.5,197.7 351,198 351.5,198.1 352,198.3 352.5,198.4 353,198.5 353.5,198.7 354,198.8 354.5,198.9 355,199.1 355.5,199.3 356,199.9 356.5,200.4 357,201 357.5,201.6 358,202.2 358.5,202.8 359,203.4 359.5,204.1 360,205.3 360.5,206.4 361,207.5 361.5,208.6 362,209.8 362.5,210.9 363,212 363.5,213.2 364,214.3 364.5,215.4 365,216.5 365.5,217.7 366,218.5 366.5,219.3 367,220 367.5,220.8 368,221.5 368.5,222.3 369,222.8 369.5,223 370,223.3 370.5,223.5 371,223.8 371.5,224 372,224.3 372.5,224.5 373,224.7 373.5,224.7 374,224.8 374.5,224.9 375,224.9 375.5,225 376,225.1 376.5,225.1 377,225.2 377.5,225.2 378,225.2 378.5,225.2 379,225.2 379.5,225.2 380,225.2 380.5,225.2 381,225.2 381.5,225.2 382,225.2 382.5,225.2 383,225.2 383.5,225.2 384,225.2 384.5,225.2 385,225.2 385.5,225.2 386,225.2 386.5,225.2" fill="none" stroke="#ee1515" stroke-width="1.5" stroke-linejoin="round"/>
<text x="196.7" y="139.6" font-size="11.5" text-anchor="end" >0.6</text>
<text x="196.7" y="171.4" font-size="11.5" text-anchor="end" >0.4</text>
<text x="196.7" y="203.2" font-size="11.5" text-anchor="end" >0.2</text>
<text x="197" y="232.4" font-size="11.5" text-anchor="end" >0</text>
<text x="198" y="242.4" font-size="11.5" text-anchor="middle" >0</text>
<text x="255.3" y="242.4" font-size="11.5" text-anchor="middle" >20</text>
<text x="312.6" y="242.4" font-size="11.5" text-anchor="middle" >40</text>
<text x="369.9" y="242.4" font-size="11.5" text-anchor="middle" >60</text>
<text x="284.5" y="252.6" font-size="11.5" text-anchor="start" >Lx</text>
<text x="297" y="250.8" font-size="9" text-anchor="start" >*</text>
<text x="176.3" y="186" font-size="11.5" text-anchor="start" >ρ</text>
<text x="182.4" y="182.8" font-size="9" text-anchor="start" >*</text>
<rect x="416.4" y="100.6" width="252.2" height="130.6" fill="none" stroke="#333" stroke-width="1"/>
<path d="M466.3 231.2v-4M466.3 100.6v4M516.3 231.2v-4M516.3 100.6v4M566.3 231.2v-4M566.3 100.6v4M616.3 231.2v-4M616.3 100.6v4M666.3 231.2v-4M666.3 100.6v4M441.3 231.2v-2.5M441.3 100.6v2.5M491.3 231.2v-2.5M491.3 100.6v2.5M541.3 231.2v-2.5M541.3 100.6v2.5M591.3 231.2v-2.5M591.3 100.6v2.5M641.3 231.2v-2.5M641.3 100.6v2.5M416.4 187.7h4M668.6 187.7h-4M416.4 144.1h4M668.6 144.1h-4M416.4 209.4h2.5M668.6 209.4h-2.5M416.4 165.9h2.5M668.6 165.9h-2.5M416.4 122.4h2.5M668.6 122.4h-2.5" stroke="#333" stroke-width="1" fill="none"/>
<polyline points="420.8,224.6 425.8,224.4 430.8,224.2 435.8,225.2 440.8,226.1 445.8,224.6 450.8,185 455.8,142.7 460.8,129.6 465.8,129.6 470.8,139.2 475.8,178 480.8,221 485.8,225.8 490.8,225.8 495.8,226.3 500.8,225.6 505.8,226.2 510.8,226 515.8,225.7 520.8,226 525.8,226.4 530.8,225.6 535.8,221 540.8,190 545.8,145.3 550.8,126.7 555.8,133.6 560.8,168 565.8,215 570.8,224.5 575.8,226.4 580.8,225.7 585.8,226.5 590.8,225.8 595.8,226.3 600.8,224.9 605.8,224.5 610.8,214 615.8,170 620.8,129.1 625.8,130.6 630.8,162 635.8,215 640.8,223.5 645.8,224.2 650.8,225 655.8,225.8 660.8,225 665.8,224.2" fill="none" stroke="#000" stroke-width="1.3" stroke-linejoin="round"/>
<polyline points="420.8,230.6 425.8,230.6 430.8,230.5 435.8,230.8 440.8,231 445.8,230.4 450.8,212 455.8,179 460.8,171.1 465.8,171.1 470.8,176 475.8,198 480.8,227.3 485.8,230.6 490.8,230.8 495.8,230.8 500.8,230.8 505.8,230.8 510.8,230.8 515.8,230.8 520.8,230.8 525.8,230.8 530.8,230.8 535.8,228.7 540.8,203.9 545.8,183.4 550.8,171.1 555.8,176.1 560.8,198 565.8,222.9 570.8,228.5 575.8,230.7 580.8,230.8 585.8,230.8 590.8,230.8 595.8,230.8 600.8,230.8 605.8,230.7 610.8,221.4 615.8,195.1 620.8,174.6 625.8,174.6 630.8,192.2 635.8,218.5 640.8,228.7 645.8,230.5 650.8,230.7 655.8,230.8 660.8,230.6 665.8,230.2" fill="none" stroke="#1515ee" stroke-width="1.3" stroke-linejoin="round"/>
<polyline points="420.8,225.4 425.8,225.4 430.8,225.4 435.8,226.1 440.8,226.8 445.8,226.1 450.8,209.7 455.8,195 460.8,190.1 465.8,191.6 470.8,196.5 475.8,206.8 480.8,221.4 485.8,225.8 490.8,226.9 495.8,226.7 500.8,226.4 505.8,226.7 510.8,227.1 515.8,226.4 520.8,227.2 525.8,226.5 530.8,227 535.8,222.9 540.8,208.2 545.8,191.6 550.8,188.4 555.8,189.2 560.8,202.4 565.8,218.5 570.8,225.8 575.8,226.5 580.8,227 585.8,226.3 590.8,226.9 595.8,226.7 600.8,226.4 605.8,226.5 610.8,218.5 615.8,199.5 620.8,186.9 625.8,189.2 630.8,198 635.8,215.6 640.8,223.7 645.8,226 650.8,226.4 655.8,226.9 660.8,227.1 665.8,225.8" fill="none" stroke="#ee1515" stroke-width="1.3" stroke-linejoin="round"/>
<text x="415.1" y="104.7" font-size="11.5" text-anchor="end" >0.6</text>
<text x="415.1" y="148.2" font-size="11.5" text-anchor="end" >0.4</text>
<text x="415.1" y="191.8" font-size="11.5" text-anchor="end" >0.2</text>
<text x="415.5" y="236.5" font-size="11.5" text-anchor="end" >0</text>
<text x="416.3" y="243.3" font-size="11.5" text-anchor="middle" >0</text>
<text x="466.3" y="243.3" font-size="11.5" text-anchor="middle" >25</text>
<text x="516.3" y="243.3" font-size="11.5" text-anchor="middle" >50</text>
<text x="566.3" y="243.3" font-size="11.5" text-anchor="middle" >75</text>
<text x="616.3" y="243.3" font-size="11.5" text-anchor="middle" >100</text>
<text x="666.3" y="243.3" font-size="11.5" text-anchor="middle" >125</text>
<text x="534.5" y="252.9" font-size="11.5" text-anchor="start" >Lx</text>
<text x="547.5" y="251" font-size="9" text-anchor="start" >*</text>
<text x="395.9" y="170.7" font-size="11.5" text-anchor="start" >ρ</text>
<text x="401.7" y="169" font-size="9" text-anchor="start" >*</text>
<text x="1" y="13.1" font-size="15" text-anchor="start" >(a)</text>
<text x="175.7" y="13.1" font-size="15" text-anchor="start" >(b)</text>
<text x="390.9" y="13.1" font-size="15" text-anchor="start" >(c)</text>
</svg>
</body></html>
